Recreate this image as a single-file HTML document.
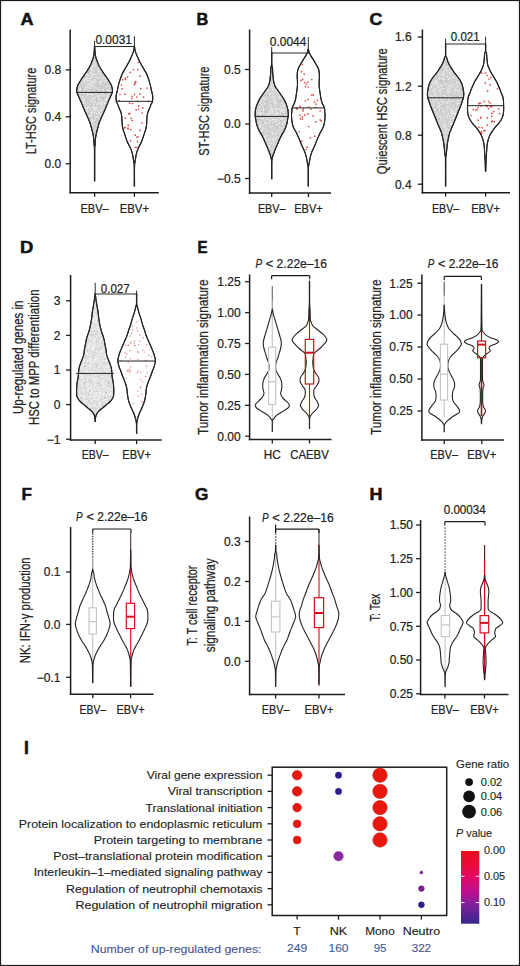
<!DOCTYPE html>
<html><head><meta charset="utf-8"><title>Figure</title>
<style>
html,body{margin:0;padding:0;background:#fff;}
body{width:520px;height:966px;overflow:hidden;font-family:"Liberation Sans",sans-serif;}
svg{display:block;}
</style></head><body>
<svg width="520" height="966" viewBox="0 0 520 966" font-family="Liberation Sans, sans-serif">
<rect x="0" y="0" width="520" height="966" fill="#ffffff"/>
<text x="20.50" y="24.50" font-size="16" fill="#111" stroke="#111" stroke-width="0.5" font-weight="bold" textLength="13.00" lengthAdjust="spacingAndGlyphs">A</text>
<path d="M94.48,46.50 C94.42,47.60 94.28,51.33 94.10,53.10 C93.92,54.87 93.75,55.75 93.40,57.10 C93.05,58.45 92.50,59.85 92.00,61.20 C91.50,62.55 91.05,63.87 90.40,65.20 C89.75,66.53 88.92,67.85 88.10,69.20 C87.28,70.55 86.40,71.95 85.50,73.30 C84.60,74.65 83.60,75.97 82.70,77.30 C81.80,78.63 80.92,79.95 80.10,81.30 C79.28,82.65 78.35,84.05 77.80,85.40 C77.25,86.75 76.97,88.23 76.80,89.40 C76.63,90.57 76.67,91.63 76.80,92.40 C76.93,93.17 77.18,93.05 77.60,94.00 C78.02,94.95 78.72,96.75 79.30,98.10 C79.88,99.45 80.52,100.75 81.10,102.10 C81.68,103.45 82.23,104.85 82.80,106.20 C83.37,107.55 83.92,108.87 84.50,110.20 C85.08,111.53 85.70,112.85 86.30,114.20 C86.90,115.55 87.52,116.95 88.10,118.30 C88.68,119.65 89.32,120.97 89.80,122.30 C90.28,123.63 90.62,124.95 91.00,126.30 C91.38,127.65 91.77,129.05 92.10,130.40 C92.43,131.75 92.73,133.05 93.00,134.40 C93.27,135.75 93.52,136.73 93.70,138.50 C93.88,140.27 93.97,143.08 94.10,145.00 C94.23,146.92 94.42,144.03 94.48,150.00 C94.54,155.97 94.48,175.67 94.48,180.80 L94.72,180.80 C94.72,175.67 94.66,155.97 94.72,150.00 C94.78,144.03 94.97,146.92 95.10,145.00 C95.23,143.08 95.32,140.27 95.50,138.50 C95.68,136.73 95.93,135.75 96.20,134.40 C96.47,133.05 96.77,131.75 97.10,130.40 C97.43,129.05 97.82,127.65 98.20,126.30 C98.58,124.95 98.92,123.63 99.40,122.30 C99.88,120.97 100.52,119.65 101.10,118.30 C101.68,116.95 102.30,115.55 102.90,114.20 C103.50,112.85 104.12,111.53 104.70,110.20 C105.28,108.87 105.83,107.55 106.40,106.20 C106.97,104.85 107.52,103.45 108.10,102.10 C108.68,100.75 109.32,99.45 109.90,98.10 C110.48,96.75 111.18,94.95 111.60,94.00 C112.02,93.05 112.27,93.17 112.40,92.40 C112.53,91.63 112.57,90.57 112.40,89.40 C112.23,88.23 111.95,86.75 111.40,85.40 C110.85,84.05 109.92,82.65 109.10,81.30 C108.28,79.95 107.40,78.63 106.50,77.30 C105.60,75.97 104.60,74.65 103.70,73.30 C102.80,71.95 101.92,70.55 101.10,69.20 C100.28,67.85 99.45,66.53 98.80,65.20 C98.15,63.87 97.70,62.55 97.20,61.20 C96.70,59.85 96.15,58.45 95.80,57.10 C95.45,55.75 95.28,54.87 95.10,53.10 C94.92,51.33 94.78,47.60 94.72,46.50 Z" fill="#d2d2d2" stroke="#242424" stroke-width="1.1" stroke-linejoin="round"/>
<g fill="#f4f4f4" opacity="0.9"><circle cx="99.2" cy="90.0" r="0.7"/><circle cx="93.7" cy="114.6" r="0.7"/><circle cx="83.7" cy="85.4" r="0.7"/><circle cx="85.1" cy="87.9" r="0.7"/><circle cx="82.7" cy="96.5" r="0.7"/><circle cx="96.5" cy="103.9" r="0.7"/><circle cx="100.3" cy="107.4" r="0.7"/><circle cx="95.2" cy="79.3" r="0.7"/><circle cx="97.4" cy="88.6" r="0.7"/><circle cx="99.3" cy="84.7" r="0.7"/><circle cx="87.6" cy="108.5" r="0.7"/><circle cx="102.1" cy="106.8" r="0.7"/><circle cx="90.8" cy="83.9" r="0.7"/><circle cx="92.3" cy="66.8" r="0.7"/><circle cx="96.5" cy="77.8" r="0.7"/><circle cx="92.6" cy="81.8" r="0.7"/><circle cx="107.0" cy="96.1" r="0.7"/><circle cx="84.6" cy="99.2" r="0.7"/><circle cx="91.9" cy="74.5" r="0.7"/><circle cx="93.4" cy="66.8" r="0.7"/><circle cx="91.4" cy="80.4" r="0.7"/><circle cx="87.2" cy="109.1" r="0.7"/><circle cx="104.5" cy="92.5" r="0.7"/><circle cx="99.1" cy="68.2" r="0.7"/><circle cx="95.1" cy="117.4" r="0.7"/><circle cx="86.3" cy="81.6" r="0.7"/><circle cx="104.0" cy="90.8" r="0.7"/><circle cx="91.7" cy="77.0" r="0.7"/><circle cx="99.8" cy="84.0" r="0.7"/><circle cx="87.0" cy="95.5" r="0.7"/><circle cx="96.5" cy="72.9" r="0.7"/><circle cx="99.5" cy="110.7" r="0.7"/><circle cx="108.9" cy="91.2" r="0.7"/><circle cx="105.7" cy="99.7" r="0.7"/><circle cx="90.7" cy="69.3" r="0.7"/><circle cx="83.8" cy="93.6" r="0.7"/><circle cx="91.0" cy="74.8" r="0.7"/><circle cx="89.3" cy="78.8" r="0.7"/><circle cx="103.8" cy="102.8" r="0.7"/><circle cx="97.0" cy="94.0" r="0.7"/><circle cx="93.9" cy="116.8" r="0.7"/><circle cx="98.5" cy="71.1" r="0.7"/><circle cx="92.7" cy="121.7" r="0.7"/><circle cx="94.2" cy="107.3" r="0.7"/><circle cx="105.6" cy="81.4" r="0.7"/><circle cx="94.2" cy="64.9" r="0.7"/><circle cx="98.3" cy="78.8" r="0.7"/><circle cx="106.6" cy="100.0" r="0.7"/><circle cx="90.7" cy="115.7" r="0.7"/><circle cx="80.1" cy="89.3" r="0.7"/><circle cx="95.0" cy="91.0" r="0.7"/><circle cx="101.7" cy="82.2" r="0.7"/><circle cx="92.6" cy="82.8" r="0.7"/><circle cx="104.9" cy="81.2" r="0.7"/><circle cx="104.2" cy="103.6" r="0.7"/><circle cx="95.6" cy="107.4" r="0.7"/><circle cx="95.3" cy="82.5" r="0.7"/><circle cx="87.3" cy="78.5" r="0.7"/><circle cx="91.5" cy="73.6" r="0.7"/><circle cx="85.4" cy="85.4" r="0.7"/><circle cx="87.2" cy="93.1" r="0.7"/><circle cx="94.4" cy="120.5" r="0.7"/><circle cx="101.7" cy="104.5" r="0.7"/><circle cx="99.3" cy="99.3" r="0.7"/><circle cx="100.8" cy="92.5" r="0.7"/><circle cx="83.9" cy="100.9" r="0.7"/><circle cx="96.1" cy="63.9" r="0.7"/><circle cx="84.6" cy="80.8" r="0.7"/><circle cx="88.9" cy="84.4" r="0.7"/><circle cx="93.6" cy="108.2" r="0.7"/><circle cx="99.2" cy="120.0" r="0.7"/><circle cx="79.8" cy="88.1" r="0.7"/><circle cx="94.7" cy="97.8" r="0.7"/><circle cx="92.1" cy="82.0" r="0.7"/><circle cx="97.1" cy="87.4" r="0.7"/><circle cx="106.9" cy="98.8" r="0.7"/><circle cx="87.1" cy="77.4" r="0.7"/><circle cx="104.1" cy="94.9" r="0.7"/><circle cx="99.3" cy="112.2" r="0.7"/><circle cx="89.1" cy="80.4" r="0.7"/><circle cx="94.3" cy="112.8" r="0.7"/><circle cx="80.3" cy="87.4" r="0.7"/><circle cx="99.6" cy="82.6" r="0.7"/><circle cx="93.6" cy="85.6" r="0.7"/><circle cx="101.7" cy="109.1" r="0.7"/><circle cx="88.9" cy="106.9" r="0.7"/><circle cx="86.7" cy="111.8" r="0.7"/><circle cx="91.6" cy="112.5" r="0.7"/><circle cx="79.6" cy="88.9" r="0.7"/><circle cx="91.5" cy="85.4" r="0.7"/><circle cx="84.8" cy="104.0" r="0.7"/><circle cx="94.9" cy="80.0" r="0.7"/><circle cx="101.0" cy="72.0" r="0.7"/><circle cx="106.6" cy="84.9" r="0.7"/><circle cx="101.8" cy="92.7" r="0.7"/><circle cx="89.7" cy="81.4" r="0.7"/><circle cx="91.4" cy="69.0" r="0.7"/><circle cx="100.6" cy="113.3" r="0.7"/><circle cx="88.6" cy="106.9" r="0.7"/><circle cx="86.7" cy="92.4" r="0.7"/><circle cx="104.1" cy="81.2" r="0.7"/><circle cx="95.2" cy="101.9" r="0.7"/><circle cx="82.9" cy="97.1" r="0.7"/><circle cx="90.0" cy="75.5" r="0.7"/><circle cx="105.7" cy="100.2" r="0.7"/><circle cx="86.6" cy="79.9" r="0.7"/><circle cx="85.9" cy="107.9" r="0.7"/><circle cx="87.3" cy="87.3" r="0.7"/><circle cx="94.7" cy="61.6" r="0.7"/><circle cx="108.0" cy="87.0" r="0.7"/><circle cx="90.3" cy="110.3" r="0.7"/><circle cx="94.6" cy="87.8" r="0.7"/><circle cx="98.3" cy="102.9" r="0.7"/><circle cx="91.4" cy="77.0" r="0.7"/><circle cx="101.2" cy="114.3" r="0.7"/><circle cx="86.6" cy="88.4" r="0.7"/><circle cx="90.5" cy="113.1" r="0.7"/><circle cx="104.8" cy="102.5" r="0.7"/><circle cx="91.3" cy="65.6" r="0.7"/><circle cx="107.8" cy="90.7" r="0.7"/><circle cx="90.1" cy="97.3" r="0.7"/><circle cx="92.2" cy="69.2" r="0.7"/><circle cx="100.0" cy="74.4" r="0.7"/><circle cx="94.0" cy="104.6" r="0.7"/><circle cx="100.4" cy="72.4" r="0.7"/><circle cx="108.4" cy="92.0" r="0.7"/><circle cx="79.7" cy="89.0" r="0.7"/><circle cx="104.1" cy="77.9" r="0.7"/><circle cx="92.8" cy="98.4" r="0.7"/><circle cx="103.1" cy="89.4" r="0.7"/><circle cx="83.9" cy="79.7" r="0.7"/><circle cx="84.4" cy="82.1" r="0.7"/><circle cx="93.0" cy="106.5" r="0.7"/><circle cx="90.9" cy="86.0" r="0.7"/><circle cx="90.7" cy="73.3" r="0.7"/><circle cx="98.9" cy="114.6" r="0.7"/><circle cx="85.7" cy="85.9" r="0.7"/><circle cx="100.0" cy="106.8" r="0.7"/><circle cx="88.0" cy="75.7" r="0.7"/><circle cx="96.2" cy="73.9" r="0.7"/><circle cx="91.8" cy="73.8" r="0.7"/><circle cx="90.6" cy="71.4" r="0.7"/><circle cx="90.7" cy="120.1" r="0.7"/><circle cx="98.1" cy="99.6" r="0.7"/><circle cx="90.1" cy="101.5" r="0.7"/><circle cx="90.3" cy="88.5" r="0.7"/><circle cx="101.0" cy="95.4" r="0.7"/><circle cx="101.1" cy="73.9" r="0.7"/><circle cx="85.6" cy="108.4" r="0.7"/><circle cx="91.6" cy="114.2" r="0.7"/><circle cx="101.3" cy="73.0" r="0.7"/><circle cx="101.5" cy="111.3" r="0.7"/><circle cx="101.2" cy="76.3" r="0.7"/><circle cx="93.3" cy="71.1" r="0.7"/><circle cx="97.0" cy="87.6" r="0.7"/><circle cx="85.1" cy="106.5" r="0.7"/><circle cx="94.1" cy="108.0" r="0.7"/><circle cx="85.3" cy="105.9" r="0.7"/><circle cx="94.7" cy="115.2" r="0.7"/><circle cx="84.6" cy="93.6" r="0.7"/><circle cx="94.7" cy="74.5" r="0.7"/><circle cx="85.0" cy="89.4" r="0.7"/><circle cx="99.5" cy="105.9" r="0.7"/><circle cx="106.1" cy="80.6" r="0.7"/><circle cx="80.7" cy="88.5" r="0.7"/><circle cx="103.0" cy="104.5" r="0.7"/><circle cx="90.5" cy="94.2" r="0.7"/><circle cx="85.6" cy="79.2" r="0.7"/><circle cx="82.8" cy="100.5" r="0.7"/><circle cx="100.6" cy="78.4" r="0.7"/><circle cx="95.4" cy="65.6" r="0.7"/><circle cx="92.2" cy="70.0" r="0.7"/><circle cx="87.0" cy="107.3" r="0.7"/><circle cx="91.2" cy="77.7" r="0.7"/><circle cx="93.0" cy="82.2" r="0.7"/><circle cx="96.3" cy="116.8" r="0.7"/><circle cx="100.7" cy="81.5" r="0.7"/><circle cx="89.4" cy="90.4" r="0.7"/><circle cx="91.5" cy="65.9" r="0.7"/><circle cx="80.5" cy="92.8" r="0.7"/><circle cx="86.9" cy="74.1" r="0.7"/><circle cx="83.2" cy="85.1" r="0.7"/><circle cx="93.4" cy="74.0" r="0.7"/><circle cx="99.8" cy="81.0" r="0.7"/><circle cx="107.4" cy="95.9" r="0.7"/><circle cx="94.2" cy="129.5" r="0.7"/><circle cx="95.7" cy="93.1" r="0.7"/><circle cx="91.2" cy="69.4" r="0.7"/><circle cx="87.5" cy="93.1" r="0.7"/><circle cx="100.1" cy="84.6" r="0.7"/><circle cx="96.6" cy="113.4" r="0.7"/><circle cx="91.6" cy="94.3" r="0.7"/><circle cx="101.2" cy="74.2" r="0.7"/><circle cx="100.1" cy="113.8" r="0.7"/><circle cx="95.3" cy="77.9" r="0.7"/><circle cx="84.4" cy="93.3" r="0.7"/><circle cx="94.3" cy="124.3" r="0.7"/><circle cx="90.3" cy="78.5" r="0.7"/><circle cx="92.3" cy="67.3" r="0.7"/><circle cx="84.3" cy="90.4" r="0.7"/><circle cx="109.0" cy="90.6" r="0.7"/><circle cx="97.5" cy="104.9" r="0.7"/><circle cx="86.9" cy="74.2" r="0.7"/><circle cx="96.5" cy="108.7" r="0.7"/><circle cx="99.9" cy="104.3" r="0.7"/><circle cx="99.5" cy="103.1" r="0.7"/><circle cx="97.1" cy="107.5" r="0.7"/><circle cx="93.6" cy="80.1" r="0.7"/><circle cx="106.7" cy="98.7" r="0.7"/><circle cx="97.5" cy="119.5" r="0.7"/><circle cx="95.5" cy="116.2" r="0.7"/><circle cx="88.1" cy="94.2" r="0.7"/><circle cx="92.6" cy="100.2" r="0.7"/><circle cx="86.6" cy="93.8" r="0.7"/><circle cx="98.2" cy="117.3" r="0.7"/><circle cx="85.3" cy="99.1" r="0.7"/><circle cx="103.8" cy="93.9" r="0.7"/><circle cx="95.5" cy="109.4" r="0.7"/><circle cx="88.3" cy="82.4" r="0.7"/><circle cx="83.8" cy="103.7" r="0.7"/><circle cx="89.2" cy="84.3" r="0.7"/><circle cx="96.9" cy="110.9" r="0.7"/><circle cx="86.3" cy="80.1" r="0.7"/><circle cx="106.6" cy="93.0" r="0.7"/><circle cx="92.2" cy="121.0" r="0.7"/><circle cx="94.4" cy="109.2" r="0.7"/><circle cx="107.0" cy="96.9" r="0.7"/><circle cx="90.5" cy="92.0" r="0.7"/><circle cx="93.3" cy="74.8" r="0.7"/><circle cx="91.8" cy="85.8" r="0.7"/><circle cx="94.7" cy="114.2" r="0.7"/><circle cx="88.5" cy="90.9" r="0.7"/><circle cx="92.6" cy="119.7" r="0.7"/><circle cx="98.1" cy="70.8" r="0.7"/><circle cx="89.3" cy="87.1" r="0.7"/><circle cx="91.6" cy="122.7" r="0.7"/><circle cx="92.4" cy="106.5" r="0.7"/><circle cx="87.8" cy="110.4" r="0.7"/><circle cx="86.1" cy="75.0" r="0.7"/><circle cx="96.0" cy="63.8" r="0.7"/><circle cx="98.4" cy="71.7" r="0.7"/><circle cx="84.7" cy="88.3" r="0.7"/><circle cx="92.5" cy="111.8" r="0.7"/><circle cx="98.2" cy="95.3" r="0.7"/><circle cx="101.1" cy="102.6" r="0.7"/><circle cx="109.0" cy="91.1" r="0.7"/><circle cx="97.3" cy="97.1" r="0.7"/><circle cx="88.0" cy="84.5" r="0.7"/><circle cx="101.6" cy="103.2" r="0.7"/><circle cx="96.2" cy="93.1" r="0.7"/><circle cx="98.3" cy="77.9" r="0.7"/><circle cx="90.2" cy="109.0" r="0.7"/><circle cx="100.3" cy="108.2" r="0.7"/><circle cx="102.8" cy="77.8" r="0.7"/><circle cx="92.6" cy="125.6" r="0.7"/><circle cx="91.9" cy="95.2" r="0.7"/><circle cx="88.8" cy="116.0" r="0.7"/><circle cx="98.2" cy="96.7" r="0.7"/><circle cx="80.3" cy="92.8" r="0.7"/><circle cx="87.5" cy="80.6" r="0.7"/></g>
<g fill="#b0b0b0" opacity="0.8"><circle cx="88.9" cy="70.8" r="0.6"/><circle cx="98.0" cy="81.0" r="0.6"/><circle cx="86.1" cy="99.3" r="0.6"/><circle cx="90.0" cy="76.3" r="0.6"/><circle cx="102.1" cy="86.6" r="0.6"/><circle cx="83.2" cy="90.0" r="0.6"/><circle cx="90.3" cy="111.1" r="0.6"/><circle cx="100.9" cy="72.7" r="0.6"/><circle cx="100.8" cy="107.2" r="0.6"/><circle cx="91.2" cy="65.7" r="0.6"/><circle cx="98.0" cy="120.8" r="0.6"/><circle cx="85.8" cy="82.3" r="0.6"/><circle cx="94.3" cy="91.4" r="0.6"/><circle cx="90.9" cy="74.9" r="0.6"/><circle cx="91.3" cy="81.1" r="0.6"/><circle cx="79.5" cy="92.3" r="0.6"/><circle cx="93.8" cy="117.2" r="0.6"/><circle cx="96.5" cy="65.0" r="0.6"/><circle cx="88.4" cy="72.9" r="0.6"/><circle cx="97.6" cy="83.3" r="0.6"/><circle cx="91.6" cy="124.8" r="0.6"/><circle cx="105.6" cy="91.5" r="0.6"/><circle cx="100.9" cy="112.7" r="0.6"/><circle cx="103.1" cy="82.3" r="0.6"/><circle cx="91.0" cy="95.8" r="0.6"/><circle cx="94.7" cy="126.4" r="0.6"/><circle cx="87.0" cy="106.4" r="0.6"/><circle cx="91.0" cy="89.6" r="0.6"/><circle cx="86.9" cy="76.5" r="0.6"/><circle cx="96.1" cy="72.7" r="0.6"/><circle cx="89.1" cy="113.8" r="0.6"/><circle cx="96.8" cy="101.0" r="0.6"/><circle cx="103.3" cy="98.7" r="0.6"/><circle cx="89.6" cy="92.0" r="0.6"/><circle cx="97.7" cy="80.0" r="0.6"/><circle cx="82.6" cy="95.4" r="0.6"/><circle cx="84.5" cy="104.7" r="0.6"/><circle cx="88.8" cy="82.2" r="0.6"/><circle cx="98.8" cy="85.1" r="0.6"/><circle cx="94.2" cy="115.5" r="0.6"/><circle cx="90.4" cy="118.2" r="0.6"/><circle cx="88.5" cy="101.1" r="0.6"/><circle cx="86.3" cy="88.2" r="0.6"/><circle cx="95.7" cy="115.3" r="0.6"/><circle cx="94.4" cy="78.5" r="0.6"/><circle cx="84.7" cy="86.2" r="0.6"/><circle cx="92.3" cy="105.6" r="0.6"/><circle cx="98.0" cy="93.8" r="0.6"/><circle cx="98.9" cy="107.2" r="0.6"/><circle cx="96.2" cy="85.8" r="0.6"/><circle cx="102.1" cy="98.1" r="0.6"/><circle cx="89.9" cy="71.2" r="0.6"/><circle cx="104.8" cy="90.0" r="0.6"/><circle cx="101.3" cy="73.9" r="0.6"/><circle cx="97.0" cy="98.8" r="0.6"/><circle cx="93.1" cy="117.0" r="0.6"/><circle cx="96.4" cy="100.3" r="0.6"/><circle cx="96.6" cy="111.9" r="0.6"/><circle cx="104.1" cy="92.6" r="0.6"/><circle cx="100.0" cy="69.4" r="0.6"/><circle cx="99.8" cy="115.3" r="0.6"/><circle cx="89.9" cy="103.0" r="0.6"/><circle cx="96.4" cy="71.8" r="0.6"/><circle cx="79.9" cy="87.7" r="0.6"/><circle cx="97.1" cy="87.4" r="0.6"/><circle cx="96.0" cy="120.8" r="0.6"/><circle cx="96.0" cy="62.8" r="0.6"/><circle cx="90.2" cy="89.9" r="0.6"/><circle cx="90.2" cy="69.3" r="0.6"/><circle cx="85.9" cy="106.9" r="0.6"/><circle cx="104.6" cy="80.0" r="0.6"/><circle cx="108.1" cy="87.3" r="0.6"/><circle cx="99.5" cy="79.1" r="0.6"/><circle cx="101.7" cy="76.2" r="0.6"/><circle cx="91.4" cy="79.2" r="0.6"/><circle cx="83.6" cy="85.5" r="0.6"/><circle cx="85.5" cy="100.6" r="0.6"/><circle cx="85.6" cy="93.7" r="0.6"/><circle cx="81.7" cy="84.6" r="0.6"/><circle cx="100.8" cy="92.4" r="0.6"/><circle cx="93.9" cy="114.3" r="0.6"/><circle cx="88.1" cy="79.6" r="0.6"/><circle cx="97.4" cy="119.4" r="0.6"/><circle cx="96.4" cy="98.2" r="0.6"/><circle cx="82.3" cy="88.2" r="0.6"/><circle cx="82.8" cy="89.6" r="0.6"/><circle cx="88.3" cy="113.7" r="0.6"/><circle cx="83.5" cy="88.3" r="0.6"/><circle cx="105.9" cy="84.4" r="0.6"/><circle cx="99.2" cy="93.7" r="0.6"/><circle cx="85.3" cy="93.8" r="0.6"/><circle cx="92.6" cy="68.3" r="0.6"/><circle cx="89.6" cy="97.6" r="0.6"/><circle cx="99.0" cy="80.7" r="0.6"/><circle cx="104.4" cy="93.4" r="0.6"/><circle cx="104.6" cy="85.0" r="0.6"/><circle cx="93.2" cy="128.1" r="0.6"/><circle cx="106.9" cy="84.3" r="0.6"/><circle cx="98.4" cy="107.3" r="0.6"/><circle cx="103.8" cy="104.0" r="0.6"/><circle cx="106.3" cy="81.6" r="0.6"/><circle cx="90.1" cy="119.6" r="0.6"/><circle cx="86.1" cy="94.6" r="0.6"/><circle cx="100.8" cy="88.2" r="0.6"/><circle cx="94.9" cy="78.4" r="0.6"/><circle cx="105.8" cy="93.7" r="0.6"/><circle cx="96.1" cy="91.3" r="0.6"/><circle cx="82.2" cy="94.9" r="0.6"/><circle cx="100.1" cy="84.2" r="0.6"/><circle cx="91.1" cy="106.7" r="0.6"/><circle cx="88.7" cy="109.4" r="0.6"/><circle cx="94.5" cy="122.2" r="0.6"/><circle cx="95.5" cy="104.8" r="0.6"/><circle cx="86.1" cy="80.3" r="0.6"/><circle cx="98.6" cy="86.3" r="0.6"/><circle cx="104.4" cy="90.4" r="0.6"/><circle cx="96.1" cy="89.5" r="0.6"/><circle cx="96.1" cy="78.6" r="0.6"/><circle cx="95.9" cy="124.5" r="0.6"/><circle cx="99.2" cy="105.5" r="0.6"/></g>
<path d="M94.48,46.50 C94.42,47.60 94.28,51.33 94.10,53.10 C93.92,54.87 93.75,55.75 93.40,57.10 C93.05,58.45 92.50,59.85 92.00,61.20 C91.50,62.55 91.05,63.87 90.40,65.20 C89.75,66.53 88.92,67.85 88.10,69.20 C87.28,70.55 86.40,71.95 85.50,73.30 C84.60,74.65 83.60,75.97 82.70,77.30 C81.80,78.63 80.92,79.95 80.10,81.30 C79.28,82.65 78.35,84.05 77.80,85.40 C77.25,86.75 76.97,88.23 76.80,89.40 C76.63,90.57 76.67,91.63 76.80,92.40 C76.93,93.17 77.18,93.05 77.60,94.00 C78.02,94.95 78.72,96.75 79.30,98.10 C79.88,99.45 80.52,100.75 81.10,102.10 C81.68,103.45 82.23,104.85 82.80,106.20 C83.37,107.55 83.92,108.87 84.50,110.20 C85.08,111.53 85.70,112.85 86.30,114.20 C86.90,115.55 87.52,116.95 88.10,118.30 C88.68,119.65 89.32,120.97 89.80,122.30 C90.28,123.63 90.62,124.95 91.00,126.30 C91.38,127.65 91.77,129.05 92.10,130.40 C92.43,131.75 92.73,133.05 93.00,134.40 C93.27,135.75 93.52,136.73 93.70,138.50 C93.88,140.27 93.97,143.08 94.10,145.00 C94.23,146.92 94.42,144.03 94.48,150.00 C94.54,155.97 94.48,175.67 94.48,180.80 L94.72,180.80 C94.72,175.67 94.66,155.97 94.72,150.00 C94.78,144.03 94.97,146.92 95.10,145.00 C95.23,143.08 95.32,140.27 95.50,138.50 C95.68,136.73 95.93,135.75 96.20,134.40 C96.47,133.05 96.77,131.75 97.10,130.40 C97.43,129.05 97.82,127.65 98.20,126.30 C98.58,124.95 98.92,123.63 99.40,122.30 C99.88,120.97 100.52,119.65 101.10,118.30 C101.68,116.95 102.30,115.55 102.90,114.20 C103.50,112.85 104.12,111.53 104.70,110.20 C105.28,108.87 105.83,107.55 106.40,106.20 C106.97,104.85 107.52,103.45 108.10,102.10 C108.68,100.75 109.32,99.45 109.90,98.10 C110.48,96.75 111.18,94.95 111.60,94.00 C112.02,93.05 112.27,93.17 112.40,92.40 C112.53,91.63 112.57,90.57 112.40,89.40 C112.23,88.23 111.95,86.75 111.40,85.40 C110.85,84.05 109.92,82.65 109.10,81.30 C108.28,79.95 107.40,78.63 106.50,77.30 C105.60,75.97 104.60,74.65 103.70,73.30 C102.80,71.95 101.92,70.55 101.10,69.20 C100.28,67.85 99.45,66.53 98.80,65.20 C98.15,63.87 97.70,62.55 97.20,61.20 C96.70,59.85 96.15,58.45 95.80,57.10 C95.45,55.75 95.28,54.87 95.10,53.10 C94.92,51.33 94.78,47.60 94.72,46.50 Z" fill="none" stroke="#242424" stroke-width="1.1" stroke-linejoin="round"/>
<line x1="76.80" y1="92.40" x2="112.40" y2="92.40" stroke="#202020" stroke-width="1.0"/>
<path d="M134.28,46.60 C134.22,47.13 134.13,48.72 133.90,49.80 C133.67,50.88 133.35,51.88 132.90,53.10 C132.45,54.32 131.80,55.75 131.20,57.10 C130.60,58.45 129.98,59.85 129.30,61.20 C128.62,62.55 127.85,63.87 127.10,65.20 C126.35,66.53 125.57,67.85 124.80,69.20 C124.03,70.55 123.15,71.95 122.50,73.30 C121.85,74.65 121.40,75.97 120.90,77.30 C120.40,78.63 119.92,79.95 119.50,81.30 C119.08,82.65 118.72,84.05 118.40,85.40 C118.08,86.75 117.90,88.05 117.60,89.40 C117.30,90.75 116.85,92.40 116.60,93.50 C116.35,94.60 116.15,94.70 116.10,96.00 C116.05,97.30 116.05,99.95 116.30,101.30 C116.55,102.65 117.12,102.95 117.60,104.10 C118.08,105.25 118.65,106.85 119.20,108.20 C119.75,109.55 120.48,110.87 120.90,112.20 C121.32,113.53 121.52,114.85 121.70,116.20 C121.88,117.55 121.92,118.95 122.00,120.30 C122.08,121.65 122.07,122.97 122.20,124.30 C122.33,125.63 122.48,126.95 122.80,128.30 C123.12,129.65 123.67,131.05 124.10,132.40 C124.53,133.75 124.98,135.13 125.40,136.40 C125.82,137.67 126.27,139.07 126.60,140.00 C126.93,140.93 126.93,140.98 127.40,142.00 C127.87,143.02 128.75,144.75 129.40,146.10 C130.05,147.45 130.78,148.75 131.30,150.10 C131.82,151.45 132.18,152.85 132.50,154.20 C132.82,155.55 132.98,156.87 133.20,158.20 C133.42,159.53 133.62,160.90 133.80,162.20 C133.98,163.50 134.20,162.02 134.28,166.00 C134.36,169.98 134.28,182.75 134.28,186.10 L134.52,186.10 C134.52,182.75 134.44,169.98 134.52,166.00 C134.60,162.02 134.82,163.50 135.00,162.20 C135.18,160.90 135.38,159.53 135.60,158.20 C135.82,156.87 135.98,155.55 136.30,154.20 C136.62,152.85 136.98,151.45 137.50,150.10 C138.02,148.75 138.75,147.45 139.40,146.10 C140.05,144.75 140.93,143.02 141.40,142.00 C141.87,140.98 141.87,140.93 142.20,140.00 C142.53,139.07 142.98,137.67 143.40,136.40 C143.82,135.13 144.27,133.75 144.70,132.40 C145.13,131.05 145.68,129.65 146.00,128.30 C146.32,126.95 146.47,125.63 146.60,124.30 C146.73,122.97 146.72,121.65 146.80,120.30 C146.88,118.95 146.92,117.55 147.10,116.20 C147.28,114.85 147.48,113.53 147.90,112.20 C148.32,110.87 149.05,109.55 149.60,108.20 C150.15,106.85 150.72,105.25 151.20,104.10 C151.68,102.95 152.25,102.65 152.50,101.30 C152.75,99.95 152.75,97.30 152.70,96.00 C152.65,94.70 152.45,94.60 152.20,93.50 C151.95,92.40 151.50,90.75 151.20,89.40 C150.90,88.05 150.72,86.75 150.40,85.40 C150.08,84.05 149.72,82.65 149.30,81.30 C148.88,79.95 148.40,78.63 147.90,77.30 C147.40,75.97 146.95,74.65 146.30,73.30 C145.65,71.95 144.77,70.55 144.00,69.20 C143.23,67.85 142.45,66.53 141.70,65.20 C140.95,63.87 140.18,62.55 139.50,61.20 C138.82,59.85 138.20,58.45 137.60,57.10 C137.00,55.75 136.35,54.32 135.90,53.10 C135.45,51.88 135.13,50.88 134.90,49.80 C134.67,48.72 134.58,47.13 134.52,46.60 Z" fill="#ffffff" stroke="#242424" stroke-width="1.1" stroke-linejoin="round"/>
<g fill="#e04a4a" opacity="1.0"><circle cx="138.8" cy="105.9" r="0.85"/><circle cx="131.0" cy="118.4" r="0.85"/><circle cx="142.9" cy="107.8" r="0.85"/><circle cx="133.5" cy="69.5" r="0.85"/><circle cx="128.2" cy="125.2" r="0.85"/><circle cx="147.1" cy="88.0" r="0.85"/><circle cx="129.9" cy="113.7" r="0.85"/><circle cx="120.0" cy="94.5" r="0.85"/><circle cx="138.5" cy="109.0" r="0.85"/><circle cx="131.8" cy="98.5" r="0.85"/><circle cx="132.2" cy="120.5" r="0.85"/><circle cx="138.3" cy="62.5" r="0.85"/><circle cx="141.9" cy="123.1" r="0.85"/><circle cx="135.2" cy="82.0" r="0.85"/><circle cx="135.8" cy="81.7" r="0.85"/><circle cx="125.3" cy="78.2" r="0.85"/><circle cx="125.4" cy="118.2" r="0.85"/><circle cx="132.6" cy="103.5" r="0.85"/><circle cx="136.9" cy="147.3" r="0.85"/><circle cx="148.6" cy="101.3" r="0.85"/><circle cx="122.6" cy="79.6" r="0.85"/><circle cx="130.6" cy="129.5" r="0.85"/><circle cx="139.9" cy="94.2" r="0.85"/><circle cx="135.2" cy="147.3" r="0.85"/><circle cx="130.5" cy="140.8" r="0.85"/><circle cx="124.9" cy="127.7" r="0.85"/><circle cx="130.3" cy="72.4" r="0.85"/><circle cx="134.5" cy="94.4" r="0.85"/><circle cx="142.2" cy="113.0" r="0.85"/><circle cx="137.8" cy="101.5" r="0.85"/><circle cx="128.0" cy="128.8" r="0.85"/><circle cx="136.8" cy="97.0" r="0.85"/><circle cx="119.2" cy="100.7" r="0.85"/><circle cx="124.8" cy="127.4" r="0.85"/><circle cx="134.4" cy="84.6" r="0.85"/><circle cx="135.1" cy="83.2" r="0.85"/><circle cx="143.6" cy="97.2" r="0.85"/><circle cx="137.6" cy="141.6" r="0.85"/><circle cx="135.2" cy="135.2" r="0.85"/><circle cx="129.6" cy="103.2" r="0.85"/><circle cx="128.6" cy="113.8" r="0.85"/><circle cx="125.6" cy="79.4" r="0.85"/><circle cx="136.1" cy="109.8" r="0.85"/><circle cx="122.1" cy="88.8" r="0.85"/><circle cx="140.8" cy="88.7" r="0.85"/><circle cx="128.0" cy="128.0" r="0.85"/><circle cx="132.2" cy="96.4" r="0.85"/><circle cx="121.5" cy="85.1" r="0.85"/><circle cx="137.8" cy="69.6" r="0.85"/><circle cx="127.6" cy="77.1" r="0.85"/><circle cx="137.9" cy="137.0" r="0.85"/><circle cx="140.1" cy="130.4" r="0.85"/><circle cx="124.9" cy="94.2" r="0.85"/><circle cx="139.9" cy="76.2" r="0.85"/><circle cx="137.1" cy="137.1" r="0.85"/></g>
<path d="M134.28,46.60 C134.22,47.13 134.13,48.72 133.90,49.80 C133.67,50.88 133.35,51.88 132.90,53.10 C132.45,54.32 131.80,55.75 131.20,57.10 C130.60,58.45 129.98,59.85 129.30,61.20 C128.62,62.55 127.85,63.87 127.10,65.20 C126.35,66.53 125.57,67.85 124.80,69.20 C124.03,70.55 123.15,71.95 122.50,73.30 C121.85,74.65 121.40,75.97 120.90,77.30 C120.40,78.63 119.92,79.95 119.50,81.30 C119.08,82.65 118.72,84.05 118.40,85.40 C118.08,86.75 117.90,88.05 117.60,89.40 C117.30,90.75 116.85,92.40 116.60,93.50 C116.35,94.60 116.15,94.70 116.10,96.00 C116.05,97.30 116.05,99.95 116.30,101.30 C116.55,102.65 117.12,102.95 117.60,104.10 C118.08,105.25 118.65,106.85 119.20,108.20 C119.75,109.55 120.48,110.87 120.90,112.20 C121.32,113.53 121.52,114.85 121.70,116.20 C121.88,117.55 121.92,118.95 122.00,120.30 C122.08,121.65 122.07,122.97 122.20,124.30 C122.33,125.63 122.48,126.95 122.80,128.30 C123.12,129.65 123.67,131.05 124.10,132.40 C124.53,133.75 124.98,135.13 125.40,136.40 C125.82,137.67 126.27,139.07 126.60,140.00 C126.93,140.93 126.93,140.98 127.40,142.00 C127.87,143.02 128.75,144.75 129.40,146.10 C130.05,147.45 130.78,148.75 131.30,150.10 C131.82,151.45 132.18,152.85 132.50,154.20 C132.82,155.55 132.98,156.87 133.20,158.20 C133.42,159.53 133.62,160.90 133.80,162.20 C133.98,163.50 134.20,162.02 134.28,166.00 C134.36,169.98 134.28,182.75 134.28,186.10 L134.52,186.10 C134.52,182.75 134.44,169.98 134.52,166.00 C134.60,162.02 134.82,163.50 135.00,162.20 C135.18,160.90 135.38,159.53 135.60,158.20 C135.82,156.87 135.98,155.55 136.30,154.20 C136.62,152.85 136.98,151.45 137.50,150.10 C138.02,148.75 138.75,147.45 139.40,146.10 C140.05,144.75 140.93,143.02 141.40,142.00 C141.87,140.98 141.87,140.93 142.20,140.00 C142.53,139.07 142.98,137.67 143.40,136.40 C143.82,135.13 144.27,133.75 144.70,132.40 C145.13,131.05 145.68,129.65 146.00,128.30 C146.32,126.95 146.47,125.63 146.60,124.30 C146.73,122.97 146.72,121.65 146.80,120.30 C146.88,118.95 146.92,117.55 147.10,116.20 C147.28,114.85 147.48,113.53 147.90,112.20 C148.32,110.87 149.05,109.55 149.60,108.20 C150.15,106.85 150.72,105.25 151.20,104.10 C151.68,102.95 152.25,102.65 152.50,101.30 C152.75,99.95 152.75,97.30 152.70,96.00 C152.65,94.70 152.45,94.60 152.20,93.50 C151.95,92.40 151.50,90.75 151.20,89.40 C150.90,88.05 150.72,86.75 150.40,85.40 C150.08,84.05 149.72,82.65 149.30,81.30 C148.88,79.95 148.40,78.63 147.90,77.30 C147.40,75.97 146.95,74.65 146.30,73.30 C145.65,71.95 144.77,70.55 144.00,69.20 C143.23,67.85 142.45,66.53 141.70,65.20 C140.95,63.87 140.18,62.55 139.50,61.20 C138.82,59.85 138.20,58.45 137.60,57.10 C137.00,55.75 136.35,54.32 135.90,53.10 C135.45,51.88 135.13,50.88 134.90,49.80 C134.67,48.72 134.58,47.13 134.52,46.60 Z" fill="none" stroke="#242424" stroke-width="1.1" stroke-linejoin="round"/>
<line x1="116.30" y1="101.30" x2="152.50" y2="101.30" stroke="#202020" stroke-width="1.0"/>
<line x1="94.60" y1="46.50" x2="134.40" y2="46.50" stroke="#2a2a2a" stroke-width="1.0"/>
<line x1="94.60" y1="41.00" x2="94.60" y2="47.00" stroke="#2a2a2a" stroke-width="1.0"/>
<line x1="134.40" y1="36.30" x2="134.40" y2="48.00" stroke="#2a2a2a" stroke-width="1.0"/>
<text x="95.40" y="44.20" font-size="12" fill="#222222" stroke="#222222" stroke-width="0.22" textLength="36.60" lengthAdjust="spacingAndGlyphs">0.0031</text>
<line x1="70.20" y1="29.50" x2="70.20" y2="193.25" stroke="#1c1c1c" stroke-width="1.5"/>
<line x1="65.70" y1="69.90" x2="70.20" y2="69.90" stroke="#1c1c1c" stroke-width="1.3"/>
<text x="61.20" y="74.20" font-size="12" fill="#222222" stroke="#222222" stroke-width="0.22" text-anchor="end">0.8</text>
<line x1="65.70" y1="116.80" x2="70.20" y2="116.80" stroke="#1c1c1c" stroke-width="1.3"/>
<text x="61.20" y="121.10" font-size="12" fill="#222222" stroke="#222222" stroke-width="0.22" text-anchor="end">0.4</text>
<line x1="65.70" y1="163.80" x2="70.20" y2="163.80" stroke="#1c1c1c" stroke-width="1.3"/>
<text x="61.20" y="168.10" font-size="12" fill="#222222" stroke="#222222" stroke-width="0.22" text-anchor="end">0.0</text>
<line x1="69.45" y1="192.80" x2="158.80" y2="192.80" stroke="#1c1c1c" stroke-width="1.5"/>
<line x1="94.60" y1="192.80" x2="94.60" y2="196.80" stroke="#1c1c1c" stroke-width="1.3"/>
<text x="94.60" y="213.00" font-size="12" fill="#222222" stroke="#222222" stroke-width="0.22" text-anchor="middle" textLength="28.30" lengthAdjust="spacingAndGlyphs">EBV–</text>
<line x1="134.40" y1="192.80" x2="134.40" y2="196.80" stroke="#1c1c1c" stroke-width="1.3"/>
<text x="134.40" y="213.00" font-size="12" fill="#222222" stroke="#222222" stroke-width="0.22" text-anchor="middle" textLength="29.30" lengthAdjust="spacingAndGlyphs">EBV+</text>
<text x="35.60" y="111.00" font-size="14" fill="#222222" stroke="#222222" stroke-width="0.22" text-anchor="middle" textLength="86.60" lengthAdjust="spacingAndGlyphs" transform="rotate(-90 35.60 111.00)">LT-HSC signature</text>
<text x="196.50" y="24.50" font-size="16" fill="#111" stroke="#111" stroke-width="0.5" font-weight="bold" textLength="11.80" lengthAdjust="spacingAndGlyphs">B</text>
<path d="M271.58,52.50 C271.58,54.42 271.69,61.42 271.58,64.00 C271.47,66.58 271.05,66.62 270.90,68.00 C270.75,69.38 270.82,70.62 270.70,72.30 C270.58,73.98 270.38,76.47 270.20,78.10 C270.02,79.73 269.92,80.75 269.60,82.10 C269.28,83.45 268.97,84.85 268.30,86.20 C267.63,87.55 266.52,88.87 265.60,90.20 C264.68,91.53 263.73,92.85 262.80,94.20 C261.87,95.55 260.80,96.95 260.00,98.30 C259.20,99.65 258.60,100.97 258.00,102.30 C257.40,103.63 256.83,104.95 256.40,106.30 C255.97,107.65 255.62,109.05 255.40,110.40 C255.18,111.75 255.13,113.40 255.10,114.40 C255.07,115.40 255.10,115.63 255.20,116.40 C255.30,117.17 255.50,117.88 255.70,119.00 C255.90,120.12 256.08,121.75 256.40,123.10 C256.72,124.45 257.10,125.75 257.60,127.10 C258.10,128.45 258.70,129.85 259.40,131.20 C260.10,132.55 261.07,133.87 261.80,135.20 C262.53,136.53 263.18,137.85 263.80,139.20 C264.42,140.55 264.92,141.95 265.50,143.30 C266.08,144.65 266.73,145.97 267.30,147.30 C267.87,148.63 268.38,149.95 268.90,151.30 C269.42,152.65 270.02,154.18 270.40,155.40 C270.78,156.62 271.00,157.50 271.20,158.60 C271.40,159.70 271.52,158.63 271.58,162.00 C271.64,165.37 271.58,176.00 271.58,178.80 L271.82,178.80 C271.82,176.00 271.76,165.37 271.82,162.00 C271.88,158.63 272.00,159.70 272.20,158.60 C272.40,157.50 272.62,156.62 273.00,155.40 C273.38,154.18 273.98,152.65 274.50,151.30 C275.02,149.95 275.53,148.63 276.10,147.30 C276.67,145.97 277.32,144.65 277.90,143.30 C278.48,141.95 278.98,140.55 279.60,139.20 C280.22,137.85 280.87,136.53 281.60,135.20 C282.33,133.87 283.30,132.55 284.00,131.20 C284.70,129.85 285.30,128.45 285.80,127.10 C286.30,125.75 286.68,124.45 287.00,123.10 C287.32,121.75 287.50,120.12 287.70,119.00 C287.90,117.88 288.10,117.17 288.20,116.40 C288.30,115.63 288.33,115.40 288.30,114.40 C288.27,113.40 288.22,111.75 288.00,110.40 C287.78,109.05 287.43,107.65 287.00,106.30 C286.57,104.95 286.00,103.63 285.40,102.30 C284.80,100.97 284.20,99.65 283.40,98.30 C282.60,96.95 281.53,95.55 280.60,94.20 C279.67,92.85 278.72,91.53 277.80,90.20 C276.88,88.87 275.77,87.55 275.10,86.20 C274.43,84.85 274.12,83.45 273.80,82.10 C273.48,80.75 273.38,79.73 273.20,78.10 C273.02,76.47 272.82,73.98 272.70,72.30 C272.58,70.62 272.65,69.38 272.50,68.00 C272.35,66.62 271.93,66.58 271.82,64.00 C271.71,61.42 271.82,54.42 271.82,52.50 Z" fill="#d2d2d2" stroke="#242424" stroke-width="1.1" stroke-linejoin="round"/>
<g fill="#f4f4f4" opacity="0.9"><circle cx="270.3" cy="95.2" r="0.7"/><circle cx="271.6" cy="131.6" r="0.7"/><circle cx="270.8" cy="128.0" r="0.7"/><circle cx="266.5" cy="94.1" r="0.7"/><circle cx="273.6" cy="149.4" r="0.7"/><circle cx="274.0" cy="106.0" r="0.7"/><circle cx="274.4" cy="122.6" r="0.7"/><circle cx="272.3" cy="109.7" r="0.7"/><circle cx="279.4" cy="112.6" r="0.7"/><circle cx="268.4" cy="148.1" r="0.7"/><circle cx="262.8" cy="115.9" r="0.7"/><circle cx="265.2" cy="98.7" r="0.7"/><circle cx="267.3" cy="115.5" r="0.7"/><circle cx="282.9" cy="110.6" r="0.7"/><circle cx="273.0" cy="145.1" r="0.7"/><circle cx="282.5" cy="123.8" r="0.7"/><circle cx="266.6" cy="131.7" r="0.7"/><circle cx="280.9" cy="124.4" r="0.7"/><circle cx="282.2" cy="109.7" r="0.7"/><circle cx="267.7" cy="90.1" r="0.7"/><circle cx="268.8" cy="145.5" r="0.7"/><circle cx="269.5" cy="138.7" r="0.7"/><circle cx="271.8" cy="139.6" r="0.7"/><circle cx="259.1" cy="106.9" r="0.7"/><circle cx="269.7" cy="114.1" r="0.7"/><circle cx="274.9" cy="139.1" r="0.7"/><circle cx="267.6" cy="115.7" r="0.7"/><circle cx="280.1" cy="96.6" r="0.7"/><circle cx="268.7" cy="144.9" r="0.7"/><circle cx="269.1" cy="85.9" r="0.7"/><circle cx="273.3" cy="116.8" r="0.7"/><circle cx="275.4" cy="98.3" r="0.7"/><circle cx="284.4" cy="121.8" r="0.7"/><circle cx="269.7" cy="101.4" r="0.7"/><circle cx="265.2" cy="100.1" r="0.7"/><circle cx="273.6" cy="140.2" r="0.7"/><circle cx="284.1" cy="121.8" r="0.7"/><circle cx="285.5" cy="116.9" r="0.7"/><circle cx="274.3" cy="102.2" r="0.7"/><circle cx="273.6" cy="138.0" r="0.7"/><circle cx="274.7" cy="121.1" r="0.7"/><circle cx="272.3" cy="112.3" r="0.7"/><circle cx="261.7" cy="112.7" r="0.7"/><circle cx="272.4" cy="119.3" r="0.7"/><circle cx="280.8" cy="110.6" r="0.7"/><circle cx="271.0" cy="84.3" r="0.7"/><circle cx="260.4" cy="118.3" r="0.7"/><circle cx="279.0" cy="112.9" r="0.7"/><circle cx="272.0" cy="138.4" r="0.7"/><circle cx="269.2" cy="99.3" r="0.7"/><circle cx="263.6" cy="124.6" r="0.7"/><circle cx="269.8" cy="143.2" r="0.7"/><circle cx="261.9" cy="130.5" r="0.7"/><circle cx="277.4" cy="108.4" r="0.7"/><circle cx="273.1" cy="97.0" r="0.7"/><circle cx="265.0" cy="136.6" r="0.7"/><circle cx="282.6" cy="118.9" r="0.7"/><circle cx="272.3" cy="148.1" r="0.7"/><circle cx="281.1" cy="110.9" r="0.7"/><circle cx="281.5" cy="104.9" r="0.7"/><circle cx="272.0" cy="108.1" r="0.7"/><circle cx="276.0" cy="103.2" r="0.7"/><circle cx="278.8" cy="122.5" r="0.7"/><circle cx="277.1" cy="113.5" r="0.7"/><circle cx="284.3" cy="105.3" r="0.7"/><circle cx="276.2" cy="92.0" r="0.7"/><circle cx="269.6" cy="122.7" r="0.7"/><circle cx="270.7" cy="120.3" r="0.7"/><circle cx="267.9" cy="114.3" r="0.7"/><circle cx="266.8" cy="122.7" r="0.7"/><circle cx="273.5" cy="119.8" r="0.7"/><circle cx="275.9" cy="93.4" r="0.7"/><circle cx="282.1" cy="127.3" r="0.7"/><circle cx="259.8" cy="107.3" r="0.7"/><circle cx="281.6" cy="127.8" r="0.7"/><circle cx="276.6" cy="115.4" r="0.7"/><circle cx="275.0" cy="89.7" r="0.7"/><circle cx="265.6" cy="104.9" r="0.7"/><circle cx="265.7" cy="139.1" r="0.7"/><circle cx="275.9" cy="140.4" r="0.7"/><circle cx="272.5" cy="89.6" r="0.7"/><circle cx="268.9" cy="101.9" r="0.7"/><circle cx="272.6" cy="133.4" r="0.7"/><circle cx="269.7" cy="111.2" r="0.7"/><circle cx="276.4" cy="138.2" r="0.7"/><circle cx="267.6" cy="119.0" r="0.7"/><circle cx="262.1" cy="128.0" r="0.7"/><circle cx="268.9" cy="135.4" r="0.7"/><circle cx="278.3" cy="109.3" r="0.7"/><circle cx="273.0" cy="123.1" r="0.7"/><circle cx="272.1" cy="110.8" r="0.7"/><circle cx="273.1" cy="134.2" r="0.7"/><circle cx="274.7" cy="97.1" r="0.7"/><circle cx="260.3" cy="113.2" r="0.7"/><circle cx="260.9" cy="115.2" r="0.7"/><circle cx="272.7" cy="111.6" r="0.7"/><circle cx="263.2" cy="116.5" r="0.7"/><circle cx="262.7" cy="103.5" r="0.7"/><circle cx="273.7" cy="114.2" r="0.7"/><circle cx="275.0" cy="139.5" r="0.7"/><circle cx="271.1" cy="85.9" r="0.7"/><circle cx="282.5" cy="117.9" r="0.7"/><circle cx="274.1" cy="125.6" r="0.7"/><circle cx="261.5" cy="104.5" r="0.7"/><circle cx="269.5" cy="138.2" r="0.7"/><circle cx="279.5" cy="113.1" r="0.7"/><circle cx="272.7" cy="151.8" r="0.7"/><circle cx="280.0" cy="96.6" r="0.7"/><circle cx="279.5" cy="127.1" r="0.7"/><circle cx="271.5" cy="110.3" r="0.7"/><circle cx="275.4" cy="103.8" r="0.7"/><circle cx="260.7" cy="114.3" r="0.7"/><circle cx="270.6" cy="105.4" r="0.7"/><circle cx="269.4" cy="94.9" r="0.7"/><circle cx="262.9" cy="130.7" r="0.7"/><circle cx="279.9" cy="108.3" r="0.7"/><circle cx="276.2" cy="138.8" r="0.7"/><circle cx="279.4" cy="98.3" r="0.7"/><circle cx="282.3" cy="102.3" r="0.7"/><circle cx="262.9" cy="119.1" r="0.7"/><circle cx="283.6" cy="117.4" r="0.7"/><circle cx="273.6" cy="136.7" r="0.7"/><circle cx="272.1" cy="132.3" r="0.7"/><circle cx="285.1" cy="115.4" r="0.7"/><circle cx="282.3" cy="109.0" r="0.7"/><circle cx="278.2" cy="93.6" r="0.7"/><circle cx="260.7" cy="126.7" r="0.7"/><circle cx="276.6" cy="133.5" r="0.7"/><circle cx="278.4" cy="137.9" r="0.7"/><circle cx="272.3" cy="87.5" r="0.7"/><circle cx="272.0" cy="96.4" r="0.7"/><circle cx="270.1" cy="145.8" r="0.7"/><circle cx="275.0" cy="92.3" r="0.7"/><circle cx="276.5" cy="111.9" r="0.7"/><circle cx="275.2" cy="119.4" r="0.7"/><circle cx="282.9" cy="124.0" r="0.7"/><circle cx="276.4" cy="121.8" r="0.7"/><circle cx="278.4" cy="96.7" r="0.7"/><circle cx="276.3" cy="119.7" r="0.7"/><circle cx="270.3" cy="95.3" r="0.7"/><circle cx="266.2" cy="103.5" r="0.7"/><circle cx="262.2" cy="129.8" r="0.7"/><circle cx="273.6" cy="93.6" r="0.7"/><circle cx="271.3" cy="87.2" r="0.7"/><circle cx="268.3" cy="132.0" r="0.7"/><circle cx="279.2" cy="124.3" r="0.7"/><circle cx="279.2" cy="120.3" r="0.7"/><circle cx="259.4" cy="116.2" r="0.7"/><circle cx="272.0" cy="126.4" r="0.7"/><circle cx="280.6" cy="126.9" r="0.7"/><circle cx="270.4" cy="112.9" r="0.7"/><circle cx="263.2" cy="109.9" r="0.7"/><circle cx="264.4" cy="103.4" r="0.7"/><circle cx="277.1" cy="107.9" r="0.7"/><circle cx="268.0" cy="91.1" r="0.7"/><circle cx="260.9" cy="110.0" r="0.7"/><circle cx="261.3" cy="112.6" r="0.7"/><circle cx="264.2" cy="123.7" r="0.7"/><circle cx="273.6" cy="84.3" r="0.7"/><circle cx="268.6" cy="107.7" r="0.7"/><circle cx="259.8" cy="126.4" r="0.7"/><circle cx="266.9" cy="120.0" r="0.7"/><circle cx="263.4" cy="113.7" r="0.7"/><circle cx="273.7" cy="100.8" r="0.7"/><circle cx="275.5" cy="110.1" r="0.7"/><circle cx="271.4" cy="144.0" r="0.7"/><circle cx="276.8" cy="103.0" r="0.7"/><circle cx="283.1" cy="112.1" r="0.7"/><circle cx="265.6" cy="128.2" r="0.7"/><circle cx="269.0" cy="85.7" r="0.7"/><circle cx="275.0" cy="148.1" r="0.7"/><circle cx="275.2" cy="142.2" r="0.7"/><circle cx="279.7" cy="117.2" r="0.7"/><circle cx="274.4" cy="116.0" r="0.7"/><circle cx="269.0" cy="121.4" r="0.7"/><circle cx="274.3" cy="146.6" r="0.7"/><circle cx="275.9" cy="110.3" r="0.7"/><circle cx="284.2" cy="106.7" r="0.7"/><circle cx="260.9" cy="121.5" r="0.7"/><circle cx="277.1" cy="98.9" r="0.7"/><circle cx="269.2" cy="149.6" r="0.7"/><circle cx="269.2" cy="118.2" r="0.7"/><circle cx="273.6" cy="143.0" r="0.7"/><circle cx="265.1" cy="108.3" r="0.7"/><circle cx="270.9" cy="93.5" r="0.7"/><circle cx="280.5" cy="119.7" r="0.7"/><circle cx="281.2" cy="98.9" r="0.7"/><circle cx="272.7" cy="119.6" r="0.7"/><circle cx="276.8" cy="107.8" r="0.7"/><circle cx="268.6" cy="139.8" r="0.7"/><circle cx="266.2" cy="140.3" r="0.7"/><circle cx="264.1" cy="98.2" r="0.7"/><circle cx="275.3" cy="139.3" r="0.7"/><circle cx="275.9" cy="144.5" r="0.7"/><circle cx="264.3" cy="137.2" r="0.7"/><circle cx="265.9" cy="136.0" r="0.7"/><circle cx="260.7" cy="124.4" r="0.7"/><circle cx="263.8" cy="98.8" r="0.7"/><circle cx="274.8" cy="101.0" r="0.7"/><circle cx="270.6" cy="107.9" r="0.7"/><circle cx="267.4" cy="142.4" r="0.7"/><circle cx="264.1" cy="113.1" r="0.7"/><circle cx="260.1" cy="108.1" r="0.7"/><circle cx="280.3" cy="98.1" r="0.7"/><circle cx="264.4" cy="122.6" r="0.7"/><circle cx="262.7" cy="118.8" r="0.7"/><circle cx="259.9" cy="110.7" r="0.7"/><circle cx="263.6" cy="109.7" r="0.7"/><circle cx="265.6" cy="136.2" r="0.7"/><circle cx="258.0" cy="113.3" r="0.7"/><circle cx="272.7" cy="111.9" r="0.7"/><circle cx="276.0" cy="115.5" r="0.7"/><circle cx="263.5" cy="107.9" r="0.7"/><circle cx="260.0" cy="103.3" r="0.7"/><circle cx="284.3" cy="112.8" r="0.7"/><circle cx="278.7" cy="131.0" r="0.7"/><circle cx="284.4" cy="110.2" r="0.7"/><circle cx="269.5" cy="93.1" r="0.7"/><circle cx="269.8" cy="137.0" r="0.7"/><circle cx="270.7" cy="129.2" r="0.7"/><circle cx="262.3" cy="123.5" r="0.7"/><circle cx="282.3" cy="118.5" r="0.7"/><circle cx="269.5" cy="126.5" r="0.7"/><circle cx="281.8" cy="104.0" r="0.7"/><circle cx="280.6" cy="105.6" r="0.7"/><circle cx="276.6" cy="124.5" r="0.7"/><circle cx="275.3" cy="98.8" r="0.7"/><circle cx="280.1" cy="112.1" r="0.7"/><circle cx="277.6" cy="112.5" r="0.7"/><circle cx="279.8" cy="134.3" r="0.7"/><circle cx="269.6" cy="86.1" r="0.7"/><circle cx="261.4" cy="103.8" r="0.7"/><circle cx="276.8" cy="125.4" r="0.7"/><circle cx="271.2" cy="107.7" r="0.7"/><circle cx="269.8" cy="137.9" r="0.7"/><circle cx="260.0" cy="126.9" r="0.7"/><circle cx="265.6" cy="120.1" r="0.7"/><circle cx="268.3" cy="140.4" r="0.7"/><circle cx="259.2" cy="113.0" r="0.7"/><circle cx="283.8" cy="114.6" r="0.7"/></g>
<g fill="#b0b0b0" opacity="0.8"><circle cx="262.7" cy="123.3" r="0.6"/><circle cx="274.9" cy="143.1" r="0.6"/><circle cx="276.7" cy="126.5" r="0.6"/><circle cx="275.0" cy="126.1" r="0.6"/><circle cx="259.1" cy="119.8" r="0.6"/><circle cx="269.6" cy="144.0" r="0.6"/><circle cx="270.2" cy="85.4" r="0.6"/><circle cx="274.4" cy="91.6" r="0.6"/><circle cx="261.7" cy="129.4" r="0.6"/><circle cx="283.7" cy="117.4" r="0.6"/><circle cx="261.1" cy="110.8" r="0.6"/><circle cx="267.9" cy="116.5" r="0.6"/><circle cx="269.4" cy="150.4" r="0.6"/><circle cx="266.1" cy="101.4" r="0.6"/><circle cx="268.9" cy="136.9" r="0.6"/><circle cx="279.3" cy="112.7" r="0.6"/><circle cx="280.6" cy="99.4" r="0.6"/><circle cx="270.8" cy="130.6" r="0.6"/><circle cx="262.8" cy="132.9" r="0.6"/><circle cx="266.1" cy="111.3" r="0.6"/><circle cx="268.9" cy="107.7" r="0.6"/><circle cx="267.5" cy="95.2" r="0.6"/><circle cx="270.9" cy="128.8" r="0.6"/><circle cx="267.7" cy="95.3" r="0.6"/><circle cx="275.1" cy="93.1" r="0.6"/><circle cx="270.3" cy="95.6" r="0.6"/><circle cx="278.3" cy="125.1" r="0.6"/><circle cx="269.1" cy="99.8" r="0.6"/><circle cx="281.3" cy="104.4" r="0.6"/><circle cx="280.3" cy="120.6" r="0.6"/><circle cx="278.0" cy="134.9" r="0.6"/><circle cx="267.5" cy="121.7" r="0.6"/><circle cx="265.1" cy="95.5" r="0.6"/><circle cx="276.1" cy="93.8" r="0.6"/><circle cx="271.4" cy="146.1" r="0.6"/><circle cx="273.9" cy="124.9" r="0.6"/><circle cx="269.4" cy="118.0" r="0.6"/><circle cx="269.5" cy="136.6" r="0.6"/><circle cx="276.9" cy="140.4" r="0.6"/><circle cx="276.9" cy="127.1" r="0.6"/><circle cx="272.3" cy="106.7" r="0.6"/><circle cx="276.4" cy="97.5" r="0.6"/><circle cx="277.2" cy="107.2" r="0.6"/><circle cx="272.1" cy="145.0" r="0.6"/><circle cx="261.7" cy="115.7" r="0.6"/><circle cx="281.4" cy="122.1" r="0.6"/><circle cx="275.1" cy="123.2" r="0.6"/><circle cx="265.5" cy="106.0" r="0.6"/><circle cx="260.4" cy="117.3" r="0.6"/><circle cx="275.5" cy="142.2" r="0.6"/><circle cx="260.1" cy="108.4" r="0.6"/><circle cx="271.1" cy="138.1" r="0.6"/><circle cx="266.8" cy="104.3" r="0.6"/><circle cx="285.0" cy="113.1" r="0.6"/><circle cx="274.3" cy="112.0" r="0.6"/><circle cx="269.9" cy="103.4" r="0.6"/><circle cx="280.1" cy="102.0" r="0.6"/><circle cx="280.5" cy="124.8" r="0.6"/><circle cx="266.9" cy="103.2" r="0.6"/><circle cx="277.9" cy="122.5" r="0.6"/><circle cx="267.9" cy="127.0" r="0.6"/><circle cx="263.3" cy="121.9" r="0.6"/><circle cx="282.8" cy="115.1" r="0.6"/><circle cx="268.5" cy="133.2" r="0.6"/><circle cx="278.1" cy="101.4" r="0.6"/><circle cx="281.0" cy="101.5" r="0.6"/><circle cx="267.2" cy="120.6" r="0.6"/><circle cx="267.7" cy="139.6" r="0.6"/><circle cx="278.3" cy="107.3" r="0.6"/><circle cx="280.0" cy="101.2" r="0.6"/><circle cx="265.2" cy="107.4" r="0.6"/><circle cx="268.0" cy="141.7" r="0.6"/><circle cx="259.1" cy="119.5" r="0.6"/><circle cx="281.2" cy="125.2" r="0.6"/><circle cx="269.3" cy="128.4" r="0.6"/><circle cx="263.3" cy="123.3" r="0.6"/><circle cx="273.4" cy="104.8" r="0.6"/><circle cx="269.0" cy="130.2" r="0.6"/><circle cx="275.1" cy="139.4" r="0.6"/><circle cx="283.6" cy="114.2" r="0.6"/><circle cx="273.5" cy="148.1" r="0.6"/><circle cx="282.2" cy="126.6" r="0.6"/><circle cx="270.5" cy="150.6" r="0.6"/><circle cx="265.2" cy="108.3" r="0.6"/><circle cx="263.7" cy="114.9" r="0.6"/><circle cx="269.5" cy="135.1" r="0.6"/><circle cx="279.7" cy="106.4" r="0.6"/><circle cx="278.7" cy="112.2" r="0.6"/><circle cx="278.6" cy="138.3" r="0.6"/><circle cx="261.9" cy="120.8" r="0.6"/><circle cx="266.9" cy="132.9" r="0.6"/><circle cx="281.5" cy="112.9" r="0.6"/><circle cx="277.8" cy="111.2" r="0.6"/><circle cx="262.2" cy="115.7" r="0.6"/><circle cx="264.7" cy="112.4" r="0.6"/><circle cx="282.8" cy="108.5" r="0.6"/><circle cx="262.9" cy="103.7" r="0.6"/><circle cx="265.2" cy="111.9" r="0.6"/><circle cx="277.1" cy="98.9" r="0.6"/><circle cx="281.0" cy="126.9" r="0.6"/><circle cx="267.5" cy="101.1" r="0.6"/><circle cx="277.8" cy="139.1" r="0.6"/><circle cx="278.8" cy="132.6" r="0.6"/><circle cx="273.3" cy="137.1" r="0.6"/><circle cx="271.9" cy="122.4" r="0.6"/><circle cx="284.6" cy="117.6" r="0.6"/><circle cx="261.2" cy="103.7" r="0.6"/><circle cx="270.0" cy="84.7" r="0.6"/><circle cx="273.4" cy="116.0" r="0.6"/><circle cx="259.6" cy="104.6" r="0.6"/></g>
<path d="M271.58,52.50 C271.58,54.42 271.69,61.42 271.58,64.00 C271.47,66.58 271.05,66.62 270.90,68.00 C270.75,69.38 270.82,70.62 270.70,72.30 C270.58,73.98 270.38,76.47 270.20,78.10 C270.02,79.73 269.92,80.75 269.60,82.10 C269.28,83.45 268.97,84.85 268.30,86.20 C267.63,87.55 266.52,88.87 265.60,90.20 C264.68,91.53 263.73,92.85 262.80,94.20 C261.87,95.55 260.80,96.95 260.00,98.30 C259.20,99.65 258.60,100.97 258.00,102.30 C257.40,103.63 256.83,104.95 256.40,106.30 C255.97,107.65 255.62,109.05 255.40,110.40 C255.18,111.75 255.13,113.40 255.10,114.40 C255.07,115.40 255.10,115.63 255.20,116.40 C255.30,117.17 255.50,117.88 255.70,119.00 C255.90,120.12 256.08,121.75 256.40,123.10 C256.72,124.45 257.10,125.75 257.60,127.10 C258.10,128.45 258.70,129.85 259.40,131.20 C260.10,132.55 261.07,133.87 261.80,135.20 C262.53,136.53 263.18,137.85 263.80,139.20 C264.42,140.55 264.92,141.95 265.50,143.30 C266.08,144.65 266.73,145.97 267.30,147.30 C267.87,148.63 268.38,149.95 268.90,151.30 C269.42,152.65 270.02,154.18 270.40,155.40 C270.78,156.62 271.00,157.50 271.20,158.60 C271.40,159.70 271.52,158.63 271.58,162.00 C271.64,165.37 271.58,176.00 271.58,178.80 L271.82,178.80 C271.82,176.00 271.76,165.37 271.82,162.00 C271.88,158.63 272.00,159.70 272.20,158.60 C272.40,157.50 272.62,156.62 273.00,155.40 C273.38,154.18 273.98,152.65 274.50,151.30 C275.02,149.95 275.53,148.63 276.10,147.30 C276.67,145.97 277.32,144.65 277.90,143.30 C278.48,141.95 278.98,140.55 279.60,139.20 C280.22,137.85 280.87,136.53 281.60,135.20 C282.33,133.87 283.30,132.55 284.00,131.20 C284.70,129.85 285.30,128.45 285.80,127.10 C286.30,125.75 286.68,124.45 287.00,123.10 C287.32,121.75 287.50,120.12 287.70,119.00 C287.90,117.88 288.10,117.17 288.20,116.40 C288.30,115.63 288.33,115.40 288.30,114.40 C288.27,113.40 288.22,111.75 288.00,110.40 C287.78,109.05 287.43,107.65 287.00,106.30 C286.57,104.95 286.00,103.63 285.40,102.30 C284.80,100.97 284.20,99.65 283.40,98.30 C282.60,96.95 281.53,95.55 280.60,94.20 C279.67,92.85 278.72,91.53 277.80,90.20 C276.88,88.87 275.77,87.55 275.10,86.20 C274.43,84.85 274.12,83.45 273.80,82.10 C273.48,80.75 273.38,79.73 273.20,78.10 C273.02,76.47 272.82,73.98 272.70,72.30 C272.58,70.62 272.65,69.38 272.50,68.00 C272.35,66.62 271.93,66.58 271.82,64.00 C271.71,61.42 271.82,54.42 271.82,52.50 Z" fill="none" stroke="#242424" stroke-width="1.1" stroke-linejoin="round"/>
<line x1="255.20" y1="116.40" x2="288.20" y2="116.40" stroke="#202020" stroke-width="1.0"/>
<path d="M308.18,49.00 C308.03,49.63 307.73,51.62 307.30,52.80 C306.87,53.98 306.32,54.88 305.60,56.10 C304.88,57.32 303.83,58.75 303.00,60.10 C302.17,61.45 301.37,62.85 300.60,64.20 C299.83,65.55 298.93,66.87 298.40,68.20 C297.87,69.53 297.60,70.85 297.40,72.20 C297.20,73.55 297.20,74.95 297.20,76.30 C297.20,77.65 297.35,78.97 297.40,80.30 C297.45,81.63 297.53,82.95 297.50,84.30 C297.47,85.65 297.35,87.05 297.20,88.40 C297.05,89.75 296.80,91.05 296.60,92.40 C296.40,93.75 296.17,95.40 296.00,96.50 C295.83,97.60 295.87,97.90 295.60,99.00 C295.33,100.10 294.97,101.62 294.40,103.10 C293.83,104.58 292.62,106.55 292.20,107.90 C291.78,109.25 292.02,109.98 291.90,111.20 C291.78,112.42 291.53,113.87 291.50,115.20 C291.47,116.53 291.57,117.85 291.70,119.20 C291.83,120.55 292.02,121.95 292.30,123.30 C292.58,124.65 292.85,125.97 293.40,127.30 C293.95,128.63 294.90,129.95 295.60,131.30 C296.30,132.65 296.97,134.05 297.60,135.40 C298.23,136.75 298.80,137.97 299.40,139.40 C300.00,140.83 300.60,142.55 301.20,144.00 C301.80,145.45 302.40,146.75 303.00,148.10 C303.60,149.45 304.28,150.75 304.80,152.10 C305.32,153.45 305.75,154.85 306.10,156.20 C306.45,157.55 306.65,158.87 306.90,160.20 C307.15,161.53 307.39,162.90 307.60,164.20 C307.81,165.50 308.08,164.37 308.18,168.00 C308.28,171.63 308.18,183.00 308.18,186.00 L308.42,186.00 C308.42,183.00 308.32,171.63 308.42,168.00 C308.52,164.37 308.79,165.50 309.00,164.20 C309.21,162.90 309.45,161.53 309.70,160.20 C309.95,158.87 310.15,157.55 310.50,156.20 C310.85,154.85 311.28,153.45 311.80,152.10 C312.32,150.75 313.00,149.45 313.60,148.10 C314.20,146.75 314.80,145.45 315.40,144.00 C316.00,142.55 316.60,140.83 317.20,139.40 C317.80,137.97 318.37,136.75 319.00,135.40 C319.63,134.05 320.30,132.65 321.00,131.30 C321.70,129.95 322.65,128.63 323.20,127.30 C323.75,125.97 324.02,124.65 324.30,123.30 C324.58,121.95 324.77,120.55 324.90,119.20 C325.03,117.85 325.13,116.53 325.10,115.20 C325.07,113.87 324.82,112.42 324.70,111.20 C324.58,109.98 324.82,109.25 324.40,107.90 C323.98,106.55 322.77,104.58 322.20,103.10 C321.63,101.62 321.27,100.10 321.00,99.00 C320.73,97.90 320.77,97.60 320.60,96.50 C320.43,95.40 320.20,93.75 320.00,92.40 C319.80,91.05 319.55,89.75 319.40,88.40 C319.25,87.05 319.13,85.65 319.10,84.30 C319.07,82.95 319.15,81.63 319.20,80.30 C319.25,78.97 319.40,77.65 319.40,76.30 C319.40,74.95 319.40,73.55 319.20,72.20 C319.00,70.85 318.73,69.53 318.20,68.20 C317.67,66.87 316.77,65.55 316.00,64.20 C315.23,62.85 314.43,61.45 313.60,60.10 C312.77,58.75 311.72,57.32 311.00,56.10 C310.28,54.88 309.73,53.98 309.30,52.80 C308.87,51.62 308.57,49.63 308.42,49.00 Z" fill="#ffffff" stroke="#242424" stroke-width="1.1" stroke-linejoin="round"/>
<g fill="#e04a4a" opacity="1.0"><circle cx="307.9" cy="82.1" r="0.85"/><circle cx="314.4" cy="102.1" r="0.85"/><circle cx="320.1" cy="111.0" r="0.85"/><circle cx="299.2" cy="131.8" r="0.85"/><circle cx="308.6" cy="107.0" r="0.85"/><circle cx="304.7" cy="82.5" r="0.85"/><circle cx="301.4" cy="71.7" r="0.85"/><circle cx="310.3" cy="137.8" r="0.85"/><circle cx="313.3" cy="94.9" r="0.85"/><circle cx="297.1" cy="108.4" r="0.85"/><circle cx="302.7" cy="79.5" r="0.85"/><circle cx="311.8" cy="94.9" r="0.85"/><circle cx="311.8" cy="79.5" r="0.85"/><circle cx="296.5" cy="108.0" r="0.85"/><circle cx="313.1" cy="115.9" r="0.85"/><circle cx="302.4" cy="116.9" r="0.85"/><circle cx="307.8" cy="113.9" r="0.85"/><circle cx="302.3" cy="64.5" r="0.85"/><circle cx="297.0" cy="109.0" r="0.85"/><circle cx="314.8" cy="136.2" r="0.85"/><circle cx="307.1" cy="147.2" r="0.85"/><circle cx="301.9" cy="141.0" r="0.85"/><circle cx="308.8" cy="126.5" r="0.85"/><circle cx="304.7" cy="115.2" r="0.85"/><circle cx="300.5" cy="118.9" r="0.85"/><circle cx="308.4" cy="87.0" r="0.85"/><circle cx="300.1" cy="106.4" r="0.85"/><circle cx="315.7" cy="121.9" r="0.85"/><circle cx="320.2" cy="119.9" r="0.85"/><circle cx="302.4" cy="119.0" r="0.85"/><circle cx="316.1" cy="104.1" r="0.85"/><circle cx="300.1" cy="115.1" r="0.85"/><circle cx="302.9" cy="110.9" r="0.85"/><circle cx="306.2" cy="149.5" r="0.85"/><circle cx="305.7" cy="86.4" r="0.85"/><circle cx="321.3" cy="120.9" r="0.85"/><circle cx="301.0" cy="80.4" r="0.85"/><circle cx="308.0" cy="99.6" r="0.85"/><circle cx="303.2" cy="109.2" r="0.85"/><circle cx="304.2" cy="74.1" r="0.85"/><circle cx="315.7" cy="107.5" r="0.85"/><circle cx="317.3" cy="100.3" r="0.85"/><circle cx="310.9" cy="109.2" r="0.85"/><circle cx="306.3" cy="84.0" r="0.85"/><circle cx="305.4" cy="101.0" r="0.85"/></g>
<path d="M308.18,49.00 C308.03,49.63 307.73,51.62 307.30,52.80 C306.87,53.98 306.32,54.88 305.60,56.10 C304.88,57.32 303.83,58.75 303.00,60.10 C302.17,61.45 301.37,62.85 300.60,64.20 C299.83,65.55 298.93,66.87 298.40,68.20 C297.87,69.53 297.60,70.85 297.40,72.20 C297.20,73.55 297.20,74.95 297.20,76.30 C297.20,77.65 297.35,78.97 297.40,80.30 C297.45,81.63 297.53,82.95 297.50,84.30 C297.47,85.65 297.35,87.05 297.20,88.40 C297.05,89.75 296.80,91.05 296.60,92.40 C296.40,93.75 296.17,95.40 296.00,96.50 C295.83,97.60 295.87,97.90 295.60,99.00 C295.33,100.10 294.97,101.62 294.40,103.10 C293.83,104.58 292.62,106.55 292.20,107.90 C291.78,109.25 292.02,109.98 291.90,111.20 C291.78,112.42 291.53,113.87 291.50,115.20 C291.47,116.53 291.57,117.85 291.70,119.20 C291.83,120.55 292.02,121.95 292.30,123.30 C292.58,124.65 292.85,125.97 293.40,127.30 C293.95,128.63 294.90,129.95 295.60,131.30 C296.30,132.65 296.97,134.05 297.60,135.40 C298.23,136.75 298.80,137.97 299.40,139.40 C300.00,140.83 300.60,142.55 301.20,144.00 C301.80,145.45 302.40,146.75 303.00,148.10 C303.60,149.45 304.28,150.75 304.80,152.10 C305.32,153.45 305.75,154.85 306.10,156.20 C306.45,157.55 306.65,158.87 306.90,160.20 C307.15,161.53 307.39,162.90 307.60,164.20 C307.81,165.50 308.08,164.37 308.18,168.00 C308.28,171.63 308.18,183.00 308.18,186.00 L308.42,186.00 C308.42,183.00 308.32,171.63 308.42,168.00 C308.52,164.37 308.79,165.50 309.00,164.20 C309.21,162.90 309.45,161.53 309.70,160.20 C309.95,158.87 310.15,157.55 310.50,156.20 C310.85,154.85 311.28,153.45 311.80,152.10 C312.32,150.75 313.00,149.45 313.60,148.10 C314.20,146.75 314.80,145.45 315.40,144.00 C316.00,142.55 316.60,140.83 317.20,139.40 C317.80,137.97 318.37,136.75 319.00,135.40 C319.63,134.05 320.30,132.65 321.00,131.30 C321.70,129.95 322.65,128.63 323.20,127.30 C323.75,125.97 324.02,124.65 324.30,123.30 C324.58,121.95 324.77,120.55 324.90,119.20 C325.03,117.85 325.13,116.53 325.10,115.20 C325.07,113.87 324.82,112.42 324.70,111.20 C324.58,109.98 324.82,109.25 324.40,107.90 C323.98,106.55 322.77,104.58 322.20,103.10 C321.63,101.62 321.27,100.10 321.00,99.00 C320.73,97.90 320.77,97.60 320.60,96.50 C320.43,95.40 320.20,93.75 320.00,92.40 C319.80,91.05 319.55,89.75 319.40,88.40 C319.25,87.05 319.13,85.65 319.10,84.30 C319.07,82.95 319.15,81.63 319.20,80.30 C319.25,78.97 319.40,77.65 319.40,76.30 C319.40,74.95 319.40,73.55 319.20,72.20 C319.00,70.85 318.73,69.53 318.20,68.20 C317.67,66.87 316.77,65.55 316.00,64.20 C315.23,62.85 314.43,61.45 313.60,60.10 C312.77,58.75 311.72,57.32 311.00,56.10 C310.28,54.88 309.73,53.98 309.30,52.80 C308.87,51.62 308.57,49.63 308.42,49.00 Z" fill="none" stroke="#242424" stroke-width="1.1" stroke-linejoin="round"/>
<line x1="292.20" y1="107.90" x2="324.40" y2="107.90" stroke="#202020" stroke-width="1.0"/>
<line x1="271.70" y1="53.00" x2="308.30" y2="53.00" stroke="#2a2a2a" stroke-width="1.0"/>
<line x1="271.70" y1="47.00" x2="271.70" y2="53.50" stroke="#2a2a2a" stroke-width="1.0"/>
<line x1="308.30" y1="37.00" x2="308.30" y2="53.50" stroke="#2a2a2a" stroke-width="1.0"/>
<text x="269.80" y="45.50" font-size="12" fill="#222222" stroke="#222222" stroke-width="0.22" textLength="36.50" lengthAdjust="spacingAndGlyphs">0.0044</text>
<line x1="249.60" y1="29.50" x2="249.60" y2="193.85" stroke="#1c1c1c" stroke-width="1.5"/>
<line x1="245.10" y1="69.50" x2="249.60" y2="69.50" stroke="#1c1c1c" stroke-width="1.3"/>
<text x="240.80" y="73.80" font-size="12" fill="#222222" stroke="#222222" stroke-width="0.22" text-anchor="end">0.5</text>
<line x1="245.10" y1="124.00" x2="249.60" y2="124.00" stroke="#1c1c1c" stroke-width="1.3"/>
<text x="240.80" y="128.30" font-size="12" fill="#222222" stroke="#222222" stroke-width="0.22" text-anchor="end">0.0</text>
<line x1="245.10" y1="178.50" x2="249.60" y2="178.50" stroke="#1c1c1c" stroke-width="1.3"/>
<text x="240.80" y="182.80" font-size="12" fill="#222222" stroke="#222222" stroke-width="0.22" text-anchor="end">−0.5</text>
<line x1="248.85" y1="193.10" x2="331.00" y2="193.10" stroke="#1c1c1c" stroke-width="1.5"/>
<line x1="271.70" y1="193.10" x2="271.70" y2="197.10" stroke="#1c1c1c" stroke-width="1.3"/>
<text x="271.70" y="212.90" font-size="12" fill="#222222" stroke="#222222" stroke-width="0.22" text-anchor="middle" textLength="27.60" lengthAdjust="spacingAndGlyphs">EBV–</text>
<line x1="308.50" y1="193.10" x2="308.50" y2="197.10" stroke="#1c1c1c" stroke-width="1.3"/>
<text x="308.50" y="212.90" font-size="12" fill="#222222" stroke="#222222" stroke-width="0.22" text-anchor="middle" textLength="28.60" lengthAdjust="spacingAndGlyphs">EBV+</text>
<text x="209.10" y="111.10" font-size="14" fill="#222222" stroke="#222222" stroke-width="0.22" text-anchor="middle" textLength="89.20" lengthAdjust="spacingAndGlyphs" transform="rotate(-90 209.10 111.10)">ST-HSC signature</text>
<text x="369.50" y="24.50" font-size="16" fill="#111" stroke="#111" stroke-width="0.5" font-weight="bold" textLength="12.80" lengthAdjust="spacingAndGlyphs">C</text>
<path d="M445.48,44.00 C445.48,45.92 445.61,53.32 445.48,55.50 C445.35,57.68 445.03,56.15 444.70,57.10 C444.37,58.05 444.02,59.85 443.50,61.20 C442.98,62.55 442.33,63.87 441.60,65.20 C440.87,66.53 439.98,67.85 439.10,69.20 C438.22,70.55 437.30,71.95 436.30,73.30 C435.30,74.65 434.07,75.97 433.10,77.30 C432.13,78.63 431.22,79.95 430.50,81.30 C429.78,82.65 429.22,84.05 428.80,85.40 C428.38,86.75 428.23,88.05 428.00,89.40 C427.77,90.75 427.43,92.10 427.40,93.50 C427.37,94.90 427.60,96.70 427.80,97.80 C428.00,98.90 428.25,99.05 428.60,100.10 C428.95,101.15 429.42,102.75 429.90,104.10 C430.38,105.45 430.97,106.85 431.50,108.20 C432.03,109.55 432.57,110.87 433.10,112.20 C433.63,113.53 434.17,114.85 434.70,116.20 C435.23,117.55 435.77,118.95 436.30,120.30 C436.83,121.65 437.33,122.97 437.90,124.30 C438.47,125.63 439.12,126.95 439.70,128.30 C440.28,129.65 441.00,131.28 441.40,132.40 C441.80,133.52 441.83,133.90 442.10,135.00 C442.37,136.10 442.73,137.65 443.00,139.00 C443.27,140.35 443.50,141.75 443.70,143.10 C443.90,144.45 444.05,145.75 444.20,147.10 C444.35,148.45 444.47,149.85 444.60,151.20 C444.73,152.55 444.85,153.90 445.00,155.20 C445.15,156.50 445.40,153.88 445.48,159.00 C445.56,164.12 445.48,181.42 445.48,185.90 L445.72,185.90 C445.72,181.42 445.64,164.12 445.72,159.00 C445.80,153.88 446.05,156.50 446.20,155.20 C446.35,153.90 446.47,152.55 446.60,151.20 C446.73,149.85 446.85,148.45 447.00,147.10 C447.15,145.75 447.30,144.45 447.50,143.10 C447.70,141.75 447.93,140.35 448.20,139.00 C448.47,137.65 448.83,136.10 449.10,135.00 C449.37,133.90 449.40,133.52 449.80,132.40 C450.20,131.28 450.92,129.65 451.50,128.30 C452.08,126.95 452.73,125.63 453.30,124.30 C453.87,122.97 454.37,121.65 454.90,120.30 C455.43,118.95 455.97,117.55 456.50,116.20 C457.03,114.85 457.57,113.53 458.10,112.20 C458.63,110.87 459.17,109.55 459.70,108.20 C460.23,106.85 460.82,105.45 461.30,104.10 C461.78,102.75 462.25,101.15 462.60,100.10 C462.95,99.05 463.20,98.90 463.40,97.80 C463.60,96.70 463.83,94.90 463.80,93.50 C463.77,92.10 463.43,90.75 463.20,89.40 C462.97,88.05 462.82,86.75 462.40,85.40 C461.98,84.05 461.42,82.65 460.70,81.30 C459.98,79.95 459.07,78.63 458.10,77.30 C457.13,75.97 455.90,74.65 454.90,73.30 C453.90,71.95 452.98,70.55 452.10,69.20 C451.22,67.85 450.33,66.53 449.60,65.20 C448.87,63.87 448.22,62.55 447.70,61.20 C447.18,59.85 446.83,58.05 446.50,57.10 C446.17,56.15 445.85,57.68 445.72,55.50 C445.59,53.32 445.72,45.92 445.72,44.00 Z" fill="#d2d2d2" stroke="#242424" stroke-width="1.1" stroke-linejoin="round"/>
<g fill="#f4f4f4" opacity="0.9"><circle cx="449.4" cy="91.2" r="0.7"/><circle cx="447.8" cy="70.7" r="0.7"/><circle cx="447.2" cy="77.1" r="0.7"/><circle cx="440.4" cy="89.7" r="0.7"/><circle cx="440.3" cy="116.4" r="0.7"/><circle cx="441.6" cy="88.2" r="0.7"/><circle cx="442.8" cy="78.6" r="0.7"/><circle cx="449.4" cy="98.0" r="0.7"/><circle cx="450.0" cy="121.8" r="0.7"/><circle cx="434.1" cy="109.5" r="0.7"/><circle cx="445.8" cy="96.4" r="0.7"/><circle cx="446.1" cy="85.1" r="0.7"/><circle cx="452.8" cy="114.1" r="0.7"/><circle cx="449.1" cy="94.8" r="0.7"/><circle cx="440.1" cy="123.9" r="0.7"/><circle cx="450.4" cy="96.4" r="0.7"/><circle cx="442.8" cy="119.5" r="0.7"/><circle cx="459.6" cy="92.1" r="0.7"/><circle cx="435.2" cy="95.2" r="0.7"/><circle cx="439.0" cy="107.3" r="0.7"/><circle cx="431.3" cy="97.2" r="0.7"/><circle cx="439.7" cy="114.5" r="0.7"/><circle cx="436.5" cy="80.7" r="0.7"/><circle cx="445.7" cy="131.0" r="0.7"/><circle cx="434.8" cy="88.6" r="0.7"/><circle cx="437.9" cy="112.6" r="0.7"/><circle cx="447.0" cy="87.8" r="0.7"/><circle cx="444.9" cy="125.1" r="0.7"/><circle cx="460.0" cy="95.7" r="0.7"/><circle cx="446.2" cy="136.6" r="0.7"/><circle cx="452.4" cy="117.9" r="0.7"/><circle cx="440.6" cy="92.1" r="0.7"/><circle cx="443.2" cy="132.6" r="0.7"/><circle cx="457.6" cy="85.5" r="0.7"/><circle cx="454.1" cy="76.3" r="0.7"/><circle cx="456.4" cy="108.7" r="0.7"/><circle cx="454.7" cy="83.9" r="0.7"/><circle cx="437.4" cy="100.2" r="0.7"/><circle cx="445.6" cy="96.2" r="0.7"/><circle cx="440.9" cy="94.6" r="0.7"/><circle cx="452.7" cy="118.4" r="0.7"/><circle cx="451.9" cy="111.0" r="0.7"/><circle cx="433.1" cy="94.1" r="0.7"/><circle cx="445.1" cy="83.2" r="0.7"/><circle cx="437.0" cy="97.5" r="0.7"/><circle cx="453.2" cy="106.1" r="0.7"/><circle cx="447.5" cy="132.8" r="0.7"/><circle cx="457.1" cy="106.0" r="0.7"/><circle cx="444.5" cy="70.8" r="0.7"/><circle cx="440.5" cy="116.3" r="0.7"/><circle cx="436.2" cy="99.1" r="0.7"/><circle cx="445.3" cy="125.9" r="0.7"/><circle cx="445.7" cy="120.3" r="0.7"/><circle cx="449.5" cy="72.3" r="0.7"/><circle cx="437.6" cy="87.5" r="0.7"/><circle cx="432.4" cy="96.7" r="0.7"/><circle cx="439.8" cy="79.2" r="0.7"/><circle cx="441.5" cy="113.4" r="0.7"/><circle cx="452.3" cy="109.5" r="0.7"/><circle cx="442.3" cy="75.7" r="0.7"/><circle cx="449.8" cy="73.7" r="0.7"/><circle cx="433.1" cy="99.7" r="0.7"/><circle cx="444.5" cy="116.7" r="0.7"/><circle cx="443.6" cy="111.5" r="0.7"/><circle cx="447.3" cy="101.9" r="0.7"/><circle cx="439.7" cy="109.5" r="0.7"/><circle cx="460.2" cy="96.4" r="0.7"/><circle cx="441.1" cy="110.7" r="0.7"/><circle cx="448.0" cy="106.7" r="0.7"/><circle cx="450.8" cy="91.8" r="0.7"/><circle cx="440.1" cy="84.7" r="0.7"/><circle cx="442.4" cy="96.3" r="0.7"/><circle cx="438.3" cy="115.1" r="0.7"/><circle cx="453.6" cy="118.2" r="0.7"/><circle cx="437.5" cy="98.4" r="0.7"/><circle cx="455.6" cy="89.7" r="0.7"/><circle cx="439.2" cy="99.8" r="0.7"/><circle cx="449.6" cy="72.8" r="0.7"/><circle cx="446.1" cy="83.2" r="0.7"/><circle cx="443.8" cy="77.8" r="0.7"/><circle cx="451.7" cy="87.0" r="0.7"/><circle cx="431.6" cy="86.8" r="0.7"/><circle cx="444.8" cy="97.3" r="0.7"/><circle cx="438.6" cy="103.2" r="0.7"/><circle cx="455.7" cy="101.9" r="0.7"/><circle cx="437.1" cy="83.4" r="0.7"/><circle cx="447.8" cy="106.0" r="0.7"/><circle cx="449.7" cy="86.4" r="0.7"/><circle cx="438.0" cy="114.3" r="0.7"/><circle cx="449.7" cy="116.2" r="0.7"/><circle cx="457.5" cy="97.1" r="0.7"/><circle cx="449.7" cy="130.8" r="0.7"/><circle cx="450.6" cy="123.2" r="0.7"/><circle cx="446.8" cy="68.9" r="0.7"/><circle cx="445.5" cy="137.7" r="0.7"/><circle cx="441.9" cy="99.5" r="0.7"/><circle cx="442.7" cy="111.4" r="0.7"/><circle cx="438.9" cy="74.1" r="0.7"/><circle cx="439.6" cy="90.7" r="0.7"/><circle cx="432.8" cy="82.0" r="0.7"/><circle cx="433.1" cy="105.8" r="0.7"/><circle cx="459.6" cy="97.2" r="0.7"/><circle cx="436.1" cy="76.4" r="0.7"/><circle cx="456.4" cy="78.9" r="0.7"/><circle cx="437.6" cy="81.7" r="0.7"/><circle cx="451.2" cy="124.4" r="0.7"/><circle cx="440.5" cy="96.7" r="0.7"/><circle cx="452.0" cy="107.2" r="0.7"/><circle cx="449.2" cy="89.1" r="0.7"/><circle cx="454.8" cy="79.2" r="0.7"/><circle cx="454.6" cy="114.0" r="0.7"/><circle cx="448.7" cy="133.6" r="0.7"/><circle cx="445.1" cy="68.8" r="0.7"/><circle cx="455.2" cy="112.2" r="0.7"/><circle cx="443.5" cy="127.2" r="0.7"/><circle cx="448.5" cy="113.7" r="0.7"/><circle cx="447.6" cy="115.7" r="0.7"/><circle cx="438.2" cy="72.7" r="0.7"/><circle cx="449.2" cy="98.4" r="0.7"/><circle cx="445.5" cy="121.0" r="0.7"/><circle cx="452.1" cy="101.4" r="0.7"/><circle cx="446.6" cy="128.9" r="0.7"/><circle cx="442.8" cy="79.1" r="0.7"/><circle cx="449.0" cy="86.0" r="0.7"/><circle cx="458.6" cy="91.1" r="0.7"/><circle cx="450.9" cy="109.3" r="0.7"/><circle cx="432.4" cy="89.5" r="0.7"/><circle cx="439.6" cy="77.8" r="0.7"/><circle cx="459.3" cy="90.2" r="0.7"/><circle cx="442.9" cy="79.1" r="0.7"/><circle cx="435.6" cy="93.1" r="0.7"/><circle cx="457.1" cy="82.4" r="0.7"/><circle cx="457.9" cy="100.4" r="0.7"/><circle cx="434.5" cy="90.8" r="0.7"/><circle cx="447.9" cy="87.1" r="0.7"/><circle cx="451.6" cy="116.0" r="0.7"/><circle cx="453.0" cy="76.5" r="0.7"/><circle cx="458.3" cy="90.5" r="0.7"/><circle cx="451.1" cy="88.5" r="0.7"/><circle cx="442.4" cy="124.4" r="0.7"/><circle cx="451.1" cy="121.0" r="0.7"/><circle cx="446.8" cy="139.5" r="0.7"/><circle cx="439.2" cy="87.5" r="0.7"/><circle cx="444.3" cy="66.6" r="0.7"/><circle cx="447.8" cy="67.0" r="0.7"/><circle cx="444.5" cy="138.8" r="0.7"/><circle cx="432.6" cy="102.1" r="0.7"/><circle cx="454.4" cy="92.3" r="0.7"/><circle cx="452.4" cy="85.6" r="0.7"/><circle cx="441.8" cy="74.4" r="0.7"/><circle cx="454.4" cy="107.8" r="0.7"/><circle cx="435.8" cy="80.4" r="0.7"/><circle cx="452.8" cy="112.3" r="0.7"/><circle cx="449.7" cy="97.4" r="0.7"/><circle cx="444.6" cy="117.1" r="0.7"/><circle cx="436.9" cy="97.1" r="0.7"/><circle cx="438.8" cy="110.5" r="0.7"/><circle cx="444.0" cy="75.4" r="0.7"/><circle cx="443.4" cy="102.7" r="0.7"/><circle cx="440.7" cy="104.4" r="0.7"/><circle cx="455.2" cy="114.0" r="0.7"/><circle cx="439.6" cy="123.9" r="0.7"/><circle cx="446.4" cy="106.7" r="0.7"/><circle cx="447.1" cy="86.8" r="0.7"/><circle cx="450.5" cy="113.1" r="0.7"/><circle cx="437.9" cy="107.2" r="0.7"/><circle cx="448.6" cy="93.3" r="0.7"/><circle cx="452.0" cy="123.7" r="0.7"/><circle cx="444.6" cy="134.6" r="0.7"/><circle cx="451.5" cy="86.8" r="0.7"/><circle cx="441.3" cy="86.4" r="0.7"/><circle cx="449.7" cy="121.4" r="0.7"/><circle cx="454.0" cy="88.7" r="0.7"/><circle cx="451.1" cy="113.4" r="0.7"/><circle cx="436.6" cy="75.0" r="0.7"/><circle cx="452.2" cy="80.8" r="0.7"/><circle cx="443.3" cy="72.1" r="0.7"/><circle cx="448.0" cy="93.4" r="0.7"/><circle cx="444.0" cy="65.0" r="0.7"/><circle cx="452.5" cy="117.1" r="0.7"/><circle cx="451.0" cy="84.2" r="0.7"/><circle cx="451.7" cy="123.6" r="0.7"/><circle cx="436.5" cy="90.8" r="0.7"/><circle cx="457.3" cy="87.8" r="0.7"/><circle cx="435.4" cy="82.6" r="0.7"/><circle cx="435.8" cy="96.1" r="0.7"/><circle cx="444.3" cy="79.5" r="0.7"/><circle cx="453.6" cy="87.3" r="0.7"/><circle cx="457.3" cy="90.8" r="0.7"/><circle cx="449.3" cy="130.3" r="0.7"/><circle cx="452.9" cy="77.8" r="0.7"/><circle cx="450.7" cy="93.7" r="0.7"/><circle cx="436.2" cy="82.9" r="0.7"/><circle cx="450.5" cy="119.0" r="0.7"/><circle cx="459.6" cy="92.0" r="0.7"/><circle cx="449.9" cy="129.3" r="0.7"/><circle cx="442.9" cy="89.0" r="0.7"/><circle cx="444.8" cy="98.6" r="0.7"/><circle cx="431.8" cy="86.7" r="0.7"/><circle cx="452.9" cy="113.4" r="0.7"/><circle cx="449.3" cy="130.0" r="0.7"/><circle cx="453.6" cy="106.2" r="0.7"/><circle cx="457.0" cy="83.1" r="0.7"/><circle cx="436.0" cy="82.4" r="0.7"/><circle cx="452.2" cy="73.8" r="0.7"/><circle cx="459.1" cy="103.5" r="0.7"/><circle cx="438.5" cy="114.0" r="0.7"/><circle cx="438.6" cy="103.6" r="0.7"/><circle cx="447.2" cy="109.2" r="0.7"/><circle cx="454.5" cy="116.6" r="0.7"/><circle cx="442.6" cy="74.5" r="0.7"/><circle cx="443.2" cy="88.4" r="0.7"/><circle cx="437.1" cy="86.8" r="0.7"/><circle cx="449.3" cy="73.8" r="0.7"/><circle cx="444.7" cy="125.2" r="0.7"/><circle cx="447.2" cy="103.8" r="0.7"/><circle cx="443.4" cy="95.3" r="0.7"/><circle cx="448.3" cy="100.1" r="0.7"/><circle cx="430.8" cy="96.1" r="0.7"/><circle cx="440.7" cy="84.6" r="0.7"/><circle cx="450.0" cy="78.2" r="0.7"/><circle cx="439.7" cy="110.6" r="0.7"/><circle cx="435.4" cy="109.2" r="0.7"/><circle cx="446.3" cy="131.5" r="0.7"/><circle cx="457.1" cy="103.7" r="0.7"/><circle cx="447.1" cy="76.5" r="0.7"/><circle cx="455.0" cy="90.1" r="0.7"/><circle cx="433.9" cy="90.5" r="0.7"/><circle cx="449.4" cy="102.2" r="0.7"/><circle cx="434.1" cy="92.6" r="0.7"/><circle cx="443.0" cy="123.5" r="0.7"/><circle cx="447.1" cy="117.1" r="0.7"/><circle cx="436.3" cy="83.1" r="0.7"/><circle cx="456.0" cy="81.2" r="0.7"/><circle cx="442.2" cy="67.5" r="0.7"/><circle cx="443.8" cy="74.3" r="0.7"/><circle cx="442.7" cy="101.3" r="0.7"/><circle cx="434.6" cy="98.1" r="0.7"/><circle cx="444.4" cy="95.0" r="0.7"/><circle cx="440.2" cy="118.7" r="0.7"/><circle cx="446.9" cy="91.7" r="0.7"/><circle cx="439.4" cy="105.5" r="0.7"/><circle cx="441.9" cy="122.0" r="0.7"/><circle cx="441.2" cy="85.3" r="0.7"/><circle cx="443.2" cy="136.8" r="0.7"/><circle cx="445.9" cy="67.3" r="0.7"/><circle cx="460.4" cy="92.4" r="0.7"/><circle cx="436.9" cy="86.2" r="0.7"/><circle cx="434.2" cy="84.0" r="0.7"/><circle cx="448.6" cy="79.2" r="0.7"/><circle cx="445.7" cy="68.7" r="0.7"/><circle cx="450.5" cy="111.6" r="0.7"/><circle cx="453.0" cy="110.5" r="0.7"/><circle cx="448.6" cy="89.1" r="0.7"/><circle cx="450.0" cy="102.0" r="0.7"/><circle cx="435.6" cy="89.3" r="0.7"/><circle cx="442.3" cy="101.1" r="0.7"/><circle cx="434.0" cy="101.3" r="0.7"/><circle cx="442.6" cy="125.2" r="0.7"/><circle cx="446.7" cy="89.7" r="0.7"/></g>
<g fill="#b0b0b0" opacity="0.8"><circle cx="453.4" cy="89.0" r="0.6"/><circle cx="435.1" cy="96.7" r="0.6"/><circle cx="446.0" cy="92.2" r="0.6"/><circle cx="442.6" cy="94.1" r="0.6"/><circle cx="442.4" cy="122.8" r="0.6"/><circle cx="436.7" cy="87.3" r="0.6"/><circle cx="446.5" cy="120.6" r="0.6"/><circle cx="439.2" cy="100.5" r="0.6"/><circle cx="445.2" cy="87.2" r="0.6"/><circle cx="451.3" cy="95.6" r="0.6"/><circle cx="453.0" cy="107.9" r="0.6"/><circle cx="443.5" cy="136.0" r="0.6"/><circle cx="442.6" cy="124.9" r="0.6"/><circle cx="455.6" cy="107.5" r="0.6"/><circle cx="441.1" cy="87.8" r="0.6"/><circle cx="443.2" cy="93.0" r="0.6"/><circle cx="436.7" cy="75.4" r="0.6"/><circle cx="446.4" cy="82.8" r="0.6"/><circle cx="447.4" cy="86.7" r="0.6"/><circle cx="440.9" cy="110.9" r="0.6"/><circle cx="438.5" cy="110.1" r="0.6"/><circle cx="440.9" cy="113.3" r="0.6"/><circle cx="448.6" cy="94.1" r="0.6"/><circle cx="435.8" cy="90.7" r="0.6"/><circle cx="456.4" cy="80.0" r="0.6"/><circle cx="442.0" cy="81.4" r="0.6"/><circle cx="447.6" cy="80.1" r="0.6"/><circle cx="447.8" cy="136.6" r="0.6"/><circle cx="432.5" cy="93.4" r="0.6"/><circle cx="445.9" cy="119.6" r="0.6"/><circle cx="455.3" cy="102.0" r="0.6"/><circle cx="443.4" cy="106.3" r="0.6"/><circle cx="448.3" cy="68.8" r="0.6"/><circle cx="447.9" cy="105.2" r="0.6"/><circle cx="448.8" cy="73.7" r="0.6"/><circle cx="454.8" cy="75.6" r="0.6"/><circle cx="444.9" cy="90.0" r="0.6"/><circle cx="436.1" cy="90.0" r="0.6"/><circle cx="449.7" cy="111.1" r="0.6"/><circle cx="441.7" cy="123.0" r="0.6"/><circle cx="454.9" cy="106.0" r="0.6"/><circle cx="453.0" cy="72.9" r="0.6"/><circle cx="452.8" cy="87.4" r="0.6"/><circle cx="443.7" cy="139.0" r="0.6"/><circle cx="446.3" cy="105.3" r="0.6"/><circle cx="446.9" cy="94.8" r="0.6"/><circle cx="454.6" cy="79.4" r="0.6"/><circle cx="441.7" cy="115.0" r="0.6"/><circle cx="443.3" cy="99.4" r="0.6"/><circle cx="447.6" cy="64.1" r="0.6"/><circle cx="458.0" cy="88.4" r="0.6"/><circle cx="443.0" cy="119.5" r="0.6"/><circle cx="460.4" cy="93.5" r="0.6"/><circle cx="451.7" cy="103.2" r="0.6"/><circle cx="452.0" cy="117.2" r="0.6"/><circle cx="460.1" cy="90.1" r="0.6"/><circle cx="453.9" cy="102.9" r="0.6"/><circle cx="442.5" cy="76.1" r="0.6"/><circle cx="458.3" cy="105.7" r="0.6"/><circle cx="453.1" cy="91.8" r="0.6"/><circle cx="452.6" cy="87.9" r="0.6"/><circle cx="440.4" cy="124.5" r="0.6"/><circle cx="432.3" cy="88.2" r="0.6"/><circle cx="447.3" cy="131.4" r="0.6"/><circle cx="455.2" cy="82.2" r="0.6"/><circle cx="445.7" cy="68.4" r="0.6"/><circle cx="445.1" cy="86.9" r="0.6"/><circle cx="460.3" cy="96.0" r="0.6"/><circle cx="445.6" cy="62.6" r="0.6"/><circle cx="438.2" cy="80.7" r="0.6"/><circle cx="441.2" cy="80.9" r="0.6"/><circle cx="440.8" cy="102.8" r="0.6"/><circle cx="440.2" cy="113.9" r="0.6"/><circle cx="453.1" cy="108.9" r="0.6"/><circle cx="438.2" cy="115.1" r="0.6"/><circle cx="450.8" cy="89.3" r="0.6"/><circle cx="430.9" cy="97.6" r="0.6"/><circle cx="450.0" cy="80.9" r="0.6"/><circle cx="437.2" cy="77.2" r="0.6"/><circle cx="442.9" cy="70.2" r="0.6"/><circle cx="442.1" cy="68.0" r="0.6"/><circle cx="450.4" cy="93.7" r="0.6"/><circle cx="438.9" cy="119.2" r="0.6"/><circle cx="446.3" cy="78.1" r="0.6"/><circle cx="446.8" cy="100.1" r="0.6"/><circle cx="452.7" cy="106.4" r="0.6"/><circle cx="449.8" cy="113.4" r="0.6"/><circle cx="445.5" cy="81.4" r="0.6"/><circle cx="434.0" cy="107.4" r="0.6"/><circle cx="441.3" cy="110.7" r="0.6"/><circle cx="438.7" cy="112.7" r="0.6"/><circle cx="445.6" cy="107.0" r="0.6"/><circle cx="439.5" cy="119.2" r="0.6"/><circle cx="440.6" cy="83.9" r="0.6"/><circle cx="442.1" cy="96.3" r="0.6"/><circle cx="457.3" cy="106.3" r="0.6"/><circle cx="459.5" cy="91.5" r="0.6"/><circle cx="439.0" cy="97.0" r="0.6"/><circle cx="457.6" cy="96.3" r="0.6"/><circle cx="445.4" cy="75.6" r="0.6"/><circle cx="451.4" cy="102.8" r="0.6"/><circle cx="444.7" cy="94.7" r="0.6"/><circle cx="438.1" cy="111.8" r="0.6"/><circle cx="439.0" cy="114.4" r="0.6"/><circle cx="440.3" cy="110.5" r="0.6"/><circle cx="449.3" cy="128.4" r="0.6"/><circle cx="442.3" cy="67.4" r="0.6"/><circle cx="437.3" cy="109.3" r="0.6"/><circle cx="450.9" cy="120.3" r="0.6"/><circle cx="438.4" cy="99.1" r="0.6"/></g>
<path d="M445.48,44.00 C445.48,45.92 445.61,53.32 445.48,55.50 C445.35,57.68 445.03,56.15 444.70,57.10 C444.37,58.05 444.02,59.85 443.50,61.20 C442.98,62.55 442.33,63.87 441.60,65.20 C440.87,66.53 439.98,67.85 439.10,69.20 C438.22,70.55 437.30,71.95 436.30,73.30 C435.30,74.65 434.07,75.97 433.10,77.30 C432.13,78.63 431.22,79.95 430.50,81.30 C429.78,82.65 429.22,84.05 428.80,85.40 C428.38,86.75 428.23,88.05 428.00,89.40 C427.77,90.75 427.43,92.10 427.40,93.50 C427.37,94.90 427.60,96.70 427.80,97.80 C428.00,98.90 428.25,99.05 428.60,100.10 C428.95,101.15 429.42,102.75 429.90,104.10 C430.38,105.45 430.97,106.85 431.50,108.20 C432.03,109.55 432.57,110.87 433.10,112.20 C433.63,113.53 434.17,114.85 434.70,116.20 C435.23,117.55 435.77,118.95 436.30,120.30 C436.83,121.65 437.33,122.97 437.90,124.30 C438.47,125.63 439.12,126.95 439.70,128.30 C440.28,129.65 441.00,131.28 441.40,132.40 C441.80,133.52 441.83,133.90 442.10,135.00 C442.37,136.10 442.73,137.65 443.00,139.00 C443.27,140.35 443.50,141.75 443.70,143.10 C443.90,144.45 444.05,145.75 444.20,147.10 C444.35,148.45 444.47,149.85 444.60,151.20 C444.73,152.55 444.85,153.90 445.00,155.20 C445.15,156.50 445.40,153.88 445.48,159.00 C445.56,164.12 445.48,181.42 445.48,185.90 L445.72,185.90 C445.72,181.42 445.64,164.12 445.72,159.00 C445.80,153.88 446.05,156.50 446.20,155.20 C446.35,153.90 446.47,152.55 446.60,151.20 C446.73,149.85 446.85,148.45 447.00,147.10 C447.15,145.75 447.30,144.45 447.50,143.10 C447.70,141.75 447.93,140.35 448.20,139.00 C448.47,137.65 448.83,136.10 449.10,135.00 C449.37,133.90 449.40,133.52 449.80,132.40 C450.20,131.28 450.92,129.65 451.50,128.30 C452.08,126.95 452.73,125.63 453.30,124.30 C453.87,122.97 454.37,121.65 454.90,120.30 C455.43,118.95 455.97,117.55 456.50,116.20 C457.03,114.85 457.57,113.53 458.10,112.20 C458.63,110.87 459.17,109.55 459.70,108.20 C460.23,106.85 460.82,105.45 461.30,104.10 C461.78,102.75 462.25,101.15 462.60,100.10 C462.95,99.05 463.20,98.90 463.40,97.80 C463.60,96.70 463.83,94.90 463.80,93.50 C463.77,92.10 463.43,90.75 463.20,89.40 C462.97,88.05 462.82,86.75 462.40,85.40 C461.98,84.05 461.42,82.65 460.70,81.30 C459.98,79.95 459.07,78.63 458.10,77.30 C457.13,75.97 455.90,74.65 454.90,73.30 C453.90,71.95 452.98,70.55 452.10,69.20 C451.22,67.85 450.33,66.53 449.60,65.20 C448.87,63.87 448.22,62.55 447.70,61.20 C447.18,59.85 446.83,58.05 446.50,57.10 C446.17,56.15 445.85,57.68 445.72,55.50 C445.59,53.32 445.72,45.92 445.72,44.00 Z" fill="none" stroke="#242424" stroke-width="1.1" stroke-linejoin="round"/>
<line x1="427.80" y1="97.80" x2="463.40" y2="97.80" stroke="#202020" stroke-width="1.0"/>
<path d="M485.48,44.00 C485.48,45.25 485.61,49.98 485.48,51.50 C485.35,53.02 484.88,52.17 484.70,53.10 C484.52,54.03 484.52,55.75 484.40,57.10 C484.28,58.45 484.17,59.85 484.00,61.20 C483.83,62.55 483.77,63.87 483.40,65.20 C483.03,66.53 482.42,67.85 481.80,69.20 C481.18,70.55 480.45,71.95 479.70,73.30 C478.95,74.65 478.10,75.97 477.30,77.30 C476.50,78.63 475.63,79.95 474.90,81.30 C474.17,82.65 473.52,84.05 472.90,85.40 C472.28,86.75 471.72,88.05 471.20,89.40 C470.68,90.75 470.23,92.40 469.80,93.50 C469.37,94.60 468.93,94.90 468.60,96.00 C468.27,97.10 467.97,98.48 467.80,100.10 C467.63,101.72 467.65,104.35 467.60,105.70 C467.55,107.05 467.48,107.12 467.50,108.20 C467.52,109.28 467.55,110.87 467.70,112.20 C467.85,113.53 467.97,114.85 468.40,116.20 C468.83,117.55 469.48,118.95 470.30,120.30 C471.12,121.65 472.20,122.97 473.30,124.30 C474.40,125.63 475.83,126.95 476.90,128.30 C477.97,129.65 478.88,131.05 479.70,132.40 C480.52,133.75 481.22,135.05 481.80,136.40 C482.38,137.75 482.83,139.15 483.20,140.50 C483.57,141.85 483.80,143.17 484.00,144.50 C484.20,145.83 484.27,146.75 484.40,148.50 C484.53,150.25 484.68,153.08 484.80,155.00 C484.92,156.92 484.99,157.30 485.10,160.00 C485.21,162.70 485.42,169.33 485.48,171.20 L485.72,171.20 C485.78,169.33 485.99,162.70 486.10,160.00 C486.21,157.30 486.28,156.92 486.40,155.00 C486.52,153.08 486.67,150.25 486.80,148.50 C486.93,146.75 487.00,145.83 487.20,144.50 C487.40,143.17 487.63,141.85 488.00,140.50 C488.37,139.15 488.82,137.75 489.40,136.40 C489.98,135.05 490.68,133.75 491.50,132.40 C492.32,131.05 493.23,129.65 494.30,128.30 C495.37,126.95 496.80,125.63 497.90,124.30 C499.00,122.97 500.08,121.65 500.90,120.30 C501.72,118.95 502.37,117.55 502.80,116.20 C503.23,114.85 503.35,113.53 503.50,112.20 C503.65,110.87 503.68,109.28 503.70,108.20 C503.72,107.12 503.65,107.05 503.60,105.70 C503.55,104.35 503.57,101.72 503.40,100.10 C503.23,98.48 502.93,97.10 502.60,96.00 C502.27,94.90 501.83,94.60 501.40,93.50 C500.97,92.40 500.52,90.75 500.00,89.40 C499.48,88.05 498.92,86.75 498.30,85.40 C497.68,84.05 497.03,82.65 496.30,81.30 C495.57,79.95 494.70,78.63 493.90,77.30 C493.10,75.97 492.25,74.65 491.50,73.30 C490.75,71.95 490.02,70.55 489.40,69.20 C488.78,67.85 488.17,66.53 487.80,65.20 C487.43,63.87 487.37,62.55 487.20,61.20 C487.03,59.85 486.92,58.45 486.80,57.10 C486.68,55.75 486.68,54.03 486.50,53.10 C486.32,52.17 485.85,53.02 485.72,51.50 C485.59,49.98 485.72,45.25 485.72,44.00 Z" fill="#ffffff" stroke="#242424" stroke-width="1.1" stroke-linejoin="round"/>
<g fill="#e04a4a" opacity="1.0"><circle cx="484.3" cy="101.3" r="0.85"/><circle cx="476.0" cy="109.8" r="0.85"/><circle cx="491.7" cy="121.7" r="0.85"/><circle cx="481.6" cy="72.9" r="0.85"/><circle cx="473.3" cy="109.6" r="0.85"/><circle cx="480.8" cy="117.8" r="0.85"/><circle cx="481.4" cy="131.9" r="0.85"/><circle cx="478.2" cy="120.2" r="0.85"/><circle cx="494.3" cy="121.7" r="0.85"/><circle cx="490.8" cy="77.3" r="0.85"/><circle cx="471.1" cy="115.5" r="0.85"/><circle cx="492.4" cy="121.2" r="0.85"/><circle cx="477.1" cy="109.8" r="0.85"/><circle cx="479.0" cy="127.1" r="0.85"/><circle cx="499.5" cy="113.5" r="0.85"/><circle cx="487.4" cy="117.9" r="0.85"/><circle cx="487.6" cy="90.9" r="0.85"/><circle cx="487.2" cy="125.2" r="0.85"/><circle cx="490.1" cy="84.9" r="0.85"/><circle cx="488.6" cy="108.6" r="0.85"/><circle cx="479.2" cy="103.4" r="0.85"/><circle cx="493.7" cy="111.7" r="0.85"/><circle cx="478.0" cy="107.5" r="0.85"/><circle cx="487.2" cy="75.5" r="0.85"/><circle cx="484.9" cy="130.4" r="0.85"/><circle cx="484.0" cy="130.9" r="0.85"/><circle cx="478.9" cy="103.6" r="0.85"/><circle cx="481.1" cy="106.0" r="0.85"/><circle cx="498.7" cy="108.8" r="0.85"/><circle cx="488.7" cy="101.5" r="0.85"/><circle cx="491.8" cy="113.3" r="0.85"/><circle cx="480.8" cy="103.0" r="0.85"/><circle cx="481.7" cy="133.6" r="0.85"/><circle cx="480.8" cy="117.3" r="0.85"/><circle cx="490.4" cy="103.0" r="0.85"/><circle cx="491.9" cy="106.6" r="0.85"/><circle cx="490.6" cy="106.7" r="0.85"/><circle cx="489.0" cy="79.1" r="0.85"/><circle cx="485.4" cy="73.1" r="0.85"/><circle cx="482.0" cy="127.7" r="0.85"/><circle cx="485.3" cy="82.9" r="0.85"/><circle cx="486.3" cy="105.4" r="0.85"/><circle cx="491.7" cy="116.3" r="0.85"/><circle cx="487.2" cy="106.6" r="0.85"/><circle cx="497.5" cy="88.7" r="0.85"/></g>
<path d="M485.48,44.00 C485.48,45.25 485.61,49.98 485.48,51.50 C485.35,53.02 484.88,52.17 484.70,53.10 C484.52,54.03 484.52,55.75 484.40,57.10 C484.28,58.45 484.17,59.85 484.00,61.20 C483.83,62.55 483.77,63.87 483.40,65.20 C483.03,66.53 482.42,67.85 481.80,69.20 C481.18,70.55 480.45,71.95 479.70,73.30 C478.95,74.65 478.10,75.97 477.30,77.30 C476.50,78.63 475.63,79.95 474.90,81.30 C474.17,82.65 473.52,84.05 472.90,85.40 C472.28,86.75 471.72,88.05 471.20,89.40 C470.68,90.75 470.23,92.40 469.80,93.50 C469.37,94.60 468.93,94.90 468.60,96.00 C468.27,97.10 467.97,98.48 467.80,100.10 C467.63,101.72 467.65,104.35 467.60,105.70 C467.55,107.05 467.48,107.12 467.50,108.20 C467.52,109.28 467.55,110.87 467.70,112.20 C467.85,113.53 467.97,114.85 468.40,116.20 C468.83,117.55 469.48,118.95 470.30,120.30 C471.12,121.65 472.20,122.97 473.30,124.30 C474.40,125.63 475.83,126.95 476.90,128.30 C477.97,129.65 478.88,131.05 479.70,132.40 C480.52,133.75 481.22,135.05 481.80,136.40 C482.38,137.75 482.83,139.15 483.20,140.50 C483.57,141.85 483.80,143.17 484.00,144.50 C484.20,145.83 484.27,146.75 484.40,148.50 C484.53,150.25 484.68,153.08 484.80,155.00 C484.92,156.92 484.99,157.30 485.10,160.00 C485.21,162.70 485.42,169.33 485.48,171.20 L485.72,171.20 C485.78,169.33 485.99,162.70 486.10,160.00 C486.21,157.30 486.28,156.92 486.40,155.00 C486.52,153.08 486.67,150.25 486.80,148.50 C486.93,146.75 487.00,145.83 487.20,144.50 C487.40,143.17 487.63,141.85 488.00,140.50 C488.37,139.15 488.82,137.75 489.40,136.40 C489.98,135.05 490.68,133.75 491.50,132.40 C492.32,131.05 493.23,129.65 494.30,128.30 C495.37,126.95 496.80,125.63 497.90,124.30 C499.00,122.97 500.08,121.65 500.90,120.30 C501.72,118.95 502.37,117.55 502.80,116.20 C503.23,114.85 503.35,113.53 503.50,112.20 C503.65,110.87 503.68,109.28 503.70,108.20 C503.72,107.12 503.65,107.05 503.60,105.70 C503.55,104.35 503.57,101.72 503.40,100.10 C503.23,98.48 502.93,97.10 502.60,96.00 C502.27,94.90 501.83,94.60 501.40,93.50 C500.97,92.40 500.52,90.75 500.00,89.40 C499.48,88.05 498.92,86.75 498.30,85.40 C497.68,84.05 497.03,82.65 496.30,81.30 C495.57,79.95 494.70,78.63 493.90,77.30 C493.10,75.97 492.25,74.65 491.50,73.30 C490.75,71.95 490.02,70.55 489.40,69.20 C488.78,67.85 488.17,66.53 487.80,65.20 C487.43,63.87 487.37,62.55 487.20,61.20 C487.03,59.85 486.92,58.45 486.80,57.10 C486.68,55.75 486.68,54.03 486.50,53.10 C486.32,52.17 485.85,53.02 485.72,51.50 C485.59,49.98 485.72,45.25 485.72,44.00 Z" fill="none" stroke="#242424" stroke-width="1.1" stroke-linejoin="round"/>
<line x1="467.60" y1="105.70" x2="503.60" y2="105.70" stroke="#202020" stroke-width="1.0"/>
<line x1="445.60" y1="44.00" x2="485.60" y2="44.00" stroke="#2a2a2a" stroke-width="1.0"/>
<line x1="445.60" y1="38.70" x2="445.60" y2="44.50" stroke="#2a2a2a" stroke-width="1.0"/>
<line x1="485.60" y1="36.70" x2="485.60" y2="44.50" stroke="#2a2a2a" stroke-width="1.0"/>
<text x="450.80" y="41.30" font-size="12" fill="#222222" stroke="#222222" stroke-width="0.22" textLength="28.80" lengthAdjust="spacingAndGlyphs">0.021</text>
<line x1="422.40" y1="29.50" x2="422.40" y2="193.45" stroke="#1c1c1c" stroke-width="1.5"/>
<line x1="417.90" y1="37.00" x2="422.40" y2="37.00" stroke="#1c1c1c" stroke-width="1.3"/>
<text x="411.60" y="41.30" font-size="12" fill="#222222" stroke="#222222" stroke-width="0.22" text-anchor="end">1.6</text>
<line x1="417.90" y1="86.20" x2="422.40" y2="86.20" stroke="#1c1c1c" stroke-width="1.3"/>
<text x="411.60" y="90.50" font-size="12" fill="#222222" stroke="#222222" stroke-width="0.22" text-anchor="end">1.2</text>
<line x1="417.90" y1="135.20" x2="422.40" y2="135.20" stroke="#1c1c1c" stroke-width="1.3"/>
<text x="411.60" y="139.50" font-size="12" fill="#222222" stroke="#222222" stroke-width="0.22" text-anchor="end">0.8</text>
<line x1="417.90" y1="184.20" x2="422.40" y2="184.20" stroke="#1c1c1c" stroke-width="1.3"/>
<text x="411.60" y="188.50" font-size="12" fill="#222222" stroke="#222222" stroke-width="0.22" text-anchor="end">0.4</text>
<line x1="421.65" y1="192.70" x2="510.00" y2="192.70" stroke="#1c1c1c" stroke-width="1.5"/>
<line x1="445.60" y1="192.70" x2="445.60" y2="196.70" stroke="#1c1c1c" stroke-width="1.3"/>
<text x="445.60" y="213.00" font-size="12" fill="#222222" stroke="#222222" stroke-width="0.22" text-anchor="middle" textLength="27.30" lengthAdjust="spacingAndGlyphs">EBV–</text>
<line x1="485.60" y1="192.70" x2="485.60" y2="196.70" stroke="#1c1c1c" stroke-width="1.3"/>
<text x="485.60" y="213.00" font-size="12" fill="#222222" stroke="#222222" stroke-width="0.22" text-anchor="middle" textLength="28.80" lengthAdjust="spacingAndGlyphs">EBV+</text>
<text x="387.00" y="111.20" font-size="14" fill="#222222" stroke="#222222" stroke-width="0.22" text-anchor="middle" textLength="126.00" lengthAdjust="spacingAndGlyphs" transform="rotate(-90 387.00 111.20)">Quiescent HSC signature</text>
<text x="20.00" y="253.40" font-size="16" fill="#111" stroke="#111" stroke-width="0.5" font-weight="bold" textLength="13.30" lengthAdjust="spacingAndGlyphs">D</text>
<path d="M95.08,293.80 C95.02,294.38 94.85,296.13 94.70,297.30 C94.55,298.47 94.40,299.47 94.20,300.80 C94.00,302.13 93.75,303.82 93.50,305.30 C93.25,306.78 92.93,308.23 92.70,309.70 C92.47,311.17 92.28,312.63 92.10,314.10 C91.92,315.57 91.80,317.02 91.60,318.50 C91.40,319.98 91.17,321.52 90.90,323.00 C90.63,324.48 90.35,325.93 90.00,327.40 C89.65,328.87 89.25,330.33 88.80,331.80 C88.35,333.27 87.75,334.72 87.30,336.20 C86.85,337.68 86.43,339.22 86.10,340.70 C85.77,342.18 85.58,343.63 85.30,345.10 C85.02,346.57 84.65,347.93 84.40,349.50 C84.15,351.07 84.17,352.85 83.80,354.50 C83.43,356.15 82.77,357.85 82.20,359.40 C81.63,360.95 80.93,362.32 80.40,363.80 C79.87,365.28 79.32,366.70 79.00,368.30 C78.68,369.90 78.63,371.93 78.50,373.40 C78.37,374.87 78.40,375.75 78.20,377.10 C78.00,378.45 77.53,380.02 77.30,381.50 C77.07,382.98 76.92,384.52 76.80,386.00 C76.68,387.48 76.62,388.93 76.60,390.40 C76.58,391.87 76.60,393.70 76.70,394.80 C76.80,395.90 76.92,396.27 77.20,397.00 C77.48,397.73 77.90,398.45 78.40,399.20 C78.90,399.95 79.50,400.75 80.20,401.50 C80.90,402.25 81.73,402.95 82.60,403.70 C83.47,404.45 84.48,405.27 85.40,406.00 C86.32,406.73 87.20,407.38 88.10,408.10 C89.00,408.82 90.02,409.57 90.80,410.30 C91.58,411.03 92.27,411.80 92.80,412.50 C93.33,413.20 93.68,413.77 94.00,414.50 C94.32,415.23 94.52,416.15 94.70,416.90 C94.88,417.65 95.02,418.25 95.08,419.00 C95.14,419.75 95.08,421.00 95.08,421.40 L95.32,421.40 C95.32,421.00 95.26,419.75 95.32,419.00 C95.38,418.25 95.52,417.65 95.70,416.90 C95.88,416.15 96.08,415.23 96.40,414.50 C96.72,413.77 97.07,413.20 97.60,412.50 C98.13,411.80 98.82,411.03 99.60,410.30 C100.38,409.57 101.40,408.82 102.30,408.10 C103.20,407.38 104.08,406.73 105.00,406.00 C105.92,405.27 106.93,404.45 107.80,403.70 C108.67,402.95 109.50,402.25 110.20,401.50 C110.90,400.75 111.50,399.95 112.00,399.20 C112.50,398.45 112.92,397.73 113.20,397.00 C113.48,396.27 113.60,395.90 113.70,394.80 C113.80,393.70 113.82,391.87 113.80,390.40 C113.78,388.93 113.72,387.48 113.60,386.00 C113.48,384.52 113.33,382.98 113.10,381.50 C112.87,380.02 112.40,378.45 112.20,377.10 C112.00,375.75 112.03,374.87 111.90,373.40 C111.77,371.93 111.72,369.90 111.40,368.30 C111.08,366.70 110.53,365.28 110.00,363.80 C109.47,362.32 108.77,360.95 108.20,359.40 C107.63,357.85 106.97,356.15 106.60,354.50 C106.23,352.85 106.25,351.07 106.00,349.50 C105.75,347.93 105.38,346.57 105.10,345.10 C104.82,343.63 104.63,342.18 104.30,340.70 C103.97,339.22 103.55,337.68 103.10,336.20 C102.65,334.72 102.05,333.27 101.60,331.80 C101.15,330.33 100.75,328.87 100.40,327.40 C100.05,325.93 99.77,324.48 99.50,323.00 C99.23,321.52 99.00,319.98 98.80,318.50 C98.60,317.02 98.48,315.57 98.30,314.10 C98.12,312.63 97.93,311.17 97.70,309.70 C97.47,308.23 97.15,306.78 96.90,305.30 C96.65,303.82 96.40,302.13 96.20,300.80 C96.00,299.47 95.85,298.47 95.70,297.30 C95.55,296.13 95.38,294.38 95.32,293.80 Z" fill="#e0e0e0" stroke="#242424" stroke-width="1.1" stroke-linejoin="round"/>
<g fill="#fafafa" opacity="0.9"><circle cx="102.2" cy="376.9" r="0.75"/><circle cx="92.9" cy="401.0" r="0.75"/><circle cx="100.9" cy="339.9" r="0.75"/><circle cx="96.6" cy="381.3" r="0.75"/><circle cx="92.9" cy="406.1" r="0.75"/><circle cx="95.1" cy="381.4" r="0.75"/><circle cx="96.7" cy="326.8" r="0.75"/><circle cx="95.2" cy="339.6" r="0.75"/><circle cx="88.1" cy="391.1" r="0.75"/><circle cx="93.0" cy="376.2" r="0.75"/><circle cx="105.5" cy="371.4" r="0.75"/><circle cx="89.2" cy="408.0" r="0.75"/><circle cx="100.1" cy="393.2" r="0.75"/><circle cx="86.3" cy="365.4" r="0.75"/><circle cx="108.0" cy="399.2" r="0.75"/><circle cx="105.3" cy="385.3" r="0.75"/><circle cx="100.4" cy="396.7" r="0.75"/><circle cx="110.8" cy="393.5" r="0.75"/><circle cx="101.1" cy="335.6" r="0.75"/><circle cx="100.5" cy="339.6" r="0.75"/><circle cx="93.8" cy="361.8" r="0.75"/><circle cx="88.3" cy="354.9" r="0.75"/><circle cx="103.1" cy="348.9" r="0.75"/><circle cx="88.3" cy="376.7" r="0.75"/><circle cx="93.4" cy="349.3" r="0.75"/><circle cx="105.5" cy="360.2" r="0.75"/><circle cx="95.5" cy="318.1" r="0.75"/><circle cx="108.0" cy="380.1" r="0.75"/><circle cx="99.1" cy="364.9" r="0.75"/><circle cx="88.2" cy="348.6" r="0.75"/><circle cx="96.3" cy="317.1" r="0.75"/><circle cx="103.6" cy="367.6" r="0.75"/><circle cx="98.4" cy="380.0" r="0.75"/><circle cx="83.3" cy="377.6" r="0.75"/><circle cx="91.2" cy="392.6" r="0.75"/><circle cx="92.1" cy="326.0" r="0.75"/><circle cx="109.1" cy="381.5" r="0.75"/><circle cx="85.4" cy="400.8" r="0.75"/><circle cx="93.1" cy="372.9" r="0.75"/><circle cx="98.7" cy="328.9" r="0.75"/><circle cx="84.5" cy="364.6" r="0.75"/><circle cx="101.6" cy="355.9" r="0.75"/><circle cx="93.9" cy="319.7" r="0.75"/><circle cx="99.3" cy="396.2" r="0.75"/><circle cx="83.2" cy="384.2" r="0.75"/><circle cx="87.1" cy="347.4" r="0.75"/><circle cx="90.7" cy="338.1" r="0.75"/><circle cx="97.9" cy="401.1" r="0.75"/><circle cx="83.3" cy="364.3" r="0.75"/><circle cx="97.2" cy="387.6" r="0.75"/><circle cx="81.0" cy="378.0" r="0.75"/><circle cx="87.5" cy="400.4" r="0.75"/><circle cx="96.6" cy="345.6" r="0.75"/><circle cx="107.9" cy="372.6" r="0.75"/><circle cx="98.1" cy="399.1" r="0.75"/><circle cx="104.3" cy="380.4" r="0.75"/><circle cx="100.8" cy="351.8" r="0.75"/><circle cx="106.0" cy="377.3" r="0.75"/><circle cx="101.7" cy="353.1" r="0.75"/><circle cx="89.4" cy="406.4" r="0.75"/><circle cx="92.4" cy="390.0" r="0.75"/><circle cx="107.7" cy="369.9" r="0.75"/><circle cx="94.4" cy="358.6" r="0.75"/><circle cx="90.6" cy="390.9" r="0.75"/><circle cx="100.2" cy="404.3" r="0.75"/><circle cx="106.2" cy="396.8" r="0.75"/><circle cx="102.1" cy="351.1" r="0.75"/><circle cx="90.7" cy="343.8" r="0.75"/><circle cx="104.7" cy="356.7" r="0.75"/><circle cx="93.3" cy="320.2" r="0.75"/><circle cx="90.1" cy="359.8" r="0.75"/><circle cx="91.0" cy="359.0" r="0.75"/><circle cx="85.9" cy="360.1" r="0.75"/><circle cx="101.4" cy="363.8" r="0.75"/><circle cx="86.4" cy="371.3" r="0.75"/><circle cx="81.7" cy="383.6" r="0.75"/><circle cx="94.6" cy="347.0" r="0.75"/><circle cx="88.2" cy="388.8" r="0.75"/><circle cx="94.5" cy="372.7" r="0.75"/><circle cx="87.4" cy="361.5" r="0.75"/><circle cx="90.3" cy="400.8" r="0.75"/><circle cx="96.9" cy="319.4" r="0.75"/><circle cx="94.8" cy="339.4" r="0.75"/><circle cx="105.9" cy="401.4" r="0.75"/><circle cx="91.0" cy="361.0" r="0.75"/><circle cx="96.0" cy="321.9" r="0.75"/><circle cx="98.5" cy="401.9" r="0.75"/><circle cx="89.7" cy="368.3" r="0.75"/><circle cx="99.4" cy="389.8" r="0.75"/><circle cx="90.9" cy="363.4" r="0.75"/><circle cx="100.1" cy="354.7" r="0.75"/><circle cx="97.1" cy="358.9" r="0.75"/><circle cx="92.9" cy="326.9" r="0.75"/><circle cx="95.7" cy="374.3" r="0.75"/><circle cx="104.2" cy="373.2" r="0.75"/><circle cx="98.4" cy="406.7" r="0.75"/><circle cx="103.3" cy="400.6" r="0.75"/><circle cx="107.4" cy="381.4" r="0.75"/><circle cx="99.8" cy="366.9" r="0.75"/><circle cx="90.0" cy="358.6" r="0.75"/><circle cx="95.5" cy="382.8" r="0.75"/><circle cx="82.0" cy="366.9" r="0.75"/><circle cx="106.6" cy="395.7" r="0.75"/><circle cx="102.2" cy="341.2" r="0.75"/><circle cx="85.5" cy="363.3" r="0.75"/><circle cx="98.1" cy="327.6" r="0.75"/><circle cx="101.5" cy="380.4" r="0.75"/><circle cx="97.4" cy="400.1" r="0.75"/><circle cx="83.8" cy="381.9" r="0.75"/><circle cx="88.4" cy="365.7" r="0.75"/><circle cx="86.4" cy="354.4" r="0.75"/><circle cx="102.5" cy="351.2" r="0.75"/><circle cx="96.5" cy="395.2" r="0.75"/><circle cx="108.6" cy="372.5" r="0.75"/><circle cx="106.1" cy="386.0" r="0.75"/><circle cx="102.9" cy="370.1" r="0.75"/><circle cx="94.6" cy="379.7" r="0.75"/><circle cx="95.8" cy="344.4" r="0.75"/><circle cx="92.1" cy="329.8" r="0.75"/><circle cx="92.4" cy="332.6" r="0.75"/><circle cx="90.0" cy="357.9" r="0.75"/><circle cx="94.3" cy="313.5" r="0.75"/><circle cx="81.0" cy="395.8" r="0.75"/><circle cx="99.9" cy="396.4" r="0.75"/><circle cx="82.4" cy="390.0" r="0.75"/><circle cx="100.0" cy="376.3" r="0.75"/><circle cx="94.5" cy="379.6" r="0.75"/><circle cx="98.7" cy="374.3" r="0.75"/><circle cx="95.0" cy="359.5" r="0.75"/><circle cx="88.2" cy="390.2" r="0.75"/><circle cx="84.2" cy="359.7" r="0.75"/><circle cx="95.5" cy="385.6" r="0.75"/><circle cx="94.1" cy="368.2" r="0.75"/><circle cx="83.2" cy="393.9" r="0.75"/><circle cx="101.5" cy="387.5" r="0.75"/><circle cx="84.2" cy="396.4" r="0.75"/><circle cx="90.6" cy="396.7" r="0.75"/><circle cx="91.1" cy="391.6" r="0.75"/><circle cx="98.4" cy="346.3" r="0.75"/><circle cx="99.6" cy="335.7" r="0.75"/><circle cx="88.7" cy="390.0" r="0.75"/><circle cx="82.2" cy="377.2" r="0.75"/><circle cx="103.1" cy="389.1" r="0.75"/><circle cx="87.3" cy="364.2" r="0.75"/><circle cx="110.0" cy="394.6" r="0.75"/><circle cx="94.6" cy="314.1" r="0.75"/><circle cx="104.1" cy="396.6" r="0.75"/><circle cx="89.7" cy="336.7" r="0.75"/><circle cx="103.5" cy="386.1" r="0.75"/><circle cx="102.2" cy="383.5" r="0.75"/><circle cx="100.3" cy="353.3" r="0.75"/><circle cx="85.8" cy="385.5" r="0.75"/><circle cx="81.1" cy="375.5" r="0.75"/><circle cx="103.0" cy="376.7" r="0.75"/><circle cx="96.2" cy="356.3" r="0.75"/><circle cx="93.4" cy="346.6" r="0.75"/><circle cx="93.8" cy="389.1" r="0.75"/><circle cx="95.6" cy="401.7" r="0.75"/><circle cx="91.6" cy="388.8" r="0.75"/><circle cx="90.9" cy="371.5" r="0.75"/><circle cx="105.6" cy="366.6" r="0.75"/><circle cx="97.2" cy="378.4" r="0.75"/><circle cx="110.9" cy="389.9" r="0.75"/><circle cx="86.7" cy="367.9" r="0.75"/><circle cx="100.3" cy="383.8" r="0.75"/><circle cx="108.1" cy="391.8" r="0.75"/><circle cx="99.1" cy="392.7" r="0.75"/><circle cx="93.3" cy="362.0" r="0.75"/><circle cx="82.7" cy="379.0" r="0.75"/><circle cx="90.2" cy="337.5" r="0.75"/><circle cx="88.7" cy="347.2" r="0.75"/><circle cx="89.1" cy="397.0" r="0.75"/><circle cx="84.3" cy="360.9" r="0.75"/><circle cx="83.0" cy="380.1" r="0.75"/><circle cx="105.0" cy="354.9" r="0.75"/><circle cx="95.5" cy="316.8" r="0.75"/><circle cx="96.4" cy="393.0" r="0.75"/><circle cx="87.7" cy="384.0" r="0.75"/><circle cx="93.0" cy="349.5" r="0.75"/><circle cx="93.1" cy="365.8" r="0.75"/><circle cx="102.7" cy="390.0" r="0.75"/><circle cx="94.3" cy="318.4" r="0.75"/><circle cx="107.0" cy="388.0" r="0.75"/><circle cx="103.9" cy="393.4" r="0.75"/><circle cx="95.3" cy="312.8" r="0.75"/><circle cx="86.2" cy="371.2" r="0.75"/><circle cx="92.8" cy="379.6" r="0.75"/><circle cx="87.0" cy="353.5" r="0.75"/><circle cx="99.1" cy="329.5" r="0.75"/><circle cx="96.4" cy="351.0" r="0.75"/><circle cx="92.9" cy="375.0" r="0.75"/><circle cx="88.2" cy="360.9" r="0.75"/><circle cx="103.4" cy="394.5" r="0.75"/><circle cx="83.9" cy="382.5" r="0.75"/><circle cx="89.1" cy="352.4" r="0.75"/><circle cx="94.2" cy="342.3" r="0.75"/><circle cx="87.3" cy="371.3" r="0.75"/><circle cx="94.8" cy="385.0" r="0.75"/><circle cx="92.6" cy="347.6" r="0.75"/><circle cx="106.5" cy="360.6" r="0.75"/><circle cx="95.0" cy="397.2" r="0.75"/><circle cx="95.1" cy="322.5" r="0.75"/><circle cx="88.5" cy="345.6" r="0.75"/><circle cx="84.7" cy="389.9" r="0.75"/><circle cx="89.9" cy="405.7" r="0.75"/><circle cx="108.7" cy="394.7" r="0.75"/><circle cx="99.5" cy="402.0" r="0.75"/><circle cx="94.7" cy="396.6" r="0.75"/><circle cx="93.4" cy="321.6" r="0.75"/><circle cx="83.6" cy="387.6" r="0.75"/><circle cx="99.5" cy="330.2" r="0.75"/><circle cx="109.8" cy="390.0" r="0.75"/><circle cx="102.8" cy="369.7" r="0.75"/><circle cx="99.2" cy="361.4" r="0.75"/><circle cx="100.2" cy="355.8" r="0.75"/><circle cx="108.1" cy="367.8" r="0.75"/><circle cx="83.0" cy="396.3" r="0.75"/><circle cx="97.7" cy="411.4" r="0.75"/><circle cx="97.9" cy="371.3" r="0.75"/><circle cx="96.9" cy="322.2" r="0.75"/><circle cx="96.3" cy="351.4" r="0.75"/><circle cx="98.6" cy="327.6" r="0.75"/><circle cx="104.2" cy="372.7" r="0.75"/><circle cx="94.0" cy="349.5" r="0.75"/><circle cx="98.4" cy="406.6" r="0.75"/><circle cx="96.5" cy="321.3" r="0.75"/><circle cx="110.8" cy="392.9" r="0.75"/><circle cx="103.3" cy="385.6" r="0.75"/><circle cx="105.7" cy="401.5" r="0.75"/><circle cx="93.0" cy="349.2" r="0.75"/><circle cx="90.4" cy="361.2" r="0.75"/><circle cx="100.8" cy="374.3" r="0.75"/><circle cx="95.4" cy="310.3" r="0.75"/><circle cx="95.8" cy="360.5" r="0.75"/><circle cx="97.5" cy="406.8" r="0.75"/><circle cx="102.6" cy="358.6" r="0.75"/><circle cx="107.4" cy="398.7" r="0.75"/><circle cx="96.0" cy="390.2" r="0.75"/><circle cx="96.4" cy="393.7" r="0.75"/><circle cx="91.0" cy="366.3" r="0.75"/><circle cx="91.9" cy="371.1" r="0.75"/><circle cx="93.2" cy="346.4" r="0.75"/><circle cx="108.0" cy="366.7" r="0.75"/><circle cx="82.2" cy="368.7" r="0.75"/><circle cx="94.8" cy="376.7" r="0.75"/><circle cx="102.8" cy="381.6" r="0.75"/><circle cx="99.6" cy="373.3" r="0.75"/><circle cx="93.9" cy="399.1" r="0.75"/><circle cx="89.5" cy="357.3" r="0.75"/><circle cx="81.6" cy="382.1" r="0.75"/><circle cx="96.0" cy="329.9" r="0.75"/><circle cx="88.1" cy="406.8" r="0.75"/><circle cx="94.4" cy="333.3" r="0.75"/><circle cx="98.9" cy="391.1" r="0.75"/><circle cx="89.6" cy="387.8" r="0.75"/><circle cx="90.4" cy="373.0" r="0.75"/><circle cx="102.8" cy="340.4" r="0.75"/><circle cx="91.8" cy="348.4" r="0.75"/><circle cx="100.3" cy="344.9" r="0.75"/><circle cx="105.5" cy="390.2" r="0.75"/><circle cx="83.5" cy="361.6" r="0.75"/><circle cx="83.6" cy="361.0" r="0.75"/><circle cx="94.8" cy="379.7" r="0.75"/><circle cx="94.6" cy="399.9" r="0.75"/><circle cx="94.9" cy="356.9" r="0.75"/><circle cx="90.0" cy="387.7" r="0.75"/><circle cx="100.7" cy="392.9" r="0.75"/><circle cx="90.5" cy="393.0" r="0.75"/><circle cx="103.1" cy="386.0" r="0.75"/><circle cx="101.5" cy="347.5" r="0.75"/><circle cx="95.0" cy="359.5" r="0.75"/><circle cx="97.6" cy="409.7" r="0.75"/><circle cx="90.0" cy="365.6" r="0.75"/><circle cx="103.7" cy="380.3" r="0.75"/><circle cx="99.1" cy="329.6" r="0.75"/><circle cx="102.8" cy="360.8" r="0.75"/><circle cx="101.8" cy="407.4" r="0.75"/><circle cx="93.0" cy="399.9" r="0.75"/><circle cx="93.8" cy="340.6" r="0.75"/><circle cx="107.2" cy="402.0" r="0.75"/><circle cx="99.7" cy="394.7" r="0.75"/><circle cx="95.2" cy="405.3" r="0.75"/><circle cx="94.0" cy="402.5" r="0.75"/><circle cx="81.0" cy="375.5" r="0.75"/><circle cx="98.3" cy="335.3" r="0.75"/><circle cx="80.4" cy="389.4" r="0.75"/><circle cx="97.3" cy="401.3" r="0.75"/><circle cx="107.6" cy="381.3" r="0.75"/><circle cx="106.7" cy="372.4" r="0.75"/><circle cx="97.3" cy="373.4" r="0.75"/><circle cx="104.8" cy="399.8" r="0.75"/><circle cx="89.7" cy="333.4" r="0.75"/><circle cx="95.6" cy="313.0" r="0.75"/><circle cx="81.1" cy="386.2" r="0.75"/><circle cx="107.8" cy="379.1" r="0.75"/><circle cx="92.4" cy="381.9" r="0.75"/><circle cx="95.5" cy="375.1" r="0.75"/><circle cx="92.2" cy="377.5" r="0.75"/><circle cx="92.7" cy="400.6" r="0.75"/><circle cx="92.8" cy="345.1" r="0.75"/><circle cx="94.5" cy="394.5" r="0.75"/><circle cx="94.8" cy="392.5" r="0.75"/><circle cx="87.1" cy="380.3" r="0.75"/><circle cx="99.6" cy="332.5" r="0.75"/><circle cx="90.3" cy="344.1" r="0.75"/><circle cx="100.9" cy="344.1" r="0.75"/><circle cx="104.4" cy="381.9" r="0.75"/><circle cx="87.8" cy="385.9" r="0.75"/><circle cx="90.9" cy="385.7" r="0.75"/><circle cx="104.1" cy="381.3" r="0.75"/><circle cx="95.9" cy="405.1" r="0.75"/><circle cx="104.0" cy="368.7" r="0.75"/><circle cx="87.6" cy="383.8" r="0.75"/><circle cx="97.0" cy="358.2" r="0.75"/><circle cx="84.9" cy="397.4" r="0.75"/><circle cx="100.7" cy="402.9" r="0.75"/><circle cx="108.2" cy="388.2" r="0.75"/><circle cx="97.0" cy="336.3" r="0.75"/><circle cx="92.7" cy="321.8" r="0.75"/><circle cx="86.0" cy="351.9" r="0.75"/></g>
<g fill="#b8b8b8" opacity="0.8"><circle cx="85.7" cy="361.2" r="0.6"/><circle cx="87.7" cy="405.6" r="0.6"/><circle cx="94.7" cy="376.7" r="0.6"/><circle cx="98.1" cy="407.5" r="0.6"/><circle cx="95.5" cy="402.1" r="0.6"/><circle cx="89.2" cy="402.1" r="0.6"/><circle cx="98.0" cy="319.8" r="0.6"/><circle cx="83.2" cy="382.0" r="0.6"/><circle cx="102.1" cy="340.4" r="0.6"/><circle cx="98.9" cy="328.3" r="0.6"/><circle cx="88.4" cy="394.4" r="0.6"/><circle cx="108.3" cy="400.2" r="0.6"/><circle cx="80.3" cy="386.7" r="0.6"/><circle cx="85.9" cy="381.6" r="0.6"/><circle cx="103.8" cy="363.2" r="0.6"/><circle cx="85.2" cy="387.5" r="0.6"/><circle cx="97.3" cy="335.2" r="0.6"/><circle cx="104.4" cy="381.5" r="0.6"/><circle cx="104.9" cy="397.4" r="0.6"/><circle cx="85.4" cy="378.8" r="0.6"/><circle cx="107.7" cy="375.6" r="0.6"/><circle cx="109.2" cy="386.1" r="0.6"/><circle cx="88.2" cy="363.4" r="0.6"/><circle cx="99.3" cy="376.8" r="0.6"/><circle cx="99.8" cy="338.1" r="0.6"/><circle cx="93.8" cy="401.1" r="0.6"/><circle cx="91.2" cy="408.9" r="0.6"/><circle cx="102.6" cy="377.9" r="0.6"/><circle cx="107.6" cy="381.4" r="0.6"/><circle cx="105.2" cy="396.0" r="0.6"/><circle cx="91.3" cy="382.6" r="0.6"/><circle cx="84.9" cy="383.6" r="0.6"/><circle cx="94.7" cy="352.0" r="0.6"/><circle cx="108.8" cy="386.5" r="0.6"/><circle cx="86.6" cy="374.3" r="0.6"/><circle cx="98.5" cy="373.8" r="0.6"/><circle cx="88.3" cy="400.5" r="0.6"/><circle cx="93.8" cy="354.8" r="0.6"/><circle cx="89.8" cy="401.2" r="0.6"/><circle cx="87.3" cy="351.4" r="0.6"/><circle cx="86.7" cy="399.6" r="0.6"/><circle cx="93.0" cy="334.3" r="0.6"/><circle cx="85.5" cy="366.2" r="0.6"/><circle cx="107.1" cy="379.6" r="0.6"/><circle cx="90.6" cy="369.9" r="0.6"/><circle cx="85.1" cy="393.6" r="0.6"/><circle cx="96.1" cy="382.0" r="0.6"/><circle cx="97.8" cy="401.0" r="0.6"/><circle cx="84.4" cy="385.0" r="0.6"/><circle cx="97.2" cy="391.4" r="0.6"/><circle cx="107.6" cy="396.7" r="0.6"/><circle cx="96.6" cy="341.1" r="0.6"/><circle cx="107.5" cy="396.5" r="0.6"/><circle cx="95.9" cy="330.9" r="0.6"/><circle cx="103.6" cy="372.9" r="0.6"/><circle cx="84.9" cy="363.4" r="0.6"/><circle cx="90.7" cy="335.9" r="0.6"/><circle cx="97.5" cy="402.2" r="0.6"/><circle cx="89.8" cy="391.1" r="0.6"/><circle cx="91.9" cy="369.5" r="0.6"/><circle cx="86.8" cy="405.6" r="0.6"/><circle cx="86.9" cy="345.5" r="0.6"/><circle cx="92.2" cy="389.5" r="0.6"/><circle cx="93.7" cy="358.1" r="0.6"/><circle cx="81.2" cy="389.2" r="0.6"/><circle cx="87.0" cy="365.2" r="0.6"/><circle cx="102.4" cy="405.4" r="0.6"/><circle cx="92.9" cy="364.5" r="0.6"/><circle cx="91.5" cy="334.5" r="0.6"/><circle cx="89.6" cy="390.0" r="0.6"/><circle cx="107.8" cy="381.9" r="0.6"/><circle cx="100.7" cy="375.4" r="0.6"/><circle cx="92.7" cy="331.7" r="0.6"/><circle cx="108.1" cy="386.1" r="0.6"/><circle cx="100.6" cy="346.6" r="0.6"/><circle cx="85.7" cy="356.2" r="0.6"/><circle cx="110.0" cy="396.8" r="0.6"/><circle cx="96.7" cy="404.9" r="0.6"/><circle cx="88.9" cy="353.2" r="0.6"/><circle cx="82.8" cy="378.9" r="0.6"/><circle cx="96.0" cy="409.0" r="0.6"/><circle cx="91.1" cy="373.5" r="0.6"/><circle cx="81.6" cy="392.9" r="0.6"/><circle cx="97.7" cy="349.2" r="0.6"/><circle cx="84.0" cy="376.5" r="0.6"/><circle cx="102.2" cy="343.7" r="0.6"/><circle cx="96.5" cy="366.1" r="0.6"/><circle cx="97.2" cy="382.3" r="0.6"/><circle cx="104.6" cy="372.7" r="0.6"/><circle cx="89.6" cy="375.5" r="0.6"/><circle cx="89.5" cy="391.2" r="0.6"/><circle cx="105.9" cy="392.4" r="0.6"/><circle cx="109.2" cy="382.6" r="0.6"/><circle cx="86.9" cy="349.3" r="0.6"/><circle cx="103.6" cy="369.7" r="0.6"/><circle cx="97.0" cy="344.9" r="0.6"/><circle cx="93.6" cy="400.4" r="0.6"/><circle cx="93.0" cy="408.1" r="0.6"/><circle cx="92.9" cy="331.6" r="0.6"/><circle cx="97.3" cy="321.0" r="0.6"/><circle cx="80.9" cy="397.6" r="0.6"/><circle cx="93.1" cy="374.5" r="0.6"/><circle cx="90.9" cy="398.8" r="0.6"/><circle cx="88.7" cy="357.1" r="0.6"/><circle cx="99.8" cy="379.6" r="0.6"/><circle cx="90.1" cy="381.0" r="0.6"/><circle cx="98.3" cy="383.6" r="0.6"/><circle cx="85.3" cy="389.2" r="0.6"/><circle cx="101.4" cy="385.7" r="0.6"/><circle cx="108.9" cy="382.9" r="0.6"/><circle cx="99.2" cy="349.7" r="0.6"/><circle cx="95.6" cy="312.3" r="0.6"/><circle cx="83.7" cy="387.9" r="0.6"/><circle cx="101.1" cy="368.2" r="0.6"/><circle cx="104.9" cy="398.2" r="0.6"/><circle cx="85.7" cy="358.6" r="0.6"/><circle cx="99.3" cy="383.6" r="0.6"/><circle cx="104.4" cy="359.1" r="0.6"/><circle cx="102.3" cy="341.8" r="0.6"/><circle cx="110.5" cy="391.0" r="0.6"/><circle cx="95.1" cy="349.5" r="0.6"/><circle cx="101.0" cy="356.3" r="0.6"/><circle cx="101.5" cy="399.7" r="0.6"/><circle cx="101.4" cy="353.7" r="0.6"/><circle cx="92.2" cy="380.9" r="0.6"/><circle cx="95.7" cy="334.2" r="0.6"/><circle cx="100.9" cy="348.9" r="0.6"/><circle cx="101.8" cy="347.2" r="0.6"/><circle cx="98.9" cy="376.5" r="0.6"/><circle cx="97.1" cy="364.8" r="0.6"/><circle cx="84.4" cy="382.8" r="0.6"/><circle cx="87.8" cy="340.2" r="0.6"/><circle cx="94.6" cy="391.9" r="0.6"/><circle cx="83.7" cy="383.7" r="0.6"/><circle cx="106.7" cy="385.3" r="0.6"/><circle cx="91.8" cy="403.4" r="0.6"/><circle cx="102.8" cy="389.4" r="0.6"/><circle cx="93.6" cy="356.8" r="0.6"/><circle cx="84.7" cy="366.3" r="0.6"/><circle cx="105.9" cy="392.7" r="0.6"/></g>
<path d="M95.08,293.80 C95.02,294.38 94.85,296.13 94.70,297.30 C94.55,298.47 94.40,299.47 94.20,300.80 C94.00,302.13 93.75,303.82 93.50,305.30 C93.25,306.78 92.93,308.23 92.70,309.70 C92.47,311.17 92.28,312.63 92.10,314.10 C91.92,315.57 91.80,317.02 91.60,318.50 C91.40,319.98 91.17,321.52 90.90,323.00 C90.63,324.48 90.35,325.93 90.00,327.40 C89.65,328.87 89.25,330.33 88.80,331.80 C88.35,333.27 87.75,334.72 87.30,336.20 C86.85,337.68 86.43,339.22 86.10,340.70 C85.77,342.18 85.58,343.63 85.30,345.10 C85.02,346.57 84.65,347.93 84.40,349.50 C84.15,351.07 84.17,352.85 83.80,354.50 C83.43,356.15 82.77,357.85 82.20,359.40 C81.63,360.95 80.93,362.32 80.40,363.80 C79.87,365.28 79.32,366.70 79.00,368.30 C78.68,369.90 78.63,371.93 78.50,373.40 C78.37,374.87 78.40,375.75 78.20,377.10 C78.00,378.45 77.53,380.02 77.30,381.50 C77.07,382.98 76.92,384.52 76.80,386.00 C76.68,387.48 76.62,388.93 76.60,390.40 C76.58,391.87 76.60,393.70 76.70,394.80 C76.80,395.90 76.92,396.27 77.20,397.00 C77.48,397.73 77.90,398.45 78.40,399.20 C78.90,399.95 79.50,400.75 80.20,401.50 C80.90,402.25 81.73,402.95 82.60,403.70 C83.47,404.45 84.48,405.27 85.40,406.00 C86.32,406.73 87.20,407.38 88.10,408.10 C89.00,408.82 90.02,409.57 90.80,410.30 C91.58,411.03 92.27,411.80 92.80,412.50 C93.33,413.20 93.68,413.77 94.00,414.50 C94.32,415.23 94.52,416.15 94.70,416.90 C94.88,417.65 95.02,418.25 95.08,419.00 C95.14,419.75 95.08,421.00 95.08,421.40 L95.32,421.40 C95.32,421.00 95.26,419.75 95.32,419.00 C95.38,418.25 95.52,417.65 95.70,416.90 C95.88,416.15 96.08,415.23 96.40,414.50 C96.72,413.77 97.07,413.20 97.60,412.50 C98.13,411.80 98.82,411.03 99.60,410.30 C100.38,409.57 101.40,408.82 102.30,408.10 C103.20,407.38 104.08,406.73 105.00,406.00 C105.92,405.27 106.93,404.45 107.80,403.70 C108.67,402.95 109.50,402.25 110.20,401.50 C110.90,400.75 111.50,399.95 112.00,399.20 C112.50,398.45 112.92,397.73 113.20,397.00 C113.48,396.27 113.60,395.90 113.70,394.80 C113.80,393.70 113.82,391.87 113.80,390.40 C113.78,388.93 113.72,387.48 113.60,386.00 C113.48,384.52 113.33,382.98 113.10,381.50 C112.87,380.02 112.40,378.45 112.20,377.10 C112.00,375.75 112.03,374.87 111.90,373.40 C111.77,371.93 111.72,369.90 111.40,368.30 C111.08,366.70 110.53,365.28 110.00,363.80 C109.47,362.32 108.77,360.95 108.20,359.40 C107.63,357.85 106.97,356.15 106.60,354.50 C106.23,352.85 106.25,351.07 106.00,349.50 C105.75,347.93 105.38,346.57 105.10,345.10 C104.82,343.63 104.63,342.18 104.30,340.70 C103.97,339.22 103.55,337.68 103.10,336.20 C102.65,334.72 102.05,333.27 101.60,331.80 C101.15,330.33 100.75,328.87 100.40,327.40 C100.05,325.93 99.77,324.48 99.50,323.00 C99.23,321.52 99.00,319.98 98.80,318.50 C98.60,317.02 98.48,315.57 98.30,314.10 C98.12,312.63 97.93,311.17 97.70,309.70 C97.47,308.23 97.15,306.78 96.90,305.30 C96.65,303.82 96.40,302.13 96.20,300.80 C96.00,299.47 95.85,298.47 95.70,297.30 C95.55,296.13 95.38,294.38 95.32,293.80 Z" fill="none" stroke="#242424" stroke-width="1.1" stroke-linejoin="round"/>
<line x1="76.20" y1="373.40" x2="113.80" y2="373.40" stroke="#202020" stroke-width="1.0"/>
<path d="M136.48,294.00 C136.48,295.63 136.58,301.72 136.48,303.80 C136.38,305.88 136.21,305.02 135.85,306.50 C135.49,307.98 134.81,310.93 134.30,312.70 C133.79,314.47 133.27,315.63 132.80,317.10 C132.33,318.57 131.93,320.02 131.50,321.50 C131.07,322.98 130.68,324.52 130.20,326.00 C129.72,327.48 129.08,328.93 128.60,330.40 C128.12,331.87 127.82,333.33 127.30,334.80 C126.78,336.27 126.13,337.72 125.50,339.20 C124.87,340.68 124.15,342.22 123.50,343.70 C122.85,345.18 122.22,346.63 121.60,348.10 C120.98,349.57 120.32,351.03 119.80,352.50 C119.28,353.97 118.83,355.48 118.50,356.90 C118.17,358.32 117.70,359.35 117.80,361.00 C117.90,362.65 118.58,365.08 119.10,366.80 C119.62,368.52 120.35,369.82 120.90,371.30 C121.45,372.78 121.85,374.23 122.40,375.70 C122.95,377.17 123.63,378.63 124.20,380.10 C124.77,381.57 125.35,383.02 125.80,384.50 C126.25,385.98 126.65,387.52 126.90,389.00 C127.15,390.48 127.12,391.93 127.30,393.40 C127.48,394.87 127.72,396.33 128.00,397.80 C128.28,399.27 128.53,400.72 129.00,402.20 C129.47,403.68 130.17,405.22 130.80,406.70 C131.43,408.18 132.17,409.63 132.80,411.10 C133.43,412.57 134.08,414.02 134.60,415.50 C135.12,416.98 135.59,418.58 135.90,420.00 C136.21,421.42 136.38,421.80 136.48,424.00 C136.58,426.20 136.48,431.67 136.48,433.20 L136.72,433.20 C136.72,431.67 136.62,426.20 136.72,424.00 C136.82,421.80 136.99,421.42 137.30,420.00 C137.61,418.58 138.08,416.98 138.60,415.50 C139.12,414.02 139.77,412.57 140.40,411.10 C141.03,409.63 141.77,408.18 142.40,406.70 C143.03,405.22 143.73,403.68 144.20,402.20 C144.67,400.72 144.92,399.27 145.20,397.80 C145.48,396.33 145.72,394.87 145.90,393.40 C146.08,391.93 146.05,390.48 146.30,389.00 C146.55,387.52 146.95,385.98 147.40,384.50 C147.85,383.02 148.43,381.57 149.00,380.10 C149.57,378.63 150.25,377.17 150.80,375.70 C151.35,374.23 151.75,372.78 152.30,371.30 C152.85,369.82 153.58,368.52 154.10,366.80 C154.62,365.08 155.30,362.65 155.40,361.00 C155.50,359.35 155.03,358.32 154.70,356.90 C154.37,355.48 153.92,353.97 153.40,352.50 C152.88,351.03 152.22,349.57 151.60,348.10 C150.98,346.63 150.35,345.18 149.70,343.70 C149.05,342.22 148.33,340.68 147.70,339.20 C147.07,337.72 146.42,336.27 145.90,334.80 C145.38,333.33 145.08,331.87 144.60,330.40 C144.12,328.93 143.48,327.48 143.00,326.00 C142.52,324.52 142.13,322.98 141.70,321.50 C141.27,320.02 140.87,318.57 140.40,317.10 C139.93,315.63 139.41,314.47 138.90,312.70 C138.39,310.93 137.71,307.98 137.35,306.50 C136.99,305.02 136.82,305.88 136.72,303.80 C136.62,301.72 136.72,295.63 136.72,294.00 Z" fill="#ffffff" stroke="#242424" stroke-width="1.1" stroke-linejoin="round"/>
<g fill="#e49090" opacity="1.0"><circle cx="130.9" cy="366.9" r="0.75"/><circle cx="128.0" cy="371.2" r="0.75"/><circle cx="142.7" cy="350.1" r="0.75"/><circle cx="128.3" cy="345.2" r="0.75"/><circle cx="140.6" cy="387.1" r="0.75"/><circle cx="140.7" cy="379.5" r="0.75"/><circle cx="131.2" cy="342.0" r="0.75"/><circle cx="128.3" cy="362.2" r="0.75"/><circle cx="138.3" cy="395.9" r="0.75"/><circle cx="130.0" cy="350.8" r="0.75"/><circle cx="121.2" cy="360.6" r="0.75"/><circle cx="146.7" cy="345.0" r="0.75"/><circle cx="128.1" cy="345.5" r="0.75"/><circle cx="132.5" cy="326.1" r="0.75"/><circle cx="144.4" cy="352.1" r="0.75"/><circle cx="125.5" cy="357.1" r="0.75"/><circle cx="137.6" cy="390.9" r="0.75"/><circle cx="128.7" cy="345.2" r="0.75"/><circle cx="142.1" cy="402.2" r="0.75"/><circle cx="125.0" cy="352.7" r="0.75"/><circle cx="137.0" cy="328.1" r="0.75"/><circle cx="130.0" cy="370.6" r="0.75"/><circle cx="142.3" cy="382.1" r="0.75"/><circle cx="138.6" cy="352.5" r="0.75"/><circle cx="140.0" cy="335.1" r="0.75"/><circle cx="129.9" cy="371.9" r="0.75"/><circle cx="130.5" cy="343.0" r="0.75"/><circle cx="130.5" cy="358.8" r="0.75"/><circle cx="126.4" cy="378.2" r="0.75"/><circle cx="137.9" cy="351.7" r="0.75"/><circle cx="145.7" cy="376.6" r="0.75"/><circle cx="127.4" cy="370.6" r="0.75"/><circle cx="146.0" cy="360.9" r="0.75"/><circle cx="134.8" cy="345.8" r="0.75"/><circle cx="129.1" cy="369.3" r="0.75"/><circle cx="142.0" cy="394.6" r="0.75"/><circle cx="137.1" cy="372.8" r="0.75"/><circle cx="142.6" cy="401.5" r="0.75"/><circle cx="136.9" cy="322.0" r="0.75"/><circle cx="134.3" cy="342.9" r="0.75"/><circle cx="147.2" cy="373.0" r="0.75"/><circle cx="132.6" cy="329.6" r="0.75"/><circle cx="138.8" cy="344.8" r="0.75"/><circle cx="139.7" cy="341.0" r="0.75"/><circle cx="126.8" cy="354.3" r="0.75"/><circle cx="130.2" cy="336.0" r="0.75"/><circle cx="148.8" cy="355.3" r="0.75"/><circle cx="131.7" cy="333.8" r="0.75"/><circle cx="137.6" cy="330.7" r="0.75"/><circle cx="143.3" cy="337.8" r="0.75"/><circle cx="125.1" cy="345.3" r="0.75"/><circle cx="138.1" cy="370.8" r="0.75"/><circle cx="137.9" cy="359.3" r="0.75"/><circle cx="134.6" cy="345.2" r="0.75"/><circle cx="133.3" cy="403.5" r="0.75"/><circle cx="151.7" cy="356.8" r="0.75"/><circle cx="134.4" cy="340.8" r="0.75"/><circle cx="146.8" cy="366.2" r="0.75"/><circle cx="140.5" cy="372.6" r="0.75"/><circle cx="140.3" cy="388.0" r="0.75"/></g>
<path d="M136.48,294.00 C136.48,295.63 136.58,301.72 136.48,303.80 C136.38,305.88 136.21,305.02 135.85,306.50 C135.49,307.98 134.81,310.93 134.30,312.70 C133.79,314.47 133.27,315.63 132.80,317.10 C132.33,318.57 131.93,320.02 131.50,321.50 C131.07,322.98 130.68,324.52 130.20,326.00 C129.72,327.48 129.08,328.93 128.60,330.40 C128.12,331.87 127.82,333.33 127.30,334.80 C126.78,336.27 126.13,337.72 125.50,339.20 C124.87,340.68 124.15,342.22 123.50,343.70 C122.85,345.18 122.22,346.63 121.60,348.10 C120.98,349.57 120.32,351.03 119.80,352.50 C119.28,353.97 118.83,355.48 118.50,356.90 C118.17,358.32 117.70,359.35 117.80,361.00 C117.90,362.65 118.58,365.08 119.10,366.80 C119.62,368.52 120.35,369.82 120.90,371.30 C121.45,372.78 121.85,374.23 122.40,375.70 C122.95,377.17 123.63,378.63 124.20,380.10 C124.77,381.57 125.35,383.02 125.80,384.50 C126.25,385.98 126.65,387.52 126.90,389.00 C127.15,390.48 127.12,391.93 127.30,393.40 C127.48,394.87 127.72,396.33 128.00,397.80 C128.28,399.27 128.53,400.72 129.00,402.20 C129.47,403.68 130.17,405.22 130.80,406.70 C131.43,408.18 132.17,409.63 132.80,411.10 C133.43,412.57 134.08,414.02 134.60,415.50 C135.12,416.98 135.59,418.58 135.90,420.00 C136.21,421.42 136.38,421.80 136.48,424.00 C136.58,426.20 136.48,431.67 136.48,433.20 L136.72,433.20 C136.72,431.67 136.62,426.20 136.72,424.00 C136.82,421.80 136.99,421.42 137.30,420.00 C137.61,418.58 138.08,416.98 138.60,415.50 C139.12,414.02 139.77,412.57 140.40,411.10 C141.03,409.63 141.77,408.18 142.40,406.70 C143.03,405.22 143.73,403.68 144.20,402.20 C144.67,400.72 144.92,399.27 145.20,397.80 C145.48,396.33 145.72,394.87 145.90,393.40 C146.08,391.93 146.05,390.48 146.30,389.00 C146.55,387.52 146.95,385.98 147.40,384.50 C147.85,383.02 148.43,381.57 149.00,380.10 C149.57,378.63 150.25,377.17 150.80,375.70 C151.35,374.23 151.75,372.78 152.30,371.30 C152.85,369.82 153.58,368.52 154.10,366.80 C154.62,365.08 155.30,362.65 155.40,361.00 C155.50,359.35 155.03,358.32 154.70,356.90 C154.37,355.48 153.92,353.97 153.40,352.50 C152.88,351.03 152.22,349.57 151.60,348.10 C150.98,346.63 150.35,345.18 149.70,343.70 C149.05,342.22 148.33,340.68 147.70,339.20 C147.07,337.72 146.42,336.27 145.90,334.80 C145.38,333.33 145.08,331.87 144.60,330.40 C144.12,328.93 143.48,327.48 143.00,326.00 C142.52,324.52 142.13,322.98 141.70,321.50 C141.27,320.02 140.87,318.57 140.40,317.10 C139.93,315.63 139.41,314.47 138.90,312.70 C138.39,310.93 137.71,307.98 137.35,306.50 C136.99,305.02 136.82,305.88 136.72,303.80 C136.62,301.72 136.72,295.63 136.72,294.00 Z" fill="none" stroke="#242424" stroke-width="1.1" stroke-linejoin="round"/>
<line x1="117.80" y1="361.00" x2="155.40" y2="361.00" stroke="#202020" stroke-width="1.0"/>
<line x1="95.20" y1="294.00" x2="136.60" y2="294.00" stroke="#2a2a2a" stroke-width="1.0"/>
<line x1="95.20" y1="282.80" x2="95.20" y2="294.50" stroke="#2a2a2a" stroke-width="1.0"/>
<line x1="136.60" y1="290.60" x2="136.60" y2="294.50" stroke="#2a2a2a" stroke-width="1.0"/>
<text x="100.80" y="293.00" font-size="12" fill="#222222" stroke="#222222" stroke-width="0.22" textLength="28.90" lengthAdjust="spacingAndGlyphs">0.027</text>
<line x1="70.60" y1="275.00" x2="70.60" y2="440.75" stroke="#1c1c1c" stroke-width="1.5"/>
<line x1="66.10" y1="300.80" x2="70.60" y2="300.80" stroke="#1c1c1c" stroke-width="1.3"/>
<text x="60.50" y="305.10" font-size="12" fill="#222222" stroke="#222222" stroke-width="0.22" text-anchor="end">3</text>
<line x1="66.10" y1="335.40" x2="70.60" y2="335.40" stroke="#1c1c1c" stroke-width="1.3"/>
<text x="60.50" y="339.70" font-size="12" fill="#222222" stroke="#222222" stroke-width="0.22" text-anchor="end">2</text>
<line x1="66.10" y1="370.00" x2="70.60" y2="370.00" stroke="#1c1c1c" stroke-width="1.3"/>
<text x="60.50" y="374.30" font-size="12" fill="#222222" stroke="#222222" stroke-width="0.22" text-anchor="end">1</text>
<line x1="66.10" y1="404.60" x2="70.60" y2="404.60" stroke="#1c1c1c" stroke-width="1.3"/>
<text x="60.50" y="408.90" font-size="12" fill="#222222" stroke="#222222" stroke-width="0.22" text-anchor="end">0</text>
<line x1="66.10" y1="439.20" x2="70.60" y2="439.20" stroke="#1c1c1c" stroke-width="1.3"/>
<text x="60.50" y="443.50" font-size="12" fill="#222222" stroke="#222222" stroke-width="0.22" text-anchor="end">−1</text>
<line x1="69.85" y1="440.10" x2="161.60" y2="440.10" stroke="#1c1c1c" stroke-width="1.5"/>
<line x1="95.20" y1="440.10" x2="95.20" y2="444.10" stroke="#1c1c1c" stroke-width="1.3"/>
<text x="95.20" y="459.30" font-size="12" fill="#222222" stroke="#222222" stroke-width="0.22" text-anchor="middle" textLength="27.00" lengthAdjust="spacingAndGlyphs">EBV–</text>
<line x1="136.60" y1="440.10" x2="136.60" y2="444.10" stroke="#1c1c1c" stroke-width="1.3"/>
<text x="136.60" y="459.30" font-size="12" fill="#222222" stroke="#222222" stroke-width="0.22" text-anchor="middle" textLength="28.70" lengthAdjust="spacingAndGlyphs">EBV+</text>
<text x="22.60" y="357.25" font-size="14" fill="#222222" stroke="#222222" stroke-width="0.22" text-anchor="middle" textLength="113.50" lengthAdjust="spacingAndGlyphs" transform="rotate(-90 22.60 357.25)">Up-regulated genes in</text>
<text x="39.40" y="357.30" font-size="14" fill="#222222" stroke="#222222" stroke-width="0.22" text-anchor="middle" textLength="135.60" lengthAdjust="spacingAndGlyphs" transform="rotate(-90 39.40 357.30)">HSC to MPP differentiation</text>
<text x="197.40" y="253.40" font-size="16" fill="#111" stroke="#111" stroke-width="0.5" font-weight="bold" textLength="10.00" lengthAdjust="spacingAndGlyphs">E</text>
<line x1="272.30" y1="300.00" x2="272.30" y2="347.50" stroke="#c4c4c4" stroke-width="1.1"/>
<line x1="272.30" y1="404.40" x2="272.30" y2="421.00" stroke="#c4c4c4" stroke-width="1.1"/>
<line x1="272.30" y1="286.00" x2="272.30" y2="300.50" stroke="#666" stroke-width="1.1"/>
<line x1="272.30" y1="300.50" x2="272.30" y2="309.00" stroke="#9a9a9a" stroke-width="1.1"/>
<path d="M272.18,309.00 C272.12,309.42 271.95,310.70 271.80,311.50 C271.65,312.30 271.63,312.52 271.30,313.80 C270.97,315.08 270.25,317.65 269.80,319.20 C269.35,320.75 268.98,321.82 268.60,323.10 C268.22,324.38 267.88,325.62 267.50,326.90 C267.12,328.18 266.68,329.52 266.30,330.80 C265.92,332.08 265.57,333.32 265.20,334.60 C264.83,335.88 264.42,337.22 264.10,338.50 C263.78,339.78 263.40,341.02 263.30,342.30 C263.20,343.58 263.32,344.92 263.50,346.20 C263.68,347.48 264.05,348.73 264.40,350.00 C264.75,351.27 265.25,352.60 265.60,353.80 C265.95,355.00 266.25,356.37 266.50,357.20 C266.75,358.03 266.77,357.88 267.10,358.80 C267.43,359.72 268.18,361.42 268.50,362.70 C268.82,363.98 268.98,365.22 269.00,366.50 C269.02,367.78 268.98,369.12 268.60,370.40 C268.22,371.68 267.40,372.92 266.70,374.20 C266.00,375.48 265.00,376.82 264.40,378.10 C263.80,379.38 263.38,380.62 263.10,381.90 C262.82,383.18 262.70,384.52 262.70,385.80 C262.70,387.08 262.88,388.32 263.10,389.60 C263.32,390.88 264.13,392.22 264.00,393.50 C263.87,394.78 262.83,396.38 262.30,397.30 C261.77,398.22 261.43,398.35 260.80,399.00 C260.17,399.65 259.22,400.53 258.50,401.20 C257.78,401.87 257.05,402.33 256.50,403.00 C255.95,403.67 255.23,404.42 255.20,405.20 C255.17,405.98 255.70,406.98 256.30,407.70 C256.90,408.42 257.87,408.87 258.80,409.50 C259.73,410.13 260.35,410.52 261.90,411.50 C263.45,412.48 266.57,414.12 268.10,415.40 C269.63,416.68 270.42,418.27 271.10,419.20 C271.78,420.13 272.00,418.95 272.18,421.00 C272.36,423.05 272.18,429.75 272.18,431.50 L272.42,431.50 C272.42,429.75 272.24,423.05 272.42,421.00 C272.60,418.95 272.82,420.13 273.50,419.20 C274.18,418.27 274.97,416.68 276.50,415.40 C278.03,414.12 281.15,412.48 282.70,411.50 C284.25,410.52 284.87,410.13 285.80,409.50 C286.73,408.87 287.70,408.42 288.30,407.70 C288.90,406.98 289.43,405.98 289.40,405.20 C289.37,404.42 288.65,403.67 288.10,403.00 C287.55,402.33 286.82,401.87 286.10,401.20 C285.38,400.53 284.43,399.65 283.80,399.00 C283.17,398.35 282.83,398.22 282.30,397.30 C281.77,396.38 280.73,394.78 280.60,393.50 C280.47,392.22 281.28,390.88 281.50,389.60 C281.72,388.32 281.90,387.08 281.90,385.80 C281.90,384.52 281.78,383.18 281.50,381.90 C281.22,380.62 280.80,379.38 280.20,378.10 C279.60,376.82 278.60,375.48 277.90,374.20 C277.20,372.92 276.38,371.68 276.00,370.40 C275.62,369.12 275.58,367.78 275.60,366.50 C275.62,365.22 275.78,363.98 276.10,362.70 C276.42,361.42 277.17,359.72 277.50,358.80 C277.83,357.88 277.85,358.03 278.10,357.20 C278.35,356.37 278.65,355.00 279.00,353.80 C279.35,352.60 279.85,351.27 280.20,350.00 C280.55,348.73 280.92,347.48 281.10,346.20 C281.28,344.92 281.40,343.58 281.30,342.30 C281.20,341.02 280.82,339.78 280.50,338.50 C280.18,337.22 279.77,335.88 279.40,334.60 C279.03,333.32 278.68,332.08 278.30,330.80 C277.92,329.52 277.48,328.18 277.10,326.90 C276.72,325.62 276.38,324.38 276.00,323.10 C275.62,321.82 275.25,320.75 274.80,319.20 C274.35,317.65 273.63,315.08 273.30,313.80 C272.97,312.52 272.95,312.30 272.80,311.50 C272.65,310.70 272.48,309.42 272.42,309.00 Z" fill="none" stroke="#242424" stroke-width="1.1" stroke-linejoin="round"/>
<rect x="268.60" y="347.20" width="7.10" height="57.20" fill="none" stroke="#c4c4c4" stroke-width="1.1"/>
<line x1="268.70" y1="381.80" x2="275.90" y2="381.80" stroke="#c4c4c4" stroke-width="1.2"/>
<line x1="309.50" y1="281.00" x2="309.50" y2="303.00" stroke="#333" stroke-width="1.1"/>
<line x1="309.50" y1="303.00" x2="309.50" y2="320.00" stroke="#7a1822" stroke-width="1.2"/>
<line x1="309.50" y1="320.00" x2="309.50" y2="339.40" stroke="#d0101c" stroke-width="1.1"/>
<line x1="309.50" y1="384.00" x2="309.50" y2="416.00" stroke="#d0101c" stroke-width="1.1"/>
<path d="M309.38,281.00 C309.38,284.67 309.46,298.17 309.38,303.00 C309.30,307.83 309.03,307.22 308.90,310.00 C308.77,312.78 308.78,317.68 308.60,319.70 C308.42,321.72 308.25,321.02 307.80,322.10 C307.35,323.18 307.07,324.85 305.90,326.20 C304.73,327.55 302.45,328.87 300.80,330.20 C299.15,331.53 297.35,332.85 296.00,334.20 C294.65,335.55 293.33,337.35 292.70,338.30 C292.07,339.25 292.10,339.23 292.20,339.90 C292.30,340.57 292.50,341.23 293.30,342.30 C294.10,343.37 295.65,344.95 297.00,346.30 C298.35,347.65 300.05,349.18 301.40,350.40 C302.75,351.62 304.35,352.25 305.10,353.60 C305.85,354.95 305.70,357.02 305.90,358.50 C306.10,359.98 306.30,361.25 306.30,362.50 C306.30,363.75 306.03,364.92 305.90,366.00 C305.77,367.08 305.92,367.82 305.50,369.00 C305.08,370.18 304.22,371.75 303.40,373.10 C302.58,374.45 301.17,375.75 300.60,377.10 C300.03,378.45 299.77,379.85 300.00,381.20 C300.23,382.55 301.18,383.87 302.00,385.20 C302.82,386.53 304.35,387.85 304.90,389.20 C305.45,390.55 305.37,391.95 305.30,393.30 C305.23,394.65 305.05,395.97 304.50,397.30 C303.95,398.63 302.68,399.95 302.00,401.30 C301.32,402.65 300.30,404.05 300.40,405.40 C300.50,406.75 301.55,408.05 302.60,409.40 C303.65,410.75 305.65,412.28 306.70,413.50 C307.75,414.72 308.45,415.62 308.90,416.70 C309.35,417.78 309.30,418.05 309.38,420.00 C309.46,421.95 309.38,427.00 309.38,428.40 L309.62,428.40 C309.62,427.00 309.54,421.95 309.62,420.00 C309.70,418.05 309.65,417.78 310.10,416.70 C310.55,415.62 311.25,414.72 312.30,413.50 C313.35,412.28 315.35,410.75 316.40,409.40 C317.45,408.05 318.50,406.75 318.60,405.40 C318.70,404.05 317.68,402.65 317.00,401.30 C316.32,399.95 315.05,398.63 314.50,397.30 C313.95,395.97 313.77,394.65 313.70,393.30 C313.63,391.95 313.55,390.55 314.10,389.20 C314.65,387.85 316.18,386.53 317.00,385.20 C317.82,383.87 318.77,382.55 319.00,381.20 C319.23,379.85 318.97,378.45 318.40,377.10 C317.83,375.75 316.42,374.45 315.60,373.10 C314.78,371.75 313.92,370.18 313.50,369.00 C313.08,367.82 313.23,367.08 313.10,366.00 C312.97,364.92 312.70,363.75 312.70,362.50 C312.70,361.25 312.90,359.98 313.10,358.50 C313.30,357.02 313.15,354.95 313.90,353.60 C314.65,352.25 316.25,351.62 317.60,350.40 C318.95,349.18 320.65,347.65 322.00,346.30 C323.35,344.95 324.90,343.37 325.70,342.30 C326.50,341.23 326.70,340.57 326.80,339.90 C326.90,339.23 326.93,339.25 326.30,338.30 C325.67,337.35 324.35,335.55 323.00,334.20 C321.65,332.85 319.85,331.53 318.20,330.20 C316.55,328.87 314.27,327.55 313.10,326.20 C311.93,324.85 311.65,323.18 311.20,322.10 C310.75,321.02 310.58,321.72 310.40,319.70 C310.22,317.68 310.23,312.78 310.10,310.00 C309.97,307.22 309.70,307.83 309.62,303.00 C309.54,298.17 309.62,284.67 309.62,281.00 Z" fill="none" stroke="#242424" stroke-width="1.1" stroke-linejoin="round"/>
<rect x="305.30" y="339.40" width="8.40" height="44.60" fill="none" stroke="#d0101c" stroke-width="1.2"/>
<line x1="305.30" y1="352.70" x2="313.70" y2="352.70" stroke="#d0101c" stroke-width="2.0"/>
<line x1="271.60" y1="275.60" x2="309.70" y2="275.60" stroke="#1c1c1c" stroke-width="1.2"/>
<line x1="271.60" y1="275.60" x2="271.60" y2="279.20" stroke="#1c1c1c" stroke-width="1.2"/>
<line x1="309.70" y1="275.60" x2="309.70" y2="279.20" stroke="#1c1c1c" stroke-width="1.2"/>
<text x="255.40" y="267.90" font-size="12" fill="#222222" stroke="#222222" stroke-width="0.22" textLength="6.60" lengthAdjust="spacingAndGlyphs"><tspan font-style="italic">P</tspan></text>
<text x="265.80" y="267.90" font-size="12" fill="#222222" stroke="#222222" stroke-width="0.22" textLength="7.60" lengthAdjust="spacingAndGlyphs">&lt;</text>
<text x="276.60" y="267.90" font-size="12" fill="#222222" stroke="#222222" stroke-width="0.22" textLength="50.40" lengthAdjust="spacingAndGlyphs">2.22e–16</text>
<line x1="249.60" y1="274.50" x2="249.60" y2="440.15" stroke="#1c1c1c" stroke-width="1.5"/>
<line x1="245.10" y1="281.70" x2="249.60" y2="281.70" stroke="#1c1c1c" stroke-width="1.3"/>
<text x="240.60" y="286.00" font-size="12" fill="#222222" stroke="#222222" stroke-width="0.22" text-anchor="end">1.25</text>
<line x1="245.10" y1="312.60" x2="249.60" y2="312.60" stroke="#1c1c1c" stroke-width="1.3"/>
<text x="240.60" y="316.90" font-size="12" fill="#222222" stroke="#222222" stroke-width="0.22" text-anchor="end">1.00</text>
<line x1="245.10" y1="343.50" x2="249.60" y2="343.50" stroke="#1c1c1c" stroke-width="1.3"/>
<text x="240.60" y="347.80" font-size="12" fill="#222222" stroke="#222222" stroke-width="0.22" text-anchor="end">0.75</text>
<line x1="245.10" y1="374.40" x2="249.60" y2="374.40" stroke="#1c1c1c" stroke-width="1.3"/>
<text x="240.60" y="378.70" font-size="12" fill="#222222" stroke="#222222" stroke-width="0.22" text-anchor="end">0.50</text>
<line x1="245.10" y1="405.30" x2="249.60" y2="405.30" stroke="#1c1c1c" stroke-width="1.3"/>
<text x="240.60" y="409.60" font-size="12" fill="#222222" stroke="#222222" stroke-width="0.22" text-anchor="end">0.25</text>
<line x1="245.10" y1="436.20" x2="249.60" y2="436.20" stroke="#1c1c1c" stroke-width="1.3"/>
<text x="240.60" y="440.50" font-size="12" fill="#222222" stroke="#222222" stroke-width="0.22" text-anchor="end">0.00</text>
<line x1="248.85" y1="439.40" x2="331.50" y2="439.40" stroke="#1c1c1c" stroke-width="1.5"/>
<line x1="272.30" y1="439.40" x2="272.30" y2="443.40" stroke="#1c1c1c" stroke-width="1.3"/>
<text x="272.30" y="459.40" font-size="12" fill="#222222" stroke="#222222" stroke-width="0.22" text-anchor="middle" textLength="17.00" lengthAdjust="spacingAndGlyphs">HC</text>
<line x1="309.50" y1="439.40" x2="309.50" y2="443.40" stroke="#1c1c1c" stroke-width="1.3"/>
<text x="309.50" y="459.40" font-size="12" fill="#222222" stroke="#222222" stroke-width="0.22" text-anchor="middle" textLength="38.50" lengthAdjust="spacingAndGlyphs">CAEBV</text>
<text x="208.10" y="357.20" font-size="14" fill="#222222" stroke="#222222" stroke-width="0.22" text-anchor="middle" textLength="155.60" lengthAdjust="spacingAndGlyphs" transform="rotate(-90 208.10 357.20)">Tumor inflammation signature</text>
<line x1="444.20" y1="295.80" x2="444.20" y2="344.20" stroke="#c4c4c4" stroke-width="1.1"/>
<line x1="444.20" y1="400.00" x2="444.20" y2="417.20" stroke="#c4c4c4" stroke-width="1.1"/>
<line x1="444.20" y1="281.60" x2="444.20" y2="295.80" stroke="#555" stroke-width="1.1"/>
<path d="M444.08,305.00 C444.03,306.00 443.95,309.02 443.80,311.00 C443.65,312.98 443.42,315.27 443.20,316.90 C442.98,318.53 442.80,319.52 442.50,320.80 C442.20,322.08 441.88,323.32 441.40,324.60 C440.92,325.88 440.48,327.22 439.60,328.50 C438.72,329.78 437.38,331.02 436.10,332.30 C434.82,333.58 433.18,334.92 431.90,336.20 C430.62,337.48 429.20,338.73 428.40,340.00 C427.60,341.27 427.23,342.88 427.10,343.80 C426.97,344.72 427.12,344.67 427.60,345.50 C428.08,346.33 429.00,347.60 430.00,348.80 C431.00,350.00 432.35,351.42 433.60,352.70 C434.85,353.98 436.47,355.22 437.50,356.50 C438.53,357.78 439.30,359.12 439.80,360.40 C440.30,361.68 440.40,362.92 440.50,364.20 C440.60,365.48 440.65,366.82 440.40,368.10 C440.15,369.38 439.55,370.62 439.00,371.90 C438.45,373.18 437.77,374.52 437.10,375.80 C436.43,377.08 435.55,378.32 435.00,379.60 C434.45,380.88 433.97,382.22 433.80,383.50 C433.63,384.78 433.72,386.02 434.00,387.30 C434.28,388.58 435.15,389.92 435.50,391.20 C435.85,392.48 436.03,393.78 436.10,395.00 C436.17,396.22 436.08,397.37 435.90,398.50 C435.72,399.63 435.67,400.60 435.00,401.80 C434.33,403.00 432.87,404.42 431.90,405.70 C430.93,406.98 429.68,408.48 429.20,409.50 C428.72,410.52 428.83,411.15 429.00,411.80 C429.17,412.45 428.95,412.50 430.20,413.40 C431.45,414.30 434.65,415.92 436.50,417.20 C438.35,418.48 440.10,419.93 441.30,421.10 C442.50,422.27 443.24,423.38 443.70,424.20 C444.16,425.02 444.02,424.73 444.08,426.00 C444.14,427.27 444.08,430.83 444.08,431.80 L444.32,431.80 C444.32,430.83 444.26,427.27 444.32,426.00 C444.38,424.73 444.24,425.02 444.70,424.20 C445.16,423.38 445.90,422.27 447.10,421.10 C448.30,419.93 450.05,418.48 451.90,417.20 C453.75,415.92 456.95,414.30 458.20,413.40 C459.45,412.50 459.23,412.45 459.40,411.80 C459.57,411.15 459.68,410.52 459.20,409.50 C458.72,408.48 457.47,406.98 456.50,405.70 C455.53,404.42 454.07,403.00 453.40,401.80 C452.73,400.60 452.68,399.63 452.50,398.50 C452.32,397.37 452.23,396.22 452.30,395.00 C452.37,393.78 452.55,392.48 452.90,391.20 C453.25,389.92 454.12,388.58 454.40,387.30 C454.68,386.02 454.77,384.78 454.60,383.50 C454.43,382.22 453.95,380.88 453.40,379.60 C452.85,378.32 451.97,377.08 451.30,375.80 C450.63,374.52 449.95,373.18 449.40,371.90 C448.85,370.62 448.25,369.38 448.00,368.10 C447.75,366.82 447.80,365.48 447.90,364.20 C448.00,362.92 448.10,361.68 448.60,360.40 C449.10,359.12 449.87,357.78 450.90,356.50 C451.93,355.22 453.55,353.98 454.80,352.70 C456.05,351.42 457.40,350.00 458.40,348.80 C459.40,347.60 460.32,346.33 460.80,345.50 C461.28,344.67 461.43,344.72 461.30,343.80 C461.17,342.88 460.80,341.27 460.00,340.00 C459.20,338.73 457.78,337.48 456.50,336.20 C455.22,334.92 453.58,333.58 452.30,332.30 C451.02,331.02 449.68,329.78 448.80,328.50 C447.92,327.22 447.48,325.88 447.00,324.60 C446.52,323.32 446.20,322.08 445.90,320.80 C445.60,319.52 445.42,318.53 445.20,316.90 C444.98,315.27 444.75,312.98 444.60,311.00 C444.45,309.02 444.37,306.00 444.32,305.00 Z" fill="none" stroke="#242424" stroke-width="1.1" stroke-linejoin="round"/>
<rect x="440.40" y="344.20" width="7.20" height="55.80" fill="none" stroke="#c4c4c4" stroke-width="1.1"/>
<line x1="440.50" y1="374.20" x2="447.70" y2="374.20" stroke="#c4c4c4" stroke-width="1.2"/>
<line x1="481.50" y1="284.20" x2="481.50" y2="316.00" stroke="#3a3a3a" stroke-width="1.1"/>
<line x1="481.50" y1="316.00" x2="481.50" y2="341.50" stroke="#a01020" stroke-width="1.2"/>
<line x1="481.50" y1="357.70" x2="481.50" y2="416.20" stroke="#a01020" stroke-width="1.6"/>
<path d="M481.38,284.20 C481.35,290.17 481.28,312.37 481.20,320.00 C481.12,327.63 481.07,328.08 480.90,330.00 C480.73,331.92 480.90,330.60 480.20,331.50 C479.50,332.40 478.02,334.37 476.70,335.40 C475.38,336.43 474.07,336.93 472.30,337.70 C470.53,338.47 467.42,339.30 466.10,340.00 C464.78,340.70 464.23,341.27 464.40,341.90 C464.57,342.53 465.67,343.08 467.10,343.80 C468.53,344.52 471.85,345.42 473.00,346.20 C474.15,346.98 474.05,347.73 474.00,348.50 C473.95,349.27 472.48,350.03 472.70,350.80 C472.92,351.57 474.38,352.33 475.30,353.10 C476.22,353.87 477.38,354.63 478.20,355.40 C479.02,356.17 479.82,356.55 480.20,357.70 C480.58,358.85 480.45,359.92 480.50,362.30 C480.55,364.68 480.52,368.98 480.50,372.00 C480.48,375.02 480.57,378.57 480.40,380.40 C480.23,382.23 479.73,382.17 479.50,383.00 C479.27,383.83 478.93,384.57 479.00,385.40 C479.07,386.23 479.68,386.90 479.90,388.00 C480.12,389.10 480.23,389.67 480.30,392.00 C480.37,394.33 480.37,399.83 480.30,402.00 C480.23,404.17 480.03,404.17 479.90,405.00 C479.77,405.83 479.82,406.25 479.50,407.00 C479.18,407.75 478.33,408.75 478.00,409.50 C477.67,410.25 477.38,410.75 477.50,411.50 C477.62,412.25 478.25,413.22 478.70,414.00 C479.15,414.78 479.80,415.33 480.20,416.20 C480.60,417.07 480.90,417.93 481.10,419.20 C481.30,420.47 481.33,423.03 481.38,423.80 L481.62,423.80 C481.67,423.03 481.70,420.47 481.90,419.20 C482.10,417.93 482.40,417.07 482.80,416.20 C483.20,415.33 483.85,414.78 484.30,414.00 C484.75,413.22 485.38,412.25 485.50,411.50 C485.62,410.75 485.33,410.25 485.00,409.50 C484.67,408.75 483.82,407.75 483.50,407.00 C483.18,406.25 483.23,405.83 483.10,405.00 C482.97,404.17 482.77,404.17 482.70,402.00 C482.63,399.83 482.63,394.33 482.70,392.00 C482.77,389.67 482.88,389.10 483.10,388.00 C483.32,386.90 483.93,386.23 484.00,385.40 C484.07,384.57 483.73,383.83 483.50,383.00 C483.27,382.17 482.77,382.23 482.60,380.40 C482.43,378.57 482.52,375.02 482.50,372.00 C482.48,368.98 482.45,364.68 482.50,362.30 C482.55,359.92 482.42,358.85 482.80,357.70 C483.18,356.55 483.98,356.17 484.80,355.40 C485.62,354.63 486.78,353.87 487.70,353.10 C488.62,352.33 490.08,351.57 490.30,350.80 C490.52,350.03 489.05,349.27 489.00,348.50 C488.95,347.73 488.85,346.98 490.00,346.20 C491.15,345.42 494.47,344.52 495.90,343.80 C497.33,343.08 498.43,342.53 498.60,341.90 C498.77,341.27 498.22,340.70 496.90,340.00 C495.58,339.30 492.47,338.47 490.70,337.70 C488.93,336.93 487.62,336.43 486.30,335.40 C484.98,334.37 483.50,332.40 482.80,331.50 C482.10,330.60 482.27,331.92 482.10,330.00 C481.93,328.08 481.88,327.63 481.80,320.00 C481.72,312.37 481.65,290.17 481.62,284.20 Z" fill="none" stroke="#242424" stroke-width="1.1" stroke-linejoin="round"/>
<rect x="477.60" y="341.00" width="8.00" height="16.70" fill="none" stroke="#d0101c" stroke-width="1.2"/>
<line x1="477.60" y1="344.60" x2="485.60" y2="344.60" stroke="#d0101c" stroke-width="2.0"/>
<line x1="444.20" y1="276.40" x2="481.40" y2="276.40" stroke="#1c1c1c" stroke-width="1.2"/>
<line x1="444.20" y1="276.40" x2="444.20" y2="280.00" stroke="#1c1c1c" stroke-width="1.2"/>
<line x1="481.40" y1="276.40" x2="481.40" y2="280.00" stroke="#1c1c1c" stroke-width="1.2"/>
<text x="427.70" y="268.30" font-size="12" fill="#222222" stroke="#222222" stroke-width="0.22" textLength="6.52" lengthAdjust="spacingAndGlyphs"><tspan font-style="italic">P</tspan></text>
<text x="437.98" y="268.30" font-size="12" fill="#222222" stroke="#222222" stroke-width="0.22" textLength="7.51" lengthAdjust="spacingAndGlyphs">&lt;</text>
<text x="448.66" y="268.30" font-size="12" fill="#222222" stroke="#222222" stroke-width="0.22" textLength="49.83" lengthAdjust="spacingAndGlyphs">2.22e–16</text>
<line x1="421.90" y1="274.50" x2="421.90" y2="440.75" stroke="#1c1c1c" stroke-width="1.5"/>
<line x1="417.40" y1="283.20" x2="421.90" y2="283.20" stroke="#1c1c1c" stroke-width="1.3"/>
<text x="412.60" y="287.50" font-size="12" fill="#222222" stroke="#222222" stroke-width="0.22" text-anchor="end">1.25</text>
<line x1="417.40" y1="315.10" x2="421.90" y2="315.10" stroke="#1c1c1c" stroke-width="1.3"/>
<text x="412.60" y="319.40" font-size="12" fill="#222222" stroke="#222222" stroke-width="0.22" text-anchor="end">1.00</text>
<line x1="417.40" y1="347.00" x2="421.90" y2="347.00" stroke="#1c1c1c" stroke-width="1.3"/>
<text x="412.60" y="351.30" font-size="12" fill="#222222" stroke="#222222" stroke-width="0.22" text-anchor="end">0.75</text>
<line x1="417.40" y1="379.00" x2="421.90" y2="379.00" stroke="#1c1c1c" stroke-width="1.3"/>
<text x="412.60" y="383.30" font-size="12" fill="#222222" stroke="#222222" stroke-width="0.22" text-anchor="end">0.50</text>
<line x1="417.40" y1="411.00" x2="421.90" y2="411.00" stroke="#1c1c1c" stroke-width="1.3"/>
<text x="412.60" y="415.30" font-size="12" fill="#222222" stroke="#222222" stroke-width="0.22" text-anchor="end">0.25</text>
<line x1="421.15" y1="440.00" x2="504.10" y2="440.00" stroke="#1c1c1c" stroke-width="1.5"/>
<line x1="444.20" y1="440.00" x2="444.20" y2="444.00" stroke="#1c1c1c" stroke-width="1.3"/>
<text x="444.20" y="459.10" font-size="12" fill="#222222" stroke="#222222" stroke-width="0.22" text-anchor="middle" textLength="27.70" lengthAdjust="spacingAndGlyphs">EBV–</text>
<line x1="481.80" y1="440.00" x2="481.80" y2="444.00" stroke="#1c1c1c" stroke-width="1.3"/>
<text x="481.80" y="459.10" font-size="12" fill="#222222" stroke="#222222" stroke-width="0.22" text-anchor="middle" textLength="29.00" lengthAdjust="spacingAndGlyphs">EBV+</text>
<text x="380.60" y="357.20" font-size="14" fill="#222222" stroke="#222222" stroke-width="0.22" text-anchor="middle" textLength="155.60" lengthAdjust="spacingAndGlyphs" transform="rotate(-90 380.60 357.20)">Tumor inflammation signature</text>
<text x="21.50" y="500.20" font-size="16" fill="#111" stroke="#111" stroke-width="0.5" font-weight="bold" textLength="10.40" lengthAdjust="spacingAndGlyphs">F</text>
<circle cx="92.7" cy="534" r="0.85" fill="#444"/>
<circle cx="92.7" cy="536.5" r="0.85" fill="#444"/>
<circle cx="92.7" cy="539" r="0.85" fill="#444"/>
<circle cx="92.7" cy="541.5" r="0.85" fill="#444"/>
<circle cx="92.7" cy="544" r="0.85" fill="#444"/>
<circle cx="92.7" cy="546.5" r="0.85" fill="#444"/>
<circle cx="92.7" cy="549" r="0.85" fill="#444"/>
<circle cx="92.7" cy="551.5" r="0.85" fill="#444"/>
<circle cx="92.7" cy="554" r="0.85" fill="#444"/>
<circle cx="92.7" cy="556.5" r="0.85" fill="#444"/>
<line x1="92.70" y1="556.50" x2="92.70" y2="607.80" stroke="#c4c4c4" stroke-width="1.1"/>
<line x1="92.70" y1="556.50" x2="92.70" y2="569.00" stroke="#9a9a9a" stroke-width="1.1"/>
<line x1="92.70" y1="634.20" x2="92.70" y2="668.00" stroke="#c4c4c4" stroke-width="1.1"/>
<line x1="92.70" y1="668.00" x2="92.70" y2="682.70" stroke="#666" stroke-width="1.0"/>
<path d="M92.58,569.00 C92.55,569.33 92.55,570.40 92.40,571.00 C92.25,571.60 91.85,572.07 91.70,572.60 C91.55,573.13 91.63,573.25 91.50,574.20 C91.37,575.15 91.18,576.95 90.90,578.30 C90.62,579.65 90.20,580.97 89.80,582.30 C89.40,583.63 89.00,584.95 88.50,586.30 C88.00,587.65 87.35,589.05 86.80,590.40 C86.25,591.75 85.80,593.05 85.20,594.40 C84.60,595.75 83.83,597.15 83.20,598.50 C82.57,599.85 81.95,601.25 81.40,602.50 C80.85,603.75 80.28,604.92 79.90,606.00 C79.52,607.08 79.42,607.82 79.10,609.00 C78.78,610.18 78.40,611.75 78.00,613.10 C77.60,614.45 77.08,615.75 76.70,617.10 C76.32,618.45 75.93,619.98 75.70,621.20 C75.47,622.42 75.17,623.07 75.30,624.40 C75.43,625.73 76.05,627.72 76.50,629.20 C76.95,630.68 77.45,631.95 78.00,633.30 C78.55,634.65 79.13,635.97 79.80,637.30 C80.47,638.63 81.17,639.95 82.00,641.30 C82.83,642.65 83.93,644.05 84.80,645.40 C85.67,646.75 86.45,648.05 87.20,649.40 C87.95,650.75 88.68,652.15 89.30,653.50 C89.92,654.85 90.47,656.17 90.90,657.50 C91.33,658.83 91.65,660.08 91.90,661.50 C92.15,662.92 92.29,662.47 92.40,666.00 C92.51,669.53 92.55,679.92 92.58,682.70 L92.82,682.70 C92.85,679.92 92.89,669.53 93.00,666.00 C93.11,662.47 93.25,662.92 93.50,661.50 C93.75,660.08 94.07,658.83 94.50,657.50 C94.93,656.17 95.48,654.85 96.10,653.50 C96.72,652.15 97.45,650.75 98.20,649.40 C98.95,648.05 99.73,646.75 100.60,645.40 C101.47,644.05 102.57,642.65 103.40,641.30 C104.23,639.95 104.93,638.63 105.60,637.30 C106.27,635.97 106.85,634.65 107.40,633.30 C107.95,631.95 108.45,630.68 108.90,629.20 C109.35,627.72 109.97,625.73 110.10,624.40 C110.23,623.07 109.93,622.42 109.70,621.20 C109.47,619.98 109.08,618.45 108.70,617.10 C108.32,615.75 107.80,614.45 107.40,613.10 C107.00,611.75 106.62,610.18 106.30,609.00 C105.98,607.82 105.88,607.08 105.50,606.00 C105.12,604.92 104.55,603.75 104.00,602.50 C103.45,601.25 102.83,599.85 102.20,598.50 C101.57,597.15 100.80,595.75 100.20,594.40 C99.60,593.05 99.15,591.75 98.60,590.40 C98.05,589.05 97.40,587.65 96.90,586.30 C96.40,584.95 96.00,583.63 95.60,582.30 C95.20,580.97 94.78,579.65 94.50,578.30 C94.22,576.95 94.03,575.15 93.90,574.20 C93.77,573.25 93.85,573.13 93.70,572.60 C93.55,572.07 93.15,571.60 93.00,571.00 C92.85,570.40 92.85,569.33 92.82,569.00 Z" fill="none" stroke="#242424" stroke-width="1.1" stroke-linejoin="round"/>
<rect x="89.00" y="607.80" width="7.40" height="26.30" fill="none" stroke="#c4c4c4" stroke-width="1.1"/>
<line x1="89.00" y1="621.60" x2="96.40" y2="621.60" stroke="#c4c4c4" stroke-width="1.2"/>
<line x1="130.70" y1="533.00" x2="130.70" y2="550.00" stroke="#4a3a3a" stroke-width="1.1"/>
<line x1="130.70" y1="550.00" x2="130.70" y2="603.50" stroke="#d0101c" stroke-width="1.1"/>
<line x1="130.70" y1="628.80" x2="130.70" y2="686.50" stroke="#d0101c" stroke-width="1.1"/>
<path d="M130.58,550.00 C130.55,552.67 130.51,562.63 130.40,566.00 C130.29,569.37 130.10,568.83 129.90,570.20 C129.70,571.57 129.50,572.85 129.20,574.20 C128.90,575.55 128.52,576.95 128.10,578.30 C127.68,579.65 127.22,580.97 126.70,582.30 C126.18,583.63 125.55,584.95 125.00,586.30 C124.45,587.65 123.97,589.05 123.40,590.40 C122.83,591.75 122.23,593.05 121.60,594.40 C120.97,595.75 120.27,597.15 119.60,598.50 C118.93,599.85 118.27,601.17 117.60,602.50 C116.93,603.83 116.15,605.42 115.60,606.50 C115.05,607.58 114.63,607.90 114.30,609.00 C113.97,610.10 113.73,611.75 113.60,613.10 C113.47,614.45 113.48,615.75 113.50,617.10 C113.52,618.45 113.45,619.85 113.70,621.20 C113.95,622.55 114.48,623.87 115.00,625.20 C115.52,626.53 116.17,627.85 116.80,629.20 C117.43,630.55 118.13,631.95 118.80,633.30 C119.47,634.65 120.13,635.97 120.80,637.30 C121.47,638.63 122.07,639.95 122.80,641.30 C123.53,642.65 124.45,644.05 125.20,645.40 C125.95,646.75 126.72,648.05 127.30,649.40 C127.88,650.75 128.30,652.15 128.70,653.50 C129.10,654.85 129.43,656.08 129.70,657.50 C129.97,658.92 130.15,657.17 130.30,662.00 C130.45,666.83 130.53,682.42 130.58,686.50 L130.82,686.50 C130.87,682.42 130.95,666.83 131.10,662.00 C131.25,657.17 131.43,658.92 131.70,657.50 C131.97,656.08 132.30,654.85 132.70,653.50 C133.10,652.15 133.52,650.75 134.10,649.40 C134.68,648.05 135.45,646.75 136.20,645.40 C136.95,644.05 137.87,642.65 138.60,641.30 C139.33,639.95 139.93,638.63 140.60,637.30 C141.27,635.97 141.93,634.65 142.60,633.30 C143.27,631.95 143.97,630.55 144.60,629.20 C145.23,627.85 145.88,626.53 146.40,625.20 C146.92,623.87 147.45,622.55 147.70,621.20 C147.95,619.85 147.88,618.45 147.90,617.10 C147.92,615.75 147.93,614.45 147.80,613.10 C147.67,611.75 147.43,610.10 147.10,609.00 C146.77,607.90 146.35,607.58 145.80,606.50 C145.25,605.42 144.47,603.83 143.80,602.50 C143.13,601.17 142.47,599.85 141.80,598.50 C141.13,597.15 140.43,595.75 139.80,594.40 C139.17,593.05 138.57,591.75 138.00,590.40 C137.43,589.05 136.95,587.65 136.40,586.30 C135.85,584.95 135.22,583.63 134.70,582.30 C134.18,580.97 133.72,579.65 133.30,578.30 C132.88,576.95 132.50,575.55 132.20,574.20 C131.90,572.85 131.70,571.57 131.50,570.20 C131.30,568.83 131.11,569.37 131.00,566.00 C130.89,562.63 130.85,552.67 130.82,550.00 Z" fill="none" stroke="#242424" stroke-width="1.1" stroke-linejoin="round"/>
<rect x="126.30" y="603.30" width="8.30" height="25.30" fill="none" stroke="#d0101c" stroke-width="1.2"/>
<line x1="126.30" y1="616.70" x2="134.60" y2="616.70" stroke="#d0101c" stroke-width="2.0"/>
<line x1="92.70" y1="529.00" x2="131.00" y2="529.00" stroke="#1c1c1c" stroke-width="1.2"/>
<line x1="92.70" y1="529.00" x2="92.70" y2="533.00" stroke="#1c1c1c" stroke-width="1.2"/>
<line x1="131.00" y1="529.00" x2="131.00" y2="533.00" stroke="#1c1c1c" stroke-width="1.2"/>
<text x="76.10" y="520.80" font-size="12" fill="#222222" stroke="#222222" stroke-width="0.22" textLength="6.58" lengthAdjust="spacingAndGlyphs"><tspan font-style="italic">P</tspan></text>
<text x="86.47" y="520.80" font-size="12" fill="#222222" stroke="#222222" stroke-width="0.22" textLength="7.58" lengthAdjust="spacingAndGlyphs">&lt;</text>
<text x="97.24" y="520.80" font-size="12" fill="#222222" stroke="#222222" stroke-width="0.22" textLength="50.26" lengthAdjust="spacingAndGlyphs">2.22e–16</text>
<line x1="70.60" y1="527.00" x2="70.60" y2="695.05" stroke="#1c1c1c" stroke-width="1.5"/>
<line x1="66.10" y1="572.00" x2="70.60" y2="572.00" stroke="#1c1c1c" stroke-width="1.3"/>
<text x="60.40" y="576.30" font-size="12" fill="#222222" stroke="#222222" stroke-width="0.22" text-anchor="end">0.1</text>
<line x1="66.10" y1="624.40" x2="70.60" y2="624.40" stroke="#1c1c1c" stroke-width="1.3"/>
<text x="60.40" y="628.70" font-size="12" fill="#222222" stroke="#222222" stroke-width="0.22" text-anchor="end">0.0</text>
<line x1="66.10" y1="677.30" x2="70.60" y2="677.30" stroke="#1c1c1c" stroke-width="1.3"/>
<text x="60.40" y="681.60" font-size="12" fill="#222222" stroke="#222222" stroke-width="0.22" text-anchor="end">−0.1</text>
<line x1="69.85" y1="694.30" x2="153.50" y2="694.30" stroke="#1c1c1c" stroke-width="1.5"/>
<line x1="92.80" y1="694.30" x2="92.80" y2="698.30" stroke="#1c1c1c" stroke-width="1.3"/>
<text x="92.80" y="713.50" font-size="12" fill="#222222" stroke="#222222" stroke-width="0.22" text-anchor="middle" textLength="26.60" lengthAdjust="spacingAndGlyphs">EBV–</text>
<line x1="130.60" y1="694.30" x2="130.60" y2="698.30" stroke="#1c1c1c" stroke-width="1.3"/>
<text x="130.60" y="713.50" font-size="12" fill="#222222" stroke="#222222" stroke-width="0.22" text-anchor="middle" textLength="28.40" lengthAdjust="spacingAndGlyphs">EBV+</text>
<text x="29.60" y="610.40" font-size="14" fill="#222222" stroke="#222222" stroke-width="0.22" text-anchor="middle" textLength="105.80" lengthAdjust="spacingAndGlyphs" transform="rotate(-90 29.60 610.40)">NK: IFN-γ production</text>
<text x="195.00" y="500.20" font-size="16" fill="#111" stroke="#111" stroke-width="0.5" font-weight="bold" textLength="13.40" lengthAdjust="spacingAndGlyphs">G</text>
<circle cx="275.7" cy="531" r="0.85" fill="#444"/>
<circle cx="275.7" cy="534" r="0.85" fill="#444"/>
<circle cx="275.7" cy="537" r="0.85" fill="#444"/>
<circle cx="275.7" cy="540" r="0.85" fill="#444"/>
<circle cx="275.7" cy="543" r="0.85" fill="#444"/>
<circle cx="275.7" cy="546" r="0.85" fill="#444"/>
<circle cx="275.7" cy="549" r="0.85" fill="#444"/>
<circle cx="275.7" cy="551.5" r="0.85" fill="#444"/>
<line x1="275.70" y1="551.70" x2="275.70" y2="601.40" stroke="#c4c4c4" stroke-width="1.1"/>
<line x1="275.70" y1="632.40" x2="275.70" y2="668.00" stroke="#c4c4c4" stroke-width="1.1"/>
<path d="M275.58,545.00 C275.55,546.17 275.55,550.53 275.40,552.00 C275.25,553.47 274.87,552.75 274.70,553.80 C274.53,554.85 274.57,556.82 274.40,558.30 C274.23,559.78 273.95,561.23 273.70,562.70 C273.45,564.17 273.20,565.63 272.90,567.10 C272.60,568.57 272.27,570.02 271.90,571.50 C271.53,572.98 271.12,574.52 270.70,576.00 C270.28,577.48 269.85,578.93 269.40,580.40 C268.95,581.87 268.47,583.33 268.00,584.80 C267.53,586.27 267.12,587.72 266.60,589.20 C266.08,590.68 265.43,592.57 264.90,593.70 C264.37,594.83 263.88,595.27 263.40,596.00 C262.92,596.73 262.60,597.02 262.00,598.10 C261.40,599.18 260.40,601.03 259.80,602.50 C259.20,603.97 258.77,605.75 258.40,606.90 C258.03,608.05 257.97,608.25 257.60,609.40 C257.23,610.55 256.50,612.47 256.20,613.80 C255.90,615.13 255.53,615.92 255.80,617.40 C256.07,618.88 257.17,621.08 257.80,622.70 C258.43,624.32 259.02,625.63 259.60,627.10 C260.18,628.57 260.75,630.02 261.30,631.50 C261.85,632.98 262.35,634.52 262.90,636.00 C263.45,637.48 263.93,638.93 264.60,640.40 C265.27,641.87 266.15,643.33 266.90,644.80 C267.65,646.27 268.45,647.72 269.10,649.20 C269.75,650.68 270.25,652.22 270.80,653.70 C271.35,655.18 271.90,656.63 272.40,658.10 C272.90,659.57 273.42,661.03 273.80,662.50 C274.18,663.97 274.43,665.42 274.70,666.90 C274.97,668.38 275.25,668.15 275.40,671.40 C275.55,674.65 275.55,683.90 275.58,686.40 L275.82,686.40 C275.85,683.90 275.85,674.65 276.00,671.40 C276.15,668.15 276.43,668.38 276.70,666.90 C276.97,665.42 277.22,663.97 277.60,662.50 C277.98,661.03 278.50,659.57 279.00,658.10 C279.50,656.63 280.05,655.18 280.60,653.70 C281.15,652.22 281.65,650.68 282.30,649.20 C282.95,647.72 283.75,646.27 284.50,644.80 C285.25,643.33 286.13,641.87 286.80,640.40 C287.47,638.93 287.95,637.48 288.50,636.00 C289.05,634.52 289.55,632.98 290.10,631.50 C290.65,630.02 291.22,628.57 291.80,627.10 C292.38,625.63 292.97,624.32 293.60,622.70 C294.23,621.08 295.33,618.88 295.60,617.40 C295.87,615.92 295.50,615.13 295.20,613.80 C294.90,612.47 294.17,610.55 293.80,609.40 C293.43,608.25 293.37,608.05 293.00,606.90 C292.63,605.75 292.20,603.97 291.60,602.50 C291.00,601.03 290.00,599.18 289.40,598.10 C288.80,597.02 288.48,596.73 288.00,596.00 C287.52,595.27 287.03,594.83 286.50,593.70 C285.97,592.57 285.32,590.68 284.80,589.20 C284.28,587.72 283.87,586.27 283.40,584.80 C282.93,583.33 282.45,581.87 282.00,580.40 C281.55,578.93 281.12,577.48 280.70,576.00 C280.28,574.52 279.87,572.98 279.50,571.50 C279.13,570.02 278.80,568.57 278.50,567.10 C278.20,565.63 277.95,564.17 277.70,562.70 C277.45,561.23 277.17,559.78 277.00,558.30 C276.83,556.82 276.87,554.85 276.70,553.80 C276.53,552.75 276.15,553.47 276.00,552.00 C275.85,550.53 275.85,546.17 275.82,545.00 Z" fill="none" stroke="#242424" stroke-width="1.1" stroke-linejoin="round"/>
<rect x="271.40" y="601.20" width="8.50" height="30.80" fill="none" stroke="#c4c4c4" stroke-width="1.1"/>
<line x1="271.40" y1="616.90" x2="279.90" y2="616.90" stroke="#c4c4c4" stroke-width="1.2"/>
<line x1="319.00" y1="529.00" x2="319.00" y2="544.00" stroke="#3a3a3a" stroke-width="1.1"/>
<line x1="319.00" y1="544.00" x2="319.00" y2="597.30" stroke="#d0101c" stroke-width="1.1"/>
<line x1="319.00" y1="627.50" x2="319.00" y2="672.00" stroke="#d0101c" stroke-width="1.1"/>
<line x1="319.00" y1="672.00" x2="319.00" y2="684.00" stroke="#8a1a1a" stroke-width="1.1"/>
<path d="M318.88,545.00 C318.85,546.83 318.81,553.50 318.70,556.00 C318.59,558.50 318.40,558.88 318.20,560.00 C318.00,561.12 317.82,561.52 317.50,562.70 C317.18,563.88 316.78,565.63 316.30,567.10 C315.82,568.57 315.18,570.02 314.60,571.50 C314.02,572.98 313.43,574.52 312.80,576.00 C312.17,577.48 311.47,578.93 310.80,580.40 C310.13,581.87 309.42,583.33 308.80,584.80 C308.18,586.27 307.65,587.72 307.10,589.20 C306.55,590.68 306.07,592.22 305.50,593.70 C304.93,595.18 304.22,596.63 303.70,598.10 C303.18,599.57 302.83,601.03 302.40,602.50 C301.97,603.97 301.48,605.75 301.10,606.90 C300.72,608.05 300.42,608.25 300.10,609.40 C299.78,610.55 299.28,612.32 299.20,613.80 C299.12,615.28 299.32,616.82 299.60,618.30 C299.88,619.78 300.40,621.23 300.90,622.70 C301.40,624.17 301.95,625.63 302.60,627.10 C303.25,628.57 304.05,630.02 304.80,631.50 C305.55,632.98 306.32,634.52 307.10,636.00 C307.88,637.48 308.73,638.93 309.50,640.40 C310.27,641.87 310.97,643.33 311.70,644.80 C312.43,646.27 313.23,647.72 313.90,649.20 C314.57,650.68 315.18,652.22 315.70,653.70 C316.22,655.18 316.63,656.63 317.00,658.10 C317.37,659.57 317.62,661.02 317.90,662.50 C318.18,663.98 318.54,663.23 318.70,667.00 C318.86,670.77 318.85,682.08 318.88,685.10 L319.12,685.10 C319.15,682.08 319.14,670.77 319.30,667.00 C319.46,663.23 319.82,663.98 320.10,662.50 C320.38,661.02 320.63,659.57 321.00,658.10 C321.37,656.63 321.78,655.18 322.30,653.70 C322.82,652.22 323.43,650.68 324.10,649.20 C324.77,647.72 325.57,646.27 326.30,644.80 C327.03,643.33 327.73,641.87 328.50,640.40 C329.27,638.93 330.12,637.48 330.90,636.00 C331.68,634.52 332.45,632.98 333.20,631.50 C333.95,630.02 334.75,628.57 335.40,627.10 C336.05,625.63 336.60,624.17 337.10,622.70 C337.60,621.23 338.12,619.78 338.40,618.30 C338.68,616.82 338.88,615.28 338.80,613.80 C338.72,612.32 338.22,610.55 337.90,609.40 C337.58,608.25 337.28,608.05 336.90,606.90 C336.52,605.75 336.03,603.97 335.60,602.50 C335.17,601.03 334.82,599.57 334.30,598.10 C333.78,596.63 333.07,595.18 332.50,593.70 C331.93,592.22 331.45,590.68 330.90,589.20 C330.35,587.72 329.82,586.27 329.20,584.80 C328.58,583.33 327.87,581.87 327.20,580.40 C326.53,578.93 325.83,577.48 325.20,576.00 C324.57,574.52 323.98,572.98 323.40,571.50 C322.82,570.02 322.18,568.57 321.70,567.10 C321.22,565.63 320.82,563.88 320.50,562.70 C320.18,561.52 320.00,561.12 319.80,560.00 C319.60,558.88 319.41,558.50 319.30,556.00 C319.19,553.50 319.15,546.83 319.12,545.00 Z" fill="none" stroke="#242424" stroke-width="1.1" stroke-linejoin="round"/>
<rect x="314.40" y="597.70" width="9.20" height="29.90" fill="none" stroke="#d0101c" stroke-width="1.2"/>
<line x1="314.40" y1="613.00" x2="323.60" y2="613.00" stroke="#d0101c" stroke-width="2.0"/>
<line x1="275.60" y1="529.20" x2="318.90" y2="529.20" stroke="#1c1c1c" stroke-width="1.2"/>
<line x1="275.60" y1="524.50" x2="275.60" y2="533.00" stroke="#1c1c1c" stroke-width="1.2"/>
<line x1="318.90" y1="529.20" x2="318.90" y2="533.00" stroke="#1c1c1c" stroke-width="1.2"/>
<text x="261.90" y="521.90" font-size="12" fill="#222222" stroke="#222222" stroke-width="0.22" textLength="6.62" lengthAdjust="spacingAndGlyphs"><tspan font-style="italic">P</tspan></text>
<text x="272.33" y="521.90" font-size="12" fill="#222222" stroke="#222222" stroke-width="0.22" textLength="7.62" lengthAdjust="spacingAndGlyphs">&lt;</text>
<text x="283.16" y="521.90" font-size="12" fill="#222222" stroke="#222222" stroke-width="0.22" textLength="50.54" lengthAdjust="spacingAndGlyphs">2.22e–16</text>
<line x1="249.60" y1="516.50" x2="249.60" y2="695.25" stroke="#1c1c1c" stroke-width="1.5"/>
<line x1="245.10" y1="541.50" x2="249.60" y2="541.50" stroke="#1c1c1c" stroke-width="1.3"/>
<text x="240.60" y="545.80" font-size="12" fill="#222222" stroke="#222222" stroke-width="0.22" text-anchor="end">0.3</text>
<line x1="245.10" y1="581.50" x2="249.60" y2="581.50" stroke="#1c1c1c" stroke-width="1.3"/>
<text x="240.60" y="585.80" font-size="12" fill="#222222" stroke="#222222" stroke-width="0.22" text-anchor="end">0.2</text>
<line x1="245.10" y1="621.30" x2="249.60" y2="621.30" stroke="#1c1c1c" stroke-width="1.3"/>
<text x="240.60" y="625.60" font-size="12" fill="#222222" stroke="#222222" stroke-width="0.22" text-anchor="end">0.1</text>
<line x1="245.10" y1="661.30" x2="249.60" y2="661.30" stroke="#1c1c1c" stroke-width="1.3"/>
<text x="240.60" y="665.60" font-size="12" fill="#222222" stroke="#222222" stroke-width="0.22" text-anchor="end">0.0</text>
<line x1="248.85" y1="694.50" x2="345.00" y2="694.50" stroke="#1c1c1c" stroke-width="1.5"/>
<line x1="275.60" y1="694.50" x2="275.60" y2="698.50" stroke="#1c1c1c" stroke-width="1.3"/>
<text x="275.60" y="713.60" font-size="12" fill="#222222" stroke="#222222" stroke-width="0.22" text-anchor="middle" textLength="27.70" lengthAdjust="spacingAndGlyphs">EBV–</text>
<line x1="319.00" y1="694.50" x2="319.00" y2="698.50" stroke="#1c1c1c" stroke-width="1.3"/>
<text x="319.00" y="713.60" font-size="12" fill="#222222" stroke="#222222" stroke-width="0.22" text-anchor="middle" textLength="28.90" lengthAdjust="spacingAndGlyphs">EBV+</text>
<text x="197.30" y="605.65" font-size="14" fill="#222222" stroke="#222222" stroke-width="0.22" text-anchor="middle" textLength="80.30" lengthAdjust="spacingAndGlyphs" transform="rotate(-90 197.30 605.65)">T: T cell receptor</text>
<text x="215.10" y="605.30" font-size="14" fill="#222222" stroke="#222222" stroke-width="0.22" text-anchor="middle" textLength="93.80" lengthAdjust="spacingAndGlyphs" transform="rotate(-90 215.10 605.30)">signaling pathway</text>
<text x="369.50" y="500.20" font-size="16" fill="#111" stroke="#111" stroke-width="0.5" font-weight="bold" textLength="13.00" lengthAdjust="spacingAndGlyphs">H</text>
<circle cx="445.1" cy="528" r="0.85" fill="#666"/>
<circle cx="445.1" cy="531" r="0.85" fill="#666"/>
<circle cx="445.1" cy="534" r="0.85" fill="#666"/>
<circle cx="445.1" cy="537" r="0.85" fill="#666"/>
<circle cx="445.1" cy="540" r="0.85" fill="#666"/>
<circle cx="445.1" cy="543" r="0.85" fill="#666"/>
<circle cx="445.1" cy="546" r="0.85" fill="#666"/>
<circle cx="445.1" cy="549" r="0.85" fill="#666"/>
<circle cx="445.1" cy="552" r="0.85" fill="#666"/>
<circle cx="445.1" cy="555" r="0.85" fill="#666"/>
<circle cx="445.1" cy="558" r="0.85" fill="#666"/>
<circle cx="445.1" cy="561" r="0.85" fill="#666"/>
<circle cx="445.1" cy="564" r="0.85" fill="#666"/>
<circle cx="445.1" cy="567" r="0.85" fill="#666"/>
<circle cx="445.1" cy="570" r="0.85" fill="#666"/>
<line x1="445.10" y1="572.00" x2="445.10" y2="615.40" stroke="#c4c4c4" stroke-width="1.1"/>
<line x1="445.10" y1="636.30" x2="445.10" y2="676.00" stroke="#c4c4c4" stroke-width="1.1"/>
<path d="M444.98,572.00 C444.90,572.58 444.70,574.50 444.50,575.50 C444.30,576.50 444.07,577.05 443.80,578.00 C443.53,578.95 443.25,580.00 442.90,581.20 C442.55,582.40 442.07,583.87 441.70,585.20 C441.33,586.53 440.97,587.85 440.70,589.20 C440.43,590.55 440.28,591.95 440.10,593.30 C439.92,594.65 439.68,595.97 439.60,597.30 C439.52,598.63 439.45,599.95 439.60,601.30 C439.75,602.65 440.57,604.05 440.50,605.40 C440.43,606.75 439.82,608.38 439.20,609.40 C438.58,610.42 437.70,610.82 436.80,611.50 C435.90,612.18 434.67,612.83 433.80,613.50 C432.93,614.17 432.27,614.83 431.60,615.50 C430.93,616.17 430.38,616.75 429.80,617.50 C429.22,618.25 428.55,619.25 428.10,620.00 C427.65,620.75 427.18,621.33 427.10,622.00 C427.02,622.67 427.37,623.32 427.60,624.00 C427.83,624.68 428.03,625.08 428.50,626.10 C428.97,627.12 429.78,628.75 430.40,630.10 C431.02,631.45 431.50,632.85 432.20,634.20 C432.90,635.55 433.73,636.87 434.60,638.20 C435.47,639.53 436.60,640.85 437.40,642.20 C438.20,643.55 438.93,644.95 439.40,646.30 C439.87,647.65 440.02,648.97 440.20,650.30 C440.38,651.63 440.38,652.95 440.50,654.30 C440.62,655.65 440.80,657.05 440.90,658.40 C441.00,659.75 440.88,661.05 441.10,662.40 C441.32,663.75 441.75,665.15 442.20,666.50 C442.65,667.85 443.37,669.30 443.80,670.50 C444.23,671.70 444.60,671.00 444.80,673.70 C445.00,676.40 444.95,684.53 444.98,686.70 L445.22,686.70 C445.25,684.53 445.20,676.40 445.40,673.70 C445.60,671.00 445.97,671.70 446.40,670.50 C446.83,669.30 447.55,667.85 448.00,666.50 C448.45,665.15 448.88,663.75 449.10,662.40 C449.32,661.05 449.20,659.75 449.30,658.40 C449.40,657.05 449.58,655.65 449.70,654.30 C449.82,652.95 449.82,651.63 450.00,650.30 C450.18,648.97 450.33,647.65 450.80,646.30 C451.27,644.95 452.00,643.55 452.80,642.20 C453.60,640.85 454.73,639.53 455.60,638.20 C456.47,636.87 457.30,635.55 458.00,634.20 C458.70,632.85 459.18,631.45 459.80,630.10 C460.42,628.75 461.23,627.12 461.70,626.10 C462.17,625.08 462.37,624.68 462.60,624.00 C462.83,623.32 463.18,622.67 463.10,622.00 C463.02,621.33 462.55,620.75 462.10,620.00 C461.65,619.25 460.98,618.25 460.40,617.50 C459.82,616.75 459.27,616.17 458.60,615.50 C457.93,614.83 457.27,614.17 456.40,613.50 C455.53,612.83 454.30,612.18 453.40,611.50 C452.50,610.82 451.62,610.42 451.00,609.40 C450.38,608.38 449.77,606.75 449.70,605.40 C449.63,604.05 450.45,602.65 450.60,601.30 C450.75,599.95 450.68,598.63 450.60,597.30 C450.52,595.97 450.28,594.65 450.10,593.30 C449.92,591.95 449.77,590.55 449.50,589.20 C449.23,587.85 448.87,586.53 448.50,585.20 C448.13,583.87 447.65,582.40 447.30,581.20 C446.95,580.00 446.67,578.95 446.40,578.00 C446.13,577.05 445.90,576.50 445.70,575.50 C445.50,574.50 445.30,572.58 445.22,572.00 Z" fill="none" stroke="#242424" stroke-width="1.1" stroke-linejoin="round"/>
<rect x="441.30" y="615.50" width="8.40" height="21.10" fill="none" stroke="#c4c4c4" stroke-width="1.1"/>
<line x1="441.30" y1="624.90" x2="449.70" y2="624.90" stroke="#c4c4c4" stroke-width="1.2"/>
<line x1="484.60" y1="545.00" x2="484.60" y2="560.00" stroke="#6a1a1a" stroke-width="1.2"/>
<line x1="484.60" y1="560.00" x2="484.60" y2="615.40" stroke="#d0101c" stroke-width="1.3"/>
<line x1="484.60" y1="633.10" x2="484.60" y2="679.00" stroke="#d0101c" stroke-width="1.4"/>
<path d="M484.48,575.00 C484.43,575.50 484.35,577.08 484.20,578.00 C484.05,578.92 483.97,579.42 483.60,580.50 C483.23,581.58 482.50,583.15 482.00,584.50 C481.50,585.85 480.87,587.25 480.60,588.60 C480.33,589.95 480.37,591.25 480.40,592.60 C480.43,593.95 480.68,595.35 480.80,596.70 C480.92,598.05 481.05,599.37 481.10,600.70 C481.15,602.03 481.12,603.35 481.10,604.70 C481.08,606.05 481.17,607.83 481.00,608.80 C480.83,609.77 480.55,609.97 480.10,610.50 C479.65,611.03 479.05,611.50 478.30,612.00 C477.55,612.50 476.50,612.97 475.60,613.50 C474.70,614.03 473.98,614.37 472.90,615.20 C471.82,616.03 470.13,617.42 469.10,618.50 C468.07,619.58 467.12,620.92 466.70,621.70 C466.28,622.48 466.28,622.67 466.60,623.20 C466.92,623.73 467.95,624.35 468.60,624.90 C469.25,625.45 469.75,625.95 470.50,626.50 C471.25,627.05 472.53,627.67 473.10,628.20 C473.67,628.73 473.67,628.92 473.90,629.70 C474.13,630.48 474.53,631.82 474.50,632.90 C474.47,633.98 473.60,635.32 473.70,636.20 C473.80,637.08 474.43,637.53 475.10,638.20 C475.77,638.87 476.62,639.20 477.70,640.20 C478.78,641.20 480.58,642.98 481.60,644.20 C482.62,645.42 483.47,646.20 483.80,647.50 C484.13,648.80 483.68,650.42 483.60,652.00 C483.52,653.58 483.38,655.33 483.30,657.00 C483.22,658.67 483.08,660.33 483.10,662.00 C483.12,663.67 483.28,665.33 483.40,667.00 C483.52,668.67 483.65,670.67 483.80,672.00 C483.95,673.33 484.19,673.70 484.30,675.00 C484.41,676.30 484.45,679.00 484.48,679.80 L484.72,679.80 C484.75,679.00 484.79,676.30 484.90,675.00 C485.01,673.70 485.25,673.33 485.40,672.00 C485.55,670.67 485.68,668.67 485.80,667.00 C485.92,665.33 486.08,663.67 486.10,662.00 C486.12,660.33 485.98,658.67 485.90,657.00 C485.82,655.33 485.68,653.58 485.60,652.00 C485.52,650.42 485.07,648.80 485.40,647.50 C485.73,646.20 486.58,645.42 487.60,644.20 C488.62,642.98 490.42,641.20 491.50,640.20 C492.58,639.20 493.43,638.87 494.10,638.20 C494.77,637.53 495.40,637.08 495.50,636.20 C495.60,635.32 494.73,633.98 494.70,632.90 C494.67,631.82 495.07,630.48 495.30,629.70 C495.53,628.92 495.53,628.73 496.10,628.20 C496.67,627.67 497.95,627.05 498.70,626.50 C499.45,625.95 499.95,625.45 500.60,624.90 C501.25,624.35 502.28,623.73 502.60,623.20 C502.92,622.67 502.92,622.48 502.50,621.70 C502.08,620.92 501.13,619.58 500.10,618.50 C499.07,617.42 497.38,616.03 496.30,615.20 C495.22,614.37 494.50,614.03 493.60,613.50 C492.70,612.97 491.65,612.50 490.90,612.00 C490.15,611.50 489.55,611.03 489.10,610.50 C488.65,609.97 488.37,609.77 488.20,608.80 C488.03,607.83 488.12,606.05 488.10,604.70 C488.08,603.35 488.05,602.03 488.10,600.70 C488.15,599.37 488.28,598.05 488.40,596.70 C488.52,595.35 488.77,593.95 488.80,592.60 C488.83,591.25 488.87,589.95 488.60,588.60 C488.33,587.25 487.70,585.85 487.20,584.50 C486.70,583.15 485.97,581.58 485.60,580.50 C485.23,579.42 485.15,578.92 485.00,578.00 C484.85,577.08 484.77,575.50 484.72,575.00 Z" fill="none" stroke="#242424" stroke-width="1.1" stroke-linejoin="round"/>
<rect x="480.10" y="615.60" width="8.60" height="17.30" fill="none" stroke="#d0101c" stroke-width="1.2"/>
<line x1="480.10" y1="622.90" x2="488.70" y2="622.90" stroke="#d0101c" stroke-width="2.0"/>
<line x1="444.80" y1="521.70" x2="485.00" y2="521.70" stroke="#1c1c1c" stroke-width="1.2"/>
<line x1="444.80" y1="521.70" x2="444.80" y2="525.60" stroke="#1c1c1c" stroke-width="1.2"/>
<line x1="485.00" y1="521.70" x2="485.00" y2="525.60" stroke="#1c1c1c" stroke-width="1.2"/>
<text x="443.70" y="514.40" font-size="12" fill="#222222" stroke="#222222" stroke-width="0.22" textLength="42.10" lengthAdjust="spacingAndGlyphs">0.00034</text>
<line x1="420.60" y1="520.00" x2="420.60" y2="695.15" stroke="#1c1c1c" stroke-width="1.5"/>
<line x1="416.10" y1="525.00" x2="420.60" y2="525.00" stroke="#1c1c1c" stroke-width="1.3"/>
<text x="413.00" y="529.30" font-size="12" fill="#222222" stroke="#222222" stroke-width="0.22" text-anchor="end">1.50</text>
<line x1="416.10" y1="558.70" x2="420.60" y2="558.70" stroke="#1c1c1c" stroke-width="1.3"/>
<text x="413.00" y="563.00" font-size="12" fill="#222222" stroke="#222222" stroke-width="0.22" text-anchor="end">1.25</text>
<line x1="416.10" y1="592.50" x2="420.60" y2="592.50" stroke="#1c1c1c" stroke-width="1.3"/>
<text x="413.00" y="596.80" font-size="12" fill="#222222" stroke="#222222" stroke-width="0.22" text-anchor="end">1.00</text>
<line x1="416.10" y1="626.30" x2="420.60" y2="626.30" stroke="#1c1c1c" stroke-width="1.3"/>
<text x="413.00" y="630.60" font-size="12" fill="#222222" stroke="#222222" stroke-width="0.22" text-anchor="end">0.75</text>
<line x1="416.10" y1="660.00" x2="420.60" y2="660.00" stroke="#1c1c1c" stroke-width="1.3"/>
<text x="413.00" y="664.30" font-size="12" fill="#222222" stroke="#222222" stroke-width="0.22" text-anchor="end">0.50</text>
<line x1="416.10" y1="693.80" x2="420.60" y2="693.80" stroke="#1c1c1c" stroke-width="1.3"/>
<text x="413.00" y="698.10" font-size="12" fill="#222222" stroke="#222222" stroke-width="0.22" text-anchor="end">0.25</text>
<line x1="419.85" y1="694.40" x2="508.40" y2="694.40" stroke="#1c1c1c" stroke-width="1.5"/>
<line x1="444.90" y1="694.40" x2="444.90" y2="698.40" stroke="#1c1c1c" stroke-width="1.3"/>
<text x="444.90" y="713.80" font-size="12" fill="#222222" stroke="#222222" stroke-width="0.22" text-anchor="middle" textLength="27.90" lengthAdjust="spacingAndGlyphs">EBV–</text>
<line x1="484.50" y1="694.40" x2="484.50" y2="698.40" stroke="#1c1c1c" stroke-width="1.3"/>
<text x="484.50" y="713.80" font-size="12" fill="#222222" stroke="#222222" stroke-width="0.22" text-anchor="middle" textLength="28.60" lengthAdjust="spacingAndGlyphs">EBV+</text>
<text x="380.10" y="607.45" font-size="14" fill="#222222" stroke="#222222" stroke-width="0.22" text-anchor="middle" textLength="27.90" lengthAdjust="spacingAndGlyphs" transform="rotate(-90 380.10 607.45)">T: Tex</text>
<text x="24.00" y="754.30" font-size="17.5" fill="#111" stroke="#111" stroke-width="0.5" font-weight="bold">I</text>
<text x="262.40" y="779.20" font-size="11.5" fill="#222222" stroke="#222222" stroke-width="0.12" text-anchor="end" textLength="115.70" lengthAdjust="spacingAndGlyphs">Viral gene expression</text>
<line x1="267.50" y1="775.20" x2="272.20" y2="775.20" stroke="#1c1c1c" stroke-width="1.3"/>
<text x="262.40" y="795.40" font-size="11.5" fill="#222222" stroke="#222222" stroke-width="0.12" text-anchor="end" textLength="94.70" lengthAdjust="spacingAndGlyphs">Viral transcription</text>
<line x1="267.50" y1="791.40" x2="272.20" y2="791.40" stroke="#1c1c1c" stroke-width="1.3"/>
<text x="262.40" y="811.60" font-size="11.5" fill="#222222" stroke="#222222" stroke-width="0.12" text-anchor="end" textLength="116.80" lengthAdjust="spacingAndGlyphs">Translational initiation</text>
<line x1="267.50" y1="807.60" x2="272.20" y2="807.60" stroke="#1c1c1c" stroke-width="1.3"/>
<text x="262.40" y="827.80" font-size="11.5" fill="#222222" stroke="#222222" stroke-width="0.12" text-anchor="end" textLength="243.60" lengthAdjust="spacingAndGlyphs">Protein localization to endoplasmic reticulum</text>
<line x1="267.50" y1="823.80" x2="272.20" y2="823.80" stroke="#1c1c1c" stroke-width="1.3"/>
<text x="262.40" y="844.00" font-size="11.5" fill="#222222" stroke="#222222" stroke-width="0.12" text-anchor="end" textLength="168.70" lengthAdjust="spacingAndGlyphs">Protein targeting to membrane</text>
<line x1="267.50" y1="840.00" x2="272.20" y2="840.00" stroke="#1c1c1c" stroke-width="1.3"/>
<text x="262.40" y="860.20" font-size="11.5" fill="#222222" stroke="#222222" stroke-width="0.12" text-anchor="end" textLength="209.10" lengthAdjust="spacingAndGlyphs">Post–translational protein modification</text>
<line x1="267.50" y1="856.20" x2="272.20" y2="856.20" stroke="#1c1c1c" stroke-width="1.3"/>
<text x="262.40" y="876.40" font-size="11.5" fill="#222222" stroke="#222222" stroke-width="0.12" text-anchor="end" textLength="228.70" lengthAdjust="spacingAndGlyphs">Interleukin–1–mediated signaling pathway</text>
<line x1="267.50" y1="872.40" x2="272.20" y2="872.40" stroke="#1c1c1c" stroke-width="1.3"/>
<text x="262.40" y="892.60" font-size="11.5" fill="#222222" stroke="#222222" stroke-width="0.12" text-anchor="end" textLength="196.40" lengthAdjust="spacingAndGlyphs">Regulation of neutrophil chemotaxis</text>
<line x1="267.50" y1="888.60" x2="272.20" y2="888.60" stroke="#1c1c1c" stroke-width="1.3"/>
<text x="262.40" y="908.80" font-size="11.5" fill="#222222" stroke="#222222" stroke-width="0.12" text-anchor="end" textLength="187.00" lengthAdjust="spacingAndGlyphs">Regulation of neutrophil migration</text>
<line x1="267.50" y1="904.80" x2="272.20" y2="904.80" stroke="#1c1c1c" stroke-width="1.3"/>
<rect x="272.20" y="767.20" width="174.50" height="148.30" fill="none" stroke="#1c1c1c" stroke-width="1.5"/>
<line x1="297.10" y1="915.50" x2="297.10" y2="919.60" stroke="#1c1c1c" stroke-width="1.3"/>
<line x1="338.50" y1="915.50" x2="338.50" y2="919.60" stroke="#1c1c1c" stroke-width="1.3"/>
<line x1="380.00" y1="915.50" x2="380.00" y2="919.60" stroke="#1c1c1c" stroke-width="1.3"/>
<line x1="421.40" y1="915.50" x2="421.40" y2="919.60" stroke="#1c1c1c" stroke-width="1.3"/>
<text x="297.10" y="934.80" font-size="11.5" fill="#222222" stroke="#222222" stroke-width="0.12" text-anchor="middle" textLength="7.50" lengthAdjust="spacingAndGlyphs">T</text>
<text x="338.50" y="934.80" font-size="11.5" fill="#222222" stroke="#222222" stroke-width="0.12" text-anchor="middle" textLength="17.50" lengthAdjust="spacingAndGlyphs">NK</text>
<text x="380.00" y="934.80" font-size="11.5" fill="#222222" stroke="#222222" stroke-width="0.12" text-anchor="middle" textLength="29.50" lengthAdjust="spacingAndGlyphs">Mono</text>
<text x="421.40" y="934.80" font-size="11.5" fill="#222222" stroke="#222222" stroke-width="0.12" text-anchor="middle" textLength="37.50" lengthAdjust="spacingAndGlyphs">Neutro</text>
<text x="90.80" y="952.60" font-size="11.5" fill="#44548e" stroke="#44548e" stroke-width="0.1" textLength="170.70" lengthAdjust="spacingAndGlyphs">Number of up-regulated genes:</text>
<text x="297.10" y="952.40" font-size="11.5" fill="#44548e" stroke="#44548e" stroke-width="0.1" text-anchor="middle" textLength="20.30" lengthAdjust="spacingAndGlyphs">249</text>
<text x="338.50" y="952.40" font-size="11.5" fill="#44548e" stroke="#44548e" stroke-width="0.1" text-anchor="middle" textLength="20.00" lengthAdjust="spacingAndGlyphs">160</text>
<text x="380.00" y="952.40" font-size="11.5" fill="#44548e" stroke="#44548e" stroke-width="0.1" text-anchor="middle" textLength="12.70" lengthAdjust="spacingAndGlyphs">95</text>
<text x="421.40" y="952.40" font-size="11.5" fill="#44548e" stroke="#44548e" stroke-width="0.1" text-anchor="middle" textLength="19.40" lengthAdjust="spacingAndGlyphs">322</text>
<circle cx="297.10" cy="775.20" r="4.80" fill="#e8180f" stroke="#b0100c" stroke-width="0.5"/>
<circle cx="297.10" cy="791.40" r="4.80" fill="#e8180f" stroke="#b0100c" stroke-width="0.5"/>
<circle cx="297.10" cy="807.60" r="4.30" fill="#e8180f" stroke="#b0100c" stroke-width="0.5"/>
<circle cx="297.10" cy="823.80" r="3.90" fill="#e8180f" stroke="#b0100c" stroke-width="0.5"/>
<circle cx="297.10" cy="840.00" r="3.90" fill="#e8180f" stroke="#b0100c" stroke-width="0.5"/>
<circle cx="338.50" cy="775.20" r="3.20" fill="#2f1d8c" stroke="#2f1d8c" stroke-width="0.5"/>
<circle cx="338.50" cy="791.40" r="3.20" fill="#2f1d8c" stroke="#2f1d8c" stroke-width="0.5"/>
<circle cx="338.50" cy="856.20" r="4.80" fill="#8a2aa0" stroke="#8a2aa0" stroke-width="0.5"/>
<circle cx="380.00" cy="775.20" r="7.20" fill="#e8180f" stroke="#b0100c" stroke-width="0.5"/>
<circle cx="380.00" cy="791.40" r="7.20" fill="#e8180f" stroke="#b0100c" stroke-width="0.5"/>
<circle cx="380.00" cy="807.60" r="7.20" fill="#e8180f" stroke="#b0100c" stroke-width="0.5"/>
<circle cx="380.00" cy="823.80" r="7.20" fill="#e8180f" stroke="#b0100c" stroke-width="0.5"/>
<circle cx="380.00" cy="840.00" r="7.20" fill="#e8180f" stroke="#b0100c" stroke-width="0.5"/>
<circle cx="421.40" cy="872.40" r="1.50" fill="#7a2088" stroke="#7a2088" stroke-width="0.5"/>
<circle cx="421.40" cy="888.60" r="2.90" fill="#7a1f92" stroke="#7a1f92" stroke-width="0.5"/>
<circle cx="421.40" cy="904.80" r="3.00" fill="#2f1d8c" stroke="#2f1d8c" stroke-width="0.5"/>
<text x="456.10" y="768.30" font-size="11.5" fill="#222222" stroke="#222222" stroke-width="0.12" textLength="53.10" lengthAdjust="spacingAndGlyphs">Gene ratio</text>
<circle cx="469.1" cy="782.1" r="3.9" fill="#111"/>
<text x="480.70" y="786.10" font-size="11.5" fill="#222222" stroke="#222222" stroke-width="0.12" textLength="21.50" lengthAdjust="spacingAndGlyphs">0.02</text>
<circle cx="469.1" cy="796.4" r="5.9" fill="#111"/>
<text x="480.70" y="800.40" font-size="11.5" fill="#222222" stroke="#222222" stroke-width="0.12" textLength="21.50" lengthAdjust="spacingAndGlyphs">0.04</text>
<circle cx="469.1" cy="811.6" r="6.9" fill="#111"/>
<text x="480.70" y="815.60" font-size="11.5" fill="#222222" stroke="#222222" stroke-width="0.12" textLength="21.50" lengthAdjust="spacingAndGlyphs">0.06</text>
<text x="456.10" y="837.10" font-size="11.5" fill="#222222" stroke="#222222" stroke-width="0.12" textLength="36.00" lengthAdjust="spacingAndGlyphs"><tspan font-style="italic">P</tspan> value</text>
<defs><linearGradient id="cb" x1="0" y1="0" x2="0" y2="1"><stop offset="0" stop-color="#e8101a"/><stop offset="0.2" stop-color="#ea0a3c"/><stop offset="0.38" stop-color="#e0086a"/><stop offset="0.55" stop-color="#bf1090"/><stop offset="0.75" stop-color="#7c2098"/><stop offset="1" stop-color="#352690"/></linearGradient></defs>
<rect x="461.00" y="851.00" width="18.30" height="72.70" fill="url(#cb)" stroke="none" stroke-width="1"/>
<line x1="461.00" y1="876.30" x2="464.50" y2="876.30" stroke="#ffffff" stroke-width="1.0"/>
<line x1="475.80" y1="876.30" x2="479.30" y2="876.30" stroke="#ffffff" stroke-width="1.0"/>
<line x1="461.00" y1="902.60" x2="464.50" y2="902.60" stroke="#ffffff" stroke-width="1.0"/>
<line x1="475.80" y1="902.60" x2="479.30" y2="902.60" stroke="#ffffff" stroke-width="1.0"/>
<text x="483.90" y="853.70" font-size="11.5" fill="#222222" stroke="#222222" stroke-width="0.12" textLength="21.30" lengthAdjust="spacingAndGlyphs">0.00</text>
<text x="483.90" y="879.70" font-size="11.5" fill="#222222" stroke="#222222" stroke-width="0.12" textLength="21.30" lengthAdjust="spacingAndGlyphs">0.05</text>
<text x="483.90" y="905.50" font-size="11.5" fill="#222222" stroke="#222222" stroke-width="0.12" textLength="21.30" lengthAdjust="spacingAndGlyphs">0.10</text>
<rect x="0.50" y="0.50" width="519.00" height="965.00" fill="none" stroke="#1a1a1a" stroke-width="1.2"/>
</svg>
</body></html>
